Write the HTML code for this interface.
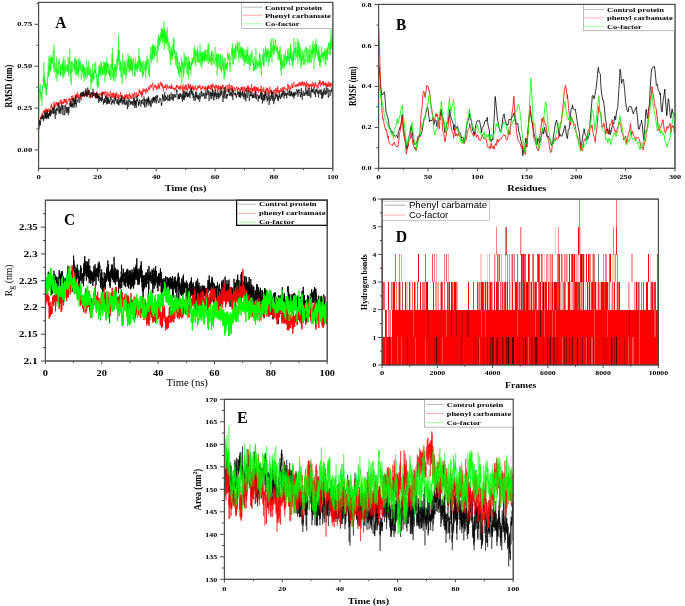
<!DOCTYPE html>
<html><head><meta charset="utf-8"><style>
html,body{margin:0;padding:0;background:#fff;}
svg{display:block;filter:blur(0.3px);}
</style></head><body>
<svg width="685" height="606" viewBox="0 0 685 606">
<rect width="685" height="606" fill="#fff"/>
<clipPath id="cA"><rect x="38.6" y="2.4" width="294.2" height="166.0"/></clipPath>
<path d="M38.6 149.9l.2-41.1.1 2.1.2-7.2.2-2.8.1-2.9.2-3.8.1-5.6.2 4.2.2-1.8.1-2.7.2-4.4.2 10.2.1-2.7.2 8.9.2-8.4.1 5.2.2-2.7.1-2.3.2 7.9.2 1 .1 4.9.2-4.4.2-15.3.1 3.6.2 2.4.2-7.2.1 2 .2 0 .1-10.3.2 4.3.2.3.1-19.1.2 23.2.2-7 .1 6 .2-9.8.2 12.2.1 0 .2 1.5.1-7.8.2 7.1.2-5 .1 1.3.2 10.8.2-1.4.1-8.3.2 2.7.1.2.2 7.2.2-3.2.1-7.7.2 4.8.2-11.8.1 4.5.2 3.4.2-9.7.1-2.9.2 3.4.1-11.6.2 5.1.2 7.7.1-1.3.2-20.1.2 6.3.1 7.1.2 5.2.2-15.9.1 6.2.2 7.1.1-5.5.2 4.6.2-12.7.1 8.2.2-.9.2 5.8.1-16.3.2 5.8.2 3 .1-6.8.2 6.9.1.4.2-4.3.2 3 .1-.6.2-5 .2 3.3.1 3.2.2-6.1.2-4.8.1-2.7.2 12.6.1 4.5.2-2.7.2 7.6.1-27.8.2 15.8.2 1 .1 3.7.2 4.9.2-5.1.1-1.6.2 6.2.1 2.8.2-3.9.2 1.5.1 8.5.2.4.2-10.2.1-11.6.2 15 .2-1.1.1 3.2.2 7.4.1-13.5.2 2.3.2 4.7.1-4.4.2 2.8.2-10.9.1 10.5.2-2.1.2 1.4.1 2.5.2-13.3.1 1.4.2-4.2.2 4 .1-1.5.2 5.9.2.6.1-.5.2 8.8.2-10.8.1 9.3.2-1.8.1 3.9.2-12.1.2 2.6.1-1.7.2 4.4.2-.3.1-1.5.2 6.9.1-5 .2-5.9.2 6.5.1-7.6.2 10.1.2 5.9.1-18.9.2 16.4.2-8 .1-2.7.2-9.2.1 8.2.2 12.3.2-10.9.1 4.8.2 2.5.2.4.1-1.4.2-12.7.2 9.3.1 4.1.2-1.5.1-3.6.2-3.5.2 1.7.1 2.1.2 3.3.2-.3.1-5.3.2 1.1.2 2.3.1-2.8.2-1.5.1 6.6.2-2.2.2 2.3.1-14.2.2 5.5.2 13.1.1-5.3.2-6.5.2 2.4.1 5.1.2-8.2.1-6.4.2 7 .2-5.3.1-9.9.2 20.7.2 12.1.1-12.9.2 4.3.2-.2.1-10.8.2-.2.1 9.9.2 13.3.2-3.9.1-20.6.2 12.1.2-4.4.1 3.5.2-2.6.2-4.3.1-3.4.2 4.9.1.8.2-.1.2-1.8.1-1.5.2 2.4.2 1.6.1-.8.2 3.2.2-4.8.1 4.8.2-12.4.1 11.7.2 1.1.2 2.7.1-1.2.2-14.7.2 10.2.1 7.1.2 1.1.1-14.2.2 1 .2 6.2.1-8.3.2 14.4.2-3 .1-11.7.2 11 .2.4.1-2.4.2 5.3.1-7.1.2 7.2.2-15.2.1 14.1.2 4 .2-4.9.1-5.6.2 4.8.2-14.3.1 12.2.2-8.4.1 4.4.2-2.1.2 5.7.1-1.9.2-6.4.2 3.4.1 6.2.2.1.2-6 .1 14.7.2-4.2.1-2.1.2-2.4.2-.8.1-5.2.2 2.1.2 5.9.1-5.6.2-1.1.2 6.3.1-8.6.2 13.2.1-6.5.2-1.3.2-1 .1-3.7.2 8 .2-5.1.1 14.2.2-14 .2 6.2.1-1.9.2-3.4.1 3.2.2 3.1.2-2.6.1 4.8.2-8.7.2 3.7.1 7.4.2-11 .2-7.5.1-1 .2 4.5.1-.3.2.3.2 13.3.1-10.6.2 4.4.2 4.2.1-8.9.2 8.6.2-2.5.1-.5.2.3.1-12 .2 4.9.2 9.2.1-1.7.2-1.7.2 4.1.1-5.7.2-3.1.2 4.3.1-1.1.2 7.4.1-.5.2-7 .2 20.4.1-9 .2-2.7.2 3.6.1-8.6.2 10.6.1-10.8.2 4.2.2 1.5.1-7.9.2-7.4.2 13.4.1 5.1.2-7.9.2-1.3.1-1.9.2 8.5.1-6.4.2-.3.2-.8.1 7.5.2-1.5.2-8.4.1-.2.2 3.9.2-10.9.1 10.1.2-2.8.1 3.4.2-2.5.2 2 .1-10.4.2 14.3.2-.8.1.6.2-2.1.2-.5.1 11.2.2-10 .1 2.4.2.6.2 4.5.1 6.4.2-7.9.2-1.8.1 7.1.2-8.2.2-7 .1 15.9.2-14.3.1-7.2.2 10.7.2-9.6.1 3.9.2 2.4.2-8.2.1 1.2.2 5.6.2 2.2.1-6.7.2 6.9.1.1.2-12.5.2 15.7.1-3.5.2-2.9.2-7.7.1 1.8.2 5.1.2 2.7.1 2.7.2-6.2.1-2.2.2 7.5.2.2.1-7.8.2 8.1.2-3.9.1-2.3.2-6.3.2 3 .1 6.5.2-9.5.1 7.4.2 4.3.2-10.4.1 18.7.2-20.6.2 9.3.1-3 .2-5.4.1 12.2.2 1 .2-1.3.1-8.1.2 8.6.2-6.2.1 1.7.2-12.8.2 14.9.1.2.2-10.9.1 4.5.2-2.3.2.4.1 5.5.2-6.1.2 9.9.1-2.5.2.2.2-1.6.1 2.5.2-7.7.1 9.3.2 2.4.2-6.7.1 6.1.2.7.2-5.6.1 7.8.2.6.2-10.1.1-4.9.2 5.3.1-1.3.2 11.3.2-12 .1-3.5.2 3.5.2-2.9.1-10.4.2 12 .2-18.8.1 23 .2-11.8.1 19.7.2-5.9.2 5 .1-9.6.2 3 .2 0 .1 10.4.2-10.1.2 4.6.1-2.4.2-4.9.1-2.6.2 6.9.2-9 .1 17.6.2-14.5.2 3 .1-2.7.2.2.2-2.6.1 5.4.2-1.6.1 8.7.2-18.6.2.3.1 1.7.2-.5.2 9.2.1-9.6.2 1.6.2-5.2.1-1.3.2 9.9.1-16.1.2 12.5.2-26.9.1 23.4.2-7.1.2 11 .1-6.4.2-5.4.1 10.5.2 4.6.2 5.9.1-11.2.2 11.1.2-7.9.1 3 .2-4.5.2 15.3.1.3.2-11.7.1-1 .2-.4.2 9.1.1 5.3.2-4.7.2 10.4.1-14.6.2-1.6.2-14.3.1 15.1.2.2.1 3.4.2-6 .2 8.3.1-9.4.2-5.4.2 10.5.1-3.5.2 7.8.2-12.9.1 3 .2 4.7.1 4.4.2 1.8.2-5.4.1-8.4.2 6.5.2 6.7.1 4.2.2-10.2.2 1.4.1-.7.2-.7.1 6.2.2-15.8.2 6.8.1 4.3.2-3.5.2-2.2.1 2.4.2-.4.2-12.9.1 10.7.2-4.7.1 7.8.2-11.4.2 7.6.1 8.8.2-8 .2 6.2.1-2.7.2-9.1.2-2.9.1 14.1.2-11.2.1 11.3.2-3.3.2-7.2.1 2.8.2.4.2 7.3.1-13.5.2 6.9.2 7 .1-10.1.2 10.6.1-12.4.2 6.8.2 9.7.1-11.9.2 5.6.2-4.7.1-.7.2-2.1.2-.8.1-2.6.2 6.3.1-1.7.2 3.4.2 10.9.1-5.2.2-1.7.2-5.7.1 2.8.2 9.1.1-1.6.2-16.4.2 10.6.1-5.4.2 1.4.2 4.2.1 2.5.2-8 .2 6.1.1-.7.2-2 .1-3.1.2-3.2.2 6.5.1 4.6.2-6.8.2 2.1.1 1.5.2-2.7.2-1 .1 2.9.2-12 .1 7.9.2-15.4.2 14.9.1 2.2.2-8.2.2 11.5.1 3.2.2-6.1.2-4.3.1 1.7.2-3.6.1 12.6.2-9.1.2 5.5.1-1.9.2-4 .2-.2.1 3.3.2 8 .2-9.7.1-.2.2 2.1.1-4.4.2 16.3.2-3.3.1-3.6.2-1.5.2-8.7.1 14.6.2-3.4.2 3 .1-5.2.2-2.7.1-3.4.2 4.2.2 2.5.1-.3.2-1.2.2-2.4.1-5.2.2 1.6.2 10.8.1 5 .2-16.2.1 9.2.2-10.8.2-1.5.1 6.8.2-1 .2 3.6.1-7.3.2-6 .2 8 .1 1.4.2-.5.1-4.4.2-1.3.2 9 .1 5.5.2-4.7.2.2.1 6.8.2-15.4.1 7.1.2-1.6.2 11.1.1-7.3.2-1.6.2-1.9.1 0 .2-16.5.2-2.4.1 12.1.2-4.2.1 4.9.2-1.8.2-3.6.1 8.6.2-7.4.2 2.2.1-10.9.2 8 .2-6.2.1-4.5.2 15.4.1-9.9.2 10.4.2-8.3.1-7.2.2 9 .2.6.1-8.6.2 6.4.2-4.3.1-1 .2 11.9.1-10.4.2-2.5.2 9.8.1-3.9.2 0 .2-3.8.1-1.3.2 2.8.2 6.8.1-2.2.2-1.7.1-2.2.2 2.8.2 1.6.1.6.2 3.7.2 4 .1-6.4.2-11.5.2 4.2.1-10.8.2 8.6.1 4.8.2-3.5.2-5.8.1-7.9.2 4.9.2 5.2.1-3.3.2-4.3.2 1.4.1 7.8.2-5.1.1-4.5.2 5.7.2-3.4.1-5.9.2 2.3.2 6.1.1-3.4.2-5.7.2-4 .1 10.2.2-3.3.1 4.4.2-11.1.2 9.3.1-8.5.2 14.8.2-8.6.1-5.7.2 5.2.2 2.3.1 4.3.2-9.4.1 4.4.2 2.3.2-17.8.1 18.9.2 9.7.2-5.7.1-16 .2 10.7.1-9.2.2 14.4.2-12.8.1 10.9.2-4.6.2 5.1.1-1.9.2-3.8.2-5.1.1 8.1.2 2.9.1 1.4.2-10.1.2 11.2.1-2.6.2-15.1.2 12.3.1 2.3.2-4.4.2 10.9.1 1.1.2-5.4.1 1.3.2-2.1.2 2.1.1-4.5.2 10.7.2.2.1.6.2 0 .2-6.9.1 0 .2 12.6.1-5.7.2 12.7.2-15.4.1.2.2 2.4.2.3.1-5.9.2 8.5.2-1.8.1 6.5.2-9.9.1 1 .2.5.2 8 .1-7.9.2 4.9.2-12.5.1 6.1.2 5.2.2-17.7.1 8.8.2 2.3.1 2.5.2-12.2.2 2 .1 13.2.2-3.3.2 2.9.1-3.2.2 8.8.2-2.8.1 1.4.2-1.6.1 8.7.2-1.5.2-11.5.1 9.2.2-6.8.2-2.6.1 6.9.2 2.3.2 6.3.1-11.6.2 3.9.1 9.6.2-12.1.2 7.7.1-3.4.2 1 .2 9.7.1 1.2.2-6.8.1 8.3.2-2 .2-4 .1-1.2.2-6.3.2 6.6.1 5.3.2 4.2.2-11.4.1 2.3.2 3.6.1-.8.2-4.9.2 6.5.1-.3.2-7.1.2.4.1-7.9.2 9.5.2 16.4.1-6.8.2-14.3.1 4.3.2-.3.2 1.5.1-7.6.2 5.9.2 5 .1-.4.2 6.2.2-9.4.1-4.9.2 10.4.1-21.3.2 10.4.2 0 .1 5.8.2-.6.2-9.8.1-2.6.2 12.3.2-3.4.1-4 .2 0 .1-3.7.2 2.6.2-2 .1 6.8.2-.1.2 9.4.1-8.5.2-7.2.2 7.6.1 6.5.2 2.3.1 1.5.2-12.3.2 4.5.1-11.2.2 14.5.2 8.2.1-13.6.2-2.7.2 7.1.1-10 .2 7.4.1-6.3.2 9.4.2-1.8.1-1.7.2 3.7.2-.3.1-4.8.2-.5.2 10.5.1-9.5.2-2.7.1-1.3.2 3.4.2-2.5.1 3.5.2-9.1.2 5.1.1 1.7.2-3.8.2-1.9.1 4.6.2-2.5.1 1.6.2-3.7.2-1.1.1 4.7.2-3.4.2-10.5.1 6.5.2 3.9.1-12.5.2 2.7.2 1.3.1-.2.2 14.4.2-13.7.1 4.4.2 4.2.2 7 .1-9.9.2-6.2.1 1 .2 3.7.2 1.2.1-3.3.2.7.2 8.5.1-8.1.2 8.2.2-14.8.1 6.7.2-3.1.1 9.4.2-6.4.2 6.6.1.8.2-1.1.2 2.7.1-3.5.2-7.3.2 6.9.1 4.2.2-5 .1-4.5.2-8.7.2-.9.1 7.9.2 5.7.2 7.9.1-11.6.2 6.4.2-4.9.1-3.7.2 10.7.1-8.8.2-.1.2 14.6.1-6.7.2 2.3.2-11.9.1 10.6.2-9.8.2-1.5.1.3.2 5.4.1 4.5.2-.8.2-6.9.1 5.6.2-3.2.2-.4.1 6.4.2-9.8.2 8.2.1-10.4.2 10.4.1-10 .2 9.4.2-2.2.1.7.2-8.4.2 5.9.1-1.3.2 3.8.2-3.1.1 6.8.2-7.8.1-1.7.2 0 .2-3.5.1 5.1.2 7.2.2-6.5.1-3.2.2-9 .1 21.4.2-14.4.2-2.6.1-2.4.2.2.2 4.3.1 10.1.2-.9.2 3.4.1-7.4.2 3.3.1 5.5.2-6.7.2 2 .1.4.2 2.3.2-2.2.1 4 .2 2.5.2-13.8.1 8.7.2-9.7.1 9.6.2 4.3.2-2 .1-4.7.2 2.1.2-2.8.1-5 .2 3.4.2-1 .1 5 .2-.8.1 3.8.2-1.8.2 3.9.1-7.3.2.6.2-.6.1-.4.2-2.9.2-7.1.1 8 .2 3.6.1 2.4.2-2.9.2 5 .1 3.9.2-12 .2 4.8.1 3.8.2-10.9.2 9 .1 6.6.2 8 .1-21.2.2 1.4.2 6.7.1 5.2.2-4.7.2-1.9.1-8.2.2 9.2.2-4.3.1-3.7.2 10.1.1 2.8.2-3.1.2-1.9.1-.2.2 5.1.2 2.7.1-13.7.2 4 .2-6.6.1 5.1.2 10 .1-12.6.2 13.6.2 0 .1-2.5.2-.5.2 6 .1-6.7.2-3.5.2-7.5.1 1.1.2 9.6.1-3.4.2 2.9.2 3.9.1-10.1.2 4.4.2 6.5.1-2.9.2 3.8.1 8.6.2-21.4.2 17.1.1 2.7.2-7.1.2 1.2.1 2.2.2-17 .2 11.3.1-4.9.2.9.1 5.2.2-4 .2 2.9.1-2.3.2 1.3.2-4.6.1 5.7.2-1 .2 3.2.1-8.6.2 3.5.1-14 .2 5.7.2-.6.1-3.3.2 6.2.2-3.7.1 2.1.2 1.1.2 1 .1-3.3.2-3.9.1 13.1.2.5.2-5 .1 10.3.2-2.1.2-2.1.1-2 .2-4.2.2-5.1.1.6.2 2.9.1-4.5.2-2.3.2-3.3.1 2.9.2-5.6.2 6.8.1 1.8.2-12.6.2 15.4.1 5 .2-15.5.1 5.6.2-.8.2 8.3.1.5.2 3.1.2-16 .1.1.2 8.2.2-1.8.1-4.6.2.6.1 8.2.2-11.5.2 3.7.1 3.4.2-8.7.2 4.3.1-7.9.2 16.3.2-4.4.1-4.5.2.9.1-1.1.2-.4.2-3.8.1 2.3.2-.8.2 4.3.1-9.3.2 6.6.1-7.6.2 2.3.2-.1.1 5.3.2 3 .2 9.6.1-10.7.2 6.5.2-7.1.1 4.1.2-3.5.1-8.8.2 5.3.2 3.9.1 2.5.2-4.7.2 9.6.1-8.3.2-3.7.2 5.7.1-4.1.2 9.3.1-10.5.2 4.7.2 4.1.1.3.2-8.6.2 6.6.1-4.5.2 10.5.2-9 .1 4.6.2-7.9.1 9.3.2 1.5.2-8.1.1 5.8.2-3.2.2 12.8.1-10.3.2 6.3.2-2.3.1-6.8.2-3.9.1 7.5.2 5.1.2-1.2.1-5.2.2 8.1.2-4.3.1-4.7.2-1 .2 1.2.1 7 .2-12.1.1 7.4.2-6.3.2 13.6.1-9.3.2-1.7.2-6.2.1 1.8.2 12.8.2 2.3.1-5.6.2-2.7.1 4.6.2 4.8.2-6.6.1-1.4.2 5.5.2-7.6.1 15.1.2-11.3.2-1.7.1 6.5.2-.2.1 3.1.2-7.9.2-5 .1 3.3.2.3.2-4.2.1 2 .2 8.2.2-1.7.1-1.9.2-8.7.1 6.6.2 0 .2 1.6.1 4 .2 1.1.2-6 .1 12.8.2-7.4.1 5.8.2 1.6.2-3.6.1 3.9.2-1.8.2-1.8.1 1.5.2-12.5.2 6 .1 5.5.2 1.6.1-7.7.2 6.2.2-9.6.1-10.6.2 9.5.2 12.1.1-2.9.2-4.3.2-2.7.1 4.4.2-1.1.1 1.1.2 2.6.2-3.4.1-1.9.2 8 .2-2.3.1-1.5.2-1.1.2 1.6.1-6 .2 2.4.1-.7.2 4 .2-3.4.1-8.7.2 5.6.2-5.8.1 14.3.2-10.6.2 4.6.1 6.7.2-3 .1-4.6.2 4.5.2-2.1.1.4.2 12.8.2-12.3.1-1.3.2.5.2-2 .1-6.2.2 2.9.1 2.5.2-1.1.2.8.1 4.2.2-10.9.2 12.7.1-17.7.2 7.8.2 6.3.1 3 .2-2.6.1-10.6.2.9.2-.2.1 4.2.2-2.6.2-7.3.1-.7.2 6.9.2-5.3.1 12.1.2-7.3.1-3.9.2 2.2.2 10.8.1-5.4.2-2.1.2-2.5.1 4.6.2-6.7.1 3.5.2 2.8.2-8.2.1 7.9.2-.2.2 10.6.1-15.5.2 2.4.2-.7.1-1.7.2 7.4.1 4.1.2-5.7.2-.2.1-2.5.2 5 .2-8.6.1-8.9.2-.1.2 11.1.1 4.6.2-5.8.1 5.8.2-18.5.2 14.5.1-4.8.2.6.2 13.5.1-13.8.2.7.2-3.4.1 2.4.2 3.2.1.4.2-14.2.2 2.4.1 9.2.2 4.5.2-9.8.1 11.3.2-8.6.2.9.1-1.9.2 5.4.1-6.2.2.6.2.4.1-6.8.2 4.1.2-2.9.1 9.1.2.8.2-3.2.1 1.9.2-.9.1 4.1.2-4.3.2 2.3.1-5 .2 7.2.2-1.1.1-3.9.2.1.2 12.7.1-7.9.2 3.5.1-.2.2-4.5.2 7.7.1 0 .2-4.4.2 2.6.1 2.5.2.1.2-9.7.1 10.7.2-9.5.1-4.9.2 17.2.2-4.6.1 1.8.2 10.3.2-17 .1 11.8.2-9.3.1 19.5.2-11.9.2-3.6.1.1.2 1.9.2-2.6.1 8.6.2-5.5.2 4.1.1 2.2.2-3.8.1-2.3.2 1 .2 1.9.1-5.4.2-6.2.2 12 .1-7.5.2-3.5.2 13.2.1-6.4.2-4.7.1 2.5.2-.2.2-8.7.1 7.6.2-.9.2 7.2.1-1.1.2 0 .2.6.1.2.2-8.5.1 7.8.2-8 .2 1.4.1 4.8.2-7.9.2-4.5.1 9.2.2-.1.2-10.5.1 7.3.2 4.5.1 1.3.2-5.3.2 1.1.1.9.2 1.8.2 5.2.1-11.5.2 4.5.2-9.9.1 6.8.2-2.3.1 5.9.2-15 .2 10.5.1 4.8.2-2.6.2-7.3.1 6.8.2 4.9.2-1.2.1-3.5.2 9.3.1-12.4.2 7.1.2-3.2.1 5 .2 5.6.2-10.4.1 3.5.2-8.9.2 11.3.1-14.4.2-10.5.1 15.7.2.7.2-1 .1-5.8.2 8.6.2-1.2.1 1.8.2 3.3.2-7.1.1-4.8.2 5.7.1-12.1.2 10.8.2-5.5.1 3.5.2 6.1.2-2.8.1 3.7.2-3.2.1-2.5.2-2.7.2 5.5.1-16.2.2 22.3.2 2.8.1-10 .2-4 .2-8.3.1 7.8.2 6.8.1-5.1.2 5.6.2-7.7.1-5.7.2 17.3.2-10.6.1-3 .2 8.1.2 2.7.1-1.3.2.9.1-9.8.2 21.2.2-12.7.1 3.7.2 3.2.2-3.3.1-1.8.2 7.9.2-15.7.1 10.6.2-.7.1-1.1.2-3.1.2-3.5.1 4.9.2 1.7.2 1.6.1-5.9.2 10.2.2-9.4.1-4.7.2.7.1-1.7.2 7.9.2 5.8.1-4.2.2 6.2.2-1.8.1-2.1.2-7.9.2-1.8.1-4.7.2 4.5.1 2 .2-6.1.2 9.2.1 2 .2 3.2.2-1.3.1-9.2.2-3.1.2.9.1 7 .2 8.4.1-.5.2-8.7.2-3.1.1-1.7.2-.6.2 8.9.1-3.2.2 7.3.2-5 .1 3.3.2-6 .1-6.1.2 13.4.2-17.6.1 5.3.2 3.9.2 3.4.1-1.7.2 6.3.1-1.1.2 2.4.2-8.7.1-4.3.2 3.7.2-5.4.1 7.5.2 3.2.2-14.8.1 6.8.2 2.2.1-1.3.2 1.6.2-12.9.1 14.4.2-3.5.2-4.5.1 12.2.2 9.9.2-11.6.1-2.4.2.8.1-6.4.2-5.7.2 9.4.1-1.3.2-6.4.2 12.5.1-9.4.2-9.9.2 12.3.1-7.7.2 5.4.1-4.8.2 9.5.2-7.4.1 4.1.2 4 .2-2.3.1.3.2 2 .2.9.1-6 .2 9.7.1-8.1.2 10.4.2-3.2.1.2.2-12.3.2 15.7.1-10.2.2 14.8.2-7.2.1-3.9.2 5.3.1-5.5.2 6.9.2-4.2.1 7 .2 2.5.2-7.6.1 3 .2-9.1.2-7.1.1 7.4.2 4.6.1 0 .2-5 .2 3.5.1-1.7.2-1.9.2 4 .1-3.1.2-1.7.2 9 .1-9.3.2-.4.1 2.9.2 3.8.2-3.6.1-.9.2-3 .2 5 .1-3.8.2 2 .2-5.9.1 16.9.2-.2.1-11.3.2-3.4.2 13.6.1-6 .2-4.7.2 2.2.1 4 .2-9.7.1 6.7.2-1.9.2-6.6.1 4.2.2-3 .2 11.3.1-13.4.2 3.8.2 3.7.1-2.4.2-9.6.1 1.2.2-1 .2 5.6.1-.6.2-4.5.2 9.3.1.5.2 2.1.2-12.9.1 9.9.2-.6.1 3.5.2-16.3.2 10.7.1-4 .2-16 .2 14.6.1 4.9.2-6.6.2 1 .1 3.9.2-10.7.1 8.3.2-.7.2-.2.1-3.4.2 17.6" fill="none" stroke="#00ff00" stroke-width="0.5" stroke-opacity="1" stroke-linejoin="round" clip-path="url(#cA)"/>
<path d="M38.6 130.2l.2-1.5.2-2.5.2-4.4.2-1.1.3 1.9.2-1.6.2-2 .2-.6.2-1.4.2 2 .2.2.2-1.6.2-2.2.2-.6.3-1 .2-.9.2 1.7.2 3.2.2-3.5.2 1.6.2-2.5.2-1.8.2.6.2-.9.3-1.3.2 2.4.2-2 .2.2.2 1 .2-.2.2-.2.2-1.9.2 2.5.2-1 .3 2 .2-3.4.2-1.2.2 4.8.2-3.6.2 4.3.2-4.4.2.8.2.5.3-.2.2-.1.2 1.8.2-1.7.2-2 .2.3.2 1 .2.6.2 3.4.2-4 .3 1.7.2 2 .2-3.5.2 1.6.2-2.3.2-3.8.2 2.6.2-3.1.2-1.3.2 1.7.3 1.2.2 1.4.2 2 .2-.8.2-1.6.2-.4.2.2.2 1 .2-.3.3-6.3.2 4.8.2-1.7.2-.3.2-.2.2-.7.2 2.2.2.9.2-2.5.2-.5.3-1.3.2 1.7.2.3.2-2.1.2 3.1.2-.9.2.4.2 1.2.2-.1.2-3.9.3 1.9.2 3.3.2-2 .2-1.1.2-1.5.2 2.7.2-2.2.2.1.2-1.2.2-1.8.3.6.2 1.2.2 1.1.2.8.2-4.6.2.3.2 6 .2-3.2.2-.7.3.1.2 1.9.2-1.1.2.4.2-1.8.2.2.2 2.4.2-.1.2-2.2.2-2.5.3 3.3.2-1.7.2-1.6.2 3.4.2-3.1.2.4.2 2.8.2-2 .2-1 .2-.9.3.3.2 1.5.2 4.4.2-2.8.2 1.6.2-2.8.2-.1.2.5.2 0 .3-1 .2-1.2.2-.8.2 1.1.2.5.2-.8.2 2.4.2-2.2.2-.8.2.8.3 1.3.2-.8.2 1.5.2-2.4.2 1.6.2-2.3.2-2.4.2 3.7.2-.4.2-.5.3 1.9.2-3.9.2-1.2.2 3.9.2-1.8.2 4.1.2-.6.2 1.1.2-1.5.2-1.5.3 0 .2-1.3.2-1 .2-2.3.2 1.5.2 1 .2-2.2.2 2.3.2-2.4.3 3.8.2-4.1.2 1.2.2 2.1.2-5.7.2 3.7.2 1.3.2-1.5.2 2.7.2-2.5.3-1.4.2.8.2.8.2 2.1.2.9.2-.3.2-2 .2-2.2.2-.2.2 3.1.3.6.2-.9.2 0 .2-1.6.2 4.2.2.7.2-5 .2.6.2-.7.3 1.1.2-2.6.2.6.2 1.9.2-.3.2-1 .2-.9.2.2.2-.3.2 3 .3-1.2.2-.2.2-3 .2-1.7.2 3.1.2 1.8.2.2.2-2.2.2.1.2-.9.3 1.6.2 1.9.2-1.6.2-1.7.2 1.3.2.6.2-.7.2-4.9.2 1.7.2 2.9.3.5.2-.6.2 4 .2-.5.2-2.7.2.5.2-1.1.2 0 .2 4.1.3-.1.2-2.1.2 0 .2-1 .2-1.6.2 1.1.2.8.2 2.5.2-.6.2-3.8.3-1.2.2.2.2 2.6.2.3.2-2.5.2 3 .2-2.2.2.3.2-.1.2 2.8.3-2.8.2-.5.2 2.6.2-1.4.2-.2.2 0 .2 4 .2-6.8.2 5.3.3.9.2-2.5.2-1.2.2-1.3.2 2.8.2-1.1.2 1.3.2 1.8.2-1.8.2-.8.3-.7.2 2.3.2-1.9.2-.7.2.3.2-1.4.2 1.9.2-.1.2.5.2.2.3-.8.2 2.4.2-4.7.2 3.8.2-1.6.2.1.2-.7.2-1.1.2-1 .2 2.7.3-2.4.2 1.9.2-1.4.2-.9.2.6.2 3.3.2-2 .2-.2.2-1.1.3.9.2-1.9.2 2.4.2.6.2 1.6.2 3 .2-1.8.2.8.2-2.9.2-3.2.3 2.7.2 2.1.2 0 .2-2.9.2-1.3.2.8.2.4.2 2.3.2-.2.2 1.4.3-.6.2-2.4.2 1.1.2 1.5.2-3.2.2-2.2.2 2 .2-.4.2.9.3 3.7.2-.1.2-3.6.2-.2.2.6.2.7.2-1.7.2 4.5.2-1.7.2-2.3.3-.2.2 4.2.2-3.7.2-1.2.2 6 .2-.6.2-.7.2 1.2.2-3.9.2 3.7.3-5.1.2 2.5.2 2.6.2-4.1.2.9.2.8.2-3.7.2 1 .2 2.2.2 2.5.3-.6.2-1.2.2 1.6.2-3.8.2.5.2 4.3.2-1.3.2-.8.2 2.5.3-2.6.2-1.7.2.2.2.8.2.5.2.4.2-4.8.2 2.5.2.2.2 2 .3-1.3.2 2 .2-2.1.2-.4.2 4.2.2 0 .2-1.5.2-1 .2 2.3.2-1.8.3 2 .2-.5.2-.7.2-1.2.2-1.3.2 3.2.2-1.5.2-2.5.2 1.1.3 3.2.2-3 .2 3.1.2-.1.2-2.1.2-3 .2 2.7.2-.7.2-1 .2 3.2.3.7.2-2.7.2-1.4.2 4.6.2-.9.2.5.2-1.2.2-1.7.2-1.2.2 1.1.3-2.7.2 2.4.2 2.7.2-3.2.2 1.6.2-.1.2 2.5.2-1.7.2-.8.2 2 .3-2 .2.1.2-1 .2-2 .2 1 .2-.6.2 4.5.2-4.9.2.8.3 2.2.2.6.2-1.6.2-.8.2-.2.2-2.3.2.2.2 2.6.2 2.1.2.1.3.8.2-2.6.2-3.5.2.5.2 1 .2 1.8.2 2.1.2-1.5.2-.3.2.3.3-2 .2 2.1.2-2.1.2-.3.2 2.8.2-4.6.2-2.3.2 3.5.2-.6.3-2.6.2 3.1.2.5.2-1.3.2-.6.2.2.2 3.3.2-2 .2-.7.2-1.3.3 6.5.2-6 .2 3.9.2-2.7.2 1.7.2-1.9.2-4.1.2 3.5.2-1.9.2 1.4.3-1.2.2.7.2-.2.2.5.2-1.6.2 1.5.2-1.8.2-.4.2 3.8.2 1 .3-2.7.2-2 .2-1.1.2.7.2 3.1.2.5.2-1.2.2-.9.2 1.3.3-.2.2-1.6.2.3.2-3.1.2 1.9.2-.4.2 0 .2-.7.2 2.5.2-2.1.3-3.1.2 1.6.2.7.2 0 .2-1.9.2.5.2 1.1.2.5.2-2.6.2.6.3.3.2-1.2.2-1.1.2-.7.2 6.2.2 1.2.2.5.2-3 .2.9.3-.9.2-.5.2-1.8.2 1.9.2.3.2.1.2-2.9.2 1.7.2.4.2-.8.3 1.2.2-.7.2 3.6.2-2.8.2-1.6.2 1 .2 1.4.2.5.2.4.2-1.9.3-3.8.2 1.7.2 1.9.2 2.3.2-4.4.2 3 .2-1.5.2.4.2-2.3.2-1.6.3-.6.2-.4.2 2.9.2.9.2-1 .2-1.9.2 3.8.2-.8.2-.2.3-2 .2 3 .2 1.4.2-2 .2 3 .2 2.4.2 0 .2-1.5.2-3.1.2 1 .3-1.9.2 2 .2-1.4.2 1.5.2-.4.2-.2.2-2.7.2 1.6.2-1.6.2 4.2.3 1.3.2-1.5.2-.9.2.6.2-1.9.2-1.6.2 2.6.2 0 .2 1 .3.4.2-.5.2-1.7.2.7.2-.1.2-1.4.2 2.2.2-1.2.2 0 .2 2.1.3-.1.2-1.1.2-1.5.2 2.5.2-.6.2-3.5.2-.7.2 4.7.2-2.5.2 1.3.3 1.2.2-.5.2.3.2-.4.2-.5.2 1.6.2.5.2-1.5.2 1.6.2-1.3.3.5.2 2 .2-2.8.2 1 .2-1 .2-.6.2 1.6.2-2.9.2.1.3 1.3.2-2.8.2 1.7.2-1 .2 1.7.2-.3.2-.4.2-.7.2 1.6.2 1.9.3-1.7.2.8.2-2.3.2 1.2.2 1.7.2-2.7.2 1.3.2 0 .2 2.3.2-3.3.3-1.8.2 1.2.2.5.2.7.2-.1.2.5.2 1.2.2-1.6.2 4.1.3-.2.2-6.5.2 2.2.2 5.1.2 2.7.2-3.8.2-2.6.2-2.1.2.6.2 1.7.3 1.1.2-2.8.2-.8.2-1 .2 2.2.2 3.2.2-2.5.2-3.1.2 1.7.2 3.4.3-1.7.2-.2.2 1.7.2 1.9.2-.6.2-3.4.2-1.4.2-2.4.2 2.7.2 1.5.3-3.4.2 4.3.2-2.4.2 2.3.2-1.5.2 1.8.2-1.9.2-.5.2-2.4.3 3.6.2.6.2-.4.2 2.6.2-4.4.2 2.6.2.9.2-3.2.2 2.2.2.2.3-3.6.2 1.6.2-.4.2 4.8.2-3.4.2.2.2 1.5.2-2 .2-.1.2-.6.3 2.3.2-2.9.2-1 .2 3.6.2.3.2-.5.2-.1.2 2.6.2-2.6.3 1.1.2.1.2-2.3.2.8.2-1.3.2-1.4.2 2.6.2-2.3.2 1.7.2.1.3-1.1.2-.3.2 1.4.2-.2.2-2.8.2 1.3.2 2.5.2.4.2.7.2-1.8.3-.3.2 2.3.2-1 .2-.4.2.8.2-2.9.2.2.2 1.6.2.2.2-1.2.3-1.3.2.5.2.1.2 1 .2 1.6.2-1.5.2 1.1.2.4.2-.6.3 2.4.2-4.7.2 1 .2 2.3.2 1.8.2-2.7.2.3.2-1.3.2-.1.2 1.3.3-.9.2 1.2.2-3 .2.9.2 1.7.2-3.7.2 3.3.2-1.7.2 2.7.2-.4.3-.7.2-1.7.2 2.4.2 0 .2.3.2-.1.2.6.2-4.8.2 2.8.3 2.7.2-1.6.2-4.3.2 1.1.2 2.8.2-2.9.2 1.6.2-.9.2-2.4.2 1.6.3 1.8.2.1.2-.6.2.4.2-.7.2 2.6.2-1.6.2-.4.2.9.2-2.8.3 6.4.2-1.3.2 1.2.2-2.2.2-2.3.2-1.7.2 2.7.2.2.2-1 .2-.3.3-.5.2 1.9.2 2.7.2-3.5.2-2.5.2 5.2.2-2.9.2-1.3.2 1.7.3 1.5.2-.1.2-1.2.2 2.3.2-3.7.2 1 .2-1.3.2 1.8.2-.4.2 1.3.3-1 .2 1.7.2-1.7.2-1.7.2.7.2-1.8.2 3.3.2-3.6.2 4.2.2 1.1.3-2.1.2-.2.2.2.2.3.2-.5.2-.3.2.5.2 1.9.2-2.6.3 1.5.2-2 .2-1.4.2 3.3.2.4.2 2.1.2-.1.2 1.1.2-2.2.2-.2.3-3.8.2-1.2.2.1.2 4.8.2-.4.2 2.4.2-2.9.2-.9.2-.2.2-3.8.3 4.6.2.8.2-1.2.2 1.4.2-1.7.2 2.9.2-4.4.2-.9.2 1.7.2-1 .3 1.3.2 3.2.2-1.7.2 3.4.2-6.3.2 5.7.2-1.4.2.8.2.3.3-2 .2 1.2.2-.7.2-2.6.2 1.4.2-.2.2 1.1.2 2.3.2-3 .2.3.3.2.2-.1.2-1 .2-1.5.2.7.2.1.2-.5.2 5.1.2-.9.2-1.8.3-1.5.2 1.6.2-1.2.2-.7.2 1.6.2-1.1.2 4.8.2 1.3.2-2.7.3-1.1.2-1.4.2 1.2.2.4.2.2.2-.7.2-2.9.2 1.4.2-1.5.2 2.8.3-2.2.2 2.2.2 1.8.2-1.5.2-1.9.2-1.4.2 3.7.2 1.2.2-.2.2-2.1.3-2.8.2.1.2 3.7.2 1.5.2-.7.2-3.8.2 2.7.2 1.1.2-1.8.2 1 .3 1.6.2-.6.2 0 .2-3 .2-.6.2-2 .2 1.6.2 0 .2 1.6.3-3.4.2 6.3.2-5.2.2 2.9.2-.2.2.6.2-2.5.2 5.3.2-3 .2-.5.3.7.2-1.2.2-.6.2 3.1.2 1.8.2-.9.2-1.9.2-6.2.2 4.1.2.5.3 2.3.2-3 .2 1.3.2 3.1.2-.2.2-3.6.2 1.7.2-3.7.2.2.3 1.4.2 3.1.2-4.2.2 1.4.2-2.2.2 4.7.2 1.8.2 1.7.2-7.1.2 3 .3.7.2-3.3.2.8.2-1.6.2 3.4.2 0 .2-2.1.2 2.7.2-1.2.2-2.4.3.2.2 5.3.2-.2.2-2.3.2-.2.2.3.2-1.4.2 1.1.2.5.2-1.8.3 1.3.2 1 .2 2.3.2-7.8.2 5.5.2-1.5.2 4.1.2 1.3.2-2.2.3-1.5.2-.2.2-2.5.2 1.5.2 1.6.2-.7.2-2.1.2-1.6.2 2.1.2 3 .3-.5.2 1.6.2-2.2.2-.6.2-.6.2 1.2.2-2 .2 1 .2-.5.2-1.1.3-1.2.2 4 .2-1.4.2-2.4.2 1.6.2 1.4.2 3.6.2-5.9.2.6.3 3.4.2-1.2.2 2.2.2-1.2.2 2.3.2-1.2.2-2.5.2-4.3.2 2.1.2.4.3 3.3.2-1.6.2-.3.2 2.5.2-3.3.2 4.3.2 0 .2-3.2.2 2.3.2.7.3-1.4.2-.5.2 1.2.2.2.2-2.2.2 2.3.2-3.5.2 1.5.2-1.3.2-.2.3 1.6.2 3.5.2.5.2-3.8.2-1.5.2-2.3.2 2.9.2 2 .2-2.7.3 1.1.2-2.3.2-.6.2 2.1.2 2.2.2-6.5.2 1 .2 3.3.2.7.2 2.2.3-1.8.2-1.1.2 2.8.2-2.9.2 2.2.2.4.2-2.3.2.9.2-.9.2-.9.3-1.3.2 2.4.2-.7.2 1.5.2.8.2-3.9.2.6.2-.9.2-1.1.3 3.1.2 3.7.2-3.1.2-.4.2-3 .2 2.3.2-1.2.2-1 .2-.2.2-.7.3 2.1.2.3.2 1 .2.1.2-.5.2-.7.2-.5.2-.1.2 2.3.2-.8.3-.4.2 1.5.2-.9.2-3.2.2-3 .2 1.4.2 3.1.2.8.2-1.3.2-2.9.3 2.9.2.8.2.3.2 3.2.2-6 .2.5.2.6.2 2.3.2-.2.3.1.2-1 .2-1.1.2-2.9.2-.2.2-.5.2 2 .2 2.2.2-1.8.2 2.1.3-3.2.2-2.1.2.4.2-.9.2 0 .2 1.4.2 2.6.2.6.2-.3.2-.9.3 1.2.2-1 .2.4.2-1.6.2-.7.2.2.2 1.6.2-.8.2.1.3 2 .2-2.8.2.5.2 1.1.2-1.4.2-.9.2 1.6.2.8.2-1.5.2-.2.3-2.5.2 3.6.2-1.5.2.4.2-1.2.2 2.2.2-.8.2.4.2-2.8.2 3 .3 1 .2-2 .2.7.2-1.6.2-1.7.2 2.8.2-.5.2-2.6.2 3.6.2.6.3-2.7.2 1.1.2 2.2.2 0 .2-.6.2-3.5.2 2.6.2-1.3.2-.4.3 2.9.2-.9.2.7.2.7.2-2.3.2.9.2 2 .2-5.6.2 1.9.2.7.3.7.2-1.1.2 1 .2 5 .2-5.2.2-.3.2-.3.2 2.2.2-1.3.2.1.3 5 .2-5.3.2 0 .2-.6.2 1.8.2.7.2-.6.2-1.9.2 2.6.3 1.1.2-2.9.2 1 .2 1 .2-1.2.2-2.2.2-.9.2 3.1.2 1.1.2-.4.3-2.6.2 1.6.2 1 .2.7.2-1.9.2 3 .2-.3.2-3.3.2-2.4.2 2.8.3 1.1.2-2 .2 1 .2.5.2.3.2.8.2-.3.2 1.4.2-3 .2 1 .3 1.7.2-.7.2 1.8.2.1.2-1.4.2-4.9.2 2.2.2.6.2-4.5.3 3.1.2.2.2-.4.2-2.7.2 5.9.2-.5.2-1.7.2-1.1.2-.6.2.8.3 1.5.2-1 .2 1.2.2-3.3.2.1.2 1.5.2-2 .2 2.4.2-2.8.2 4.8.3-1.5.2.8.2-.8.2-1.2.2 1.6.2-.7.2 1 .2-.5.2-1.5.3 3.2.2-4 .2 1.8.2 1.2.2 1.2.2-.3.2 0 .2-2.8.2 4 .2-2.8.3 2 .2-2.5.2 1.8.2.8.2-1.8.2-3.3.2 2.3.2 2.8.2-.7.2-1.2.3-2.1.2 2.8.2 1.9.2-3 .2-1.2.2 2 .2-1 .2 1.1.2-1.3.2-.2.3 2.5.2 2.2.2-6.7.2 1.9.2.5" fill="none" stroke="#ff0000" stroke-width="0.6" stroke-opacity="1" stroke-linejoin="round" clip-path="url(#cA)"/>
<path d="M38.6 129.8l.2-1.3.2.4.2-6.1.2-2.7.3.5.2 5.1.2-4.5.2 3.9.2-1.3.2-3.9.2-2.1.2-.5.2 1.9.2-3 .3 2.2.2-.1.2-2.6.2 1.8.2.7.2.9.2-3 .2 0 .2 5.2.2-3.4.3-2.7.2 4.1.2-4.3.2-3.3.2 2.4.2-.7.2 2.6.2 2 .2-5.2.2 5.4.3-5.8.2 6.7.2-3.8.2 2.6.2-4.9.2.7.2-3.3.2 1.7.2 5.8.3-4.8.2 6.1.2-5.5.2 1 .2 3.1.2-3.9.2-.6.2.3.2 2.1.2-3.8.3 3.7.2-4.9.2 5.8.2-1.5.2-4.5.2-1.1.2 4.9.2-3.5.2.9.2.7.3 1 .2-1.7.2-1.1.2-3.6.2 5.1.2.4.2.9.2-5.3.2 5.9.3-2.2.2 1.4.2-1.5.2-6 .2 5.8.2.8.2 6.6.2-7.6.2.3.2-2.3.3 5.8.2-1.8.2-4.3.2-1.3.2.6.2 1.4.2 1.2.2-2.2.2 1.6.2-2.5.3-5.1.2 3 .2 2.9.2.5.2 4.6.2-4.1.2 2.9.2-5 .2-2.1.2 3.1.3-1 .2 3.8.2-3.6.2 6.4.2-2.9.2-2.2.2-3.5.2-.1.2-.9.3 5.3.2-.6.2-3.6.2 8.4.2 1.4.2-5.2.2-.8.2-.5.2.2.2-3.9.3 4.3.2 4.3.2 1.5.2-1.4.2-3.2.2.1.2-6.1.2 1.3.2 2.3.2 1.5.3 3.2.2-5.8.2.8.2-.3.2 4.4.2-5.1.2 3.1.2 2.5.2-.2.3 2.8.2-3.6.2-4.7.2 6 .2-4.8.2-2.7.2-.7.2-2 .2 1.5.2-.8.3 2.7.2-5 .2 2.2.2 4.1.2-6.1.2 1.4.2 4.1.2-1.9.2.1.2 2.4.3-4.2.2 3.1.2-8.2.2 2.6.2.7.2-2.6.2 3.6.2 5.7.2-4.2.2-3.9.3 5.7.2-2.7.2.8.2-6.3.2 6.5.2-5.6.2-2.1.2 6.2.2 5 .3-4 .2.4.2-3 .2-1.6.2 1.8.2-.5.2 1.4.2-1.1.2-.8.2 0 .3-1.6.2-.7.2-.4.2 5.7.2-1 .2 0 .2-.3.2-1.9.2.2.2-3.3.3-3.7.2 2.5.2-3.6.2.3.2 2.9.2 1.1.2-2.1.2 1.3.2-3.5.3 1.7.2 1.5.2-3 .2 4.5.2-2.7.2-1.9.2-.9.2 1.4.2 1.4.2 2.4.3-2 .2.4.2.7.2-3.1.2 1 .2-5 .2.3.2 3.2.2-1.5.2 6.3.3-4.7.2 4.8.2-1.7.2-2.3.2-2.3.2-3 .2 6.2.2 1.2.2-2.3.2-2.2.3 4 .2-1.3.2-.6.2-2.1.2 1.6.2.8.2 2.4.2 2.2.2-3.4.3.1.2-1.7.2.9.2.7.2-1.9.2 3.2.2.3.2 2 .2-.8.2-2.7.3-5.3.2 1.7.2.5.2 5.1.2-1.8.2.3.2-.9.2.5.2.2.2-1.6.3 2 .2 1.8.2-2.9.2 4.2.2-2.2.2 2.8.2-5.3.2 2 .2-2.2.3 1.3.2 3.9.2-4 .2 4.1.2-.4.2-4.1.2 4.1.2-.1.2 1.7.2 3.4.3-6.9.2 5.3.2-5.1.2 1.6.2.7.2-.1.2.3.2-1.3.2 3.2.2 0 .3-3.2.2 2.3.2 1.9.2-2.5.2-1.4.2 2.9.2-8 .2 6.1.2.2.2 1.1.3-.4.2 4.9.2-3.3.2 1.7.2-.5.2-3.7.2-.5.2 4.8.2-3.3.3.4.2 2.2.2-6.4.2 2.5.2-2.8.2.9.2 2.6.2 5.3.2-5.3.2-1.1.3.4.2 5.1.2-6 .2 4.6.2 1.9.2-6.9.2 1.7.2 2.5.2-1.9.2 3.4.3-2.3.2 3.4.2-.9.2-1.4.2.3.2-4.4.2.1.2 2 .2-3 .3 3.1.2 4.6.2-.7.2 1 .2-2.7.2.8.2-.5.2-2.1.2 2.4.2-3.2.3.5.2.2.2 2.6.2.6.2-1.8.2 3.1.2-3.8.2-1.2.2.8.2-1.6.3-2.4.2 4.5.2-1.6.2-.8.2 2.2.2 1.9.2.9.2-1.4.2.1.2-1.6.3-.9.2 4.3.2-2.8.2-2.4.2 6.1.2-3 .2-.6.2 4.3.2-2.7.3-1.6.2-1.3.2 1.4.2 1.5.2-4.1.2 2.5.2 1.3.2-4.7.2-.2.2 2.5.3 1 .2-5.5.2 6 .2 3 .2-3.3.2-.8.2-.8.2 3.5.2.3.2-1.2.3-1.5.2 1 .2-2.9.2 5.6.2-7.2.2 3.6.2-1.5.2 2.7.2-.1.3 3 .2-1.8.2.1.2-1.8.2 2.9.2-1.2.2-.6.2-3.1.2 4.1.2 5.6.3-2.8.2-4 .2-1.1.2 5.6.2-6 .2-.9.2.7.2-2 .2.6.2.5.3 2.3.2-.7.2 3.9.2-2.2.2-1.3.2.8.2 1.2.2-2.9.2 2.1.2.6.3-1.4.2-.5.2 3.4.2-.7.2-3 .2 2.9.2 1.3.2-.6.2.2.3-7.2.2 4.5.2.5.2-5.6.2 8 .2 2.6.2-2.2.2-5.3.2 5.1.2-5 .3 3.6.2-2.3.2 6.3.2-6.2.2-1.8.2 1.3.2-5.7.2 5.6.2-1.4.2-1.2.3 1.9.2.9.2 4.7.2-3.5.2-.7.2 2.7.2-3 .2 1.3.2-3.7.3 2 .2 0 .2 3.3.2-.2.2 1.4.2.8.2-.5.2-6.3.2 3.5.2-1.2.3 1.5.2.1.2-3.1.2-1.3.2 2.6.2.7.2 0 .2.4.2 1.7.2-3.3.3-5 .2 4.3.2-1.7.2 8.3.2-5.2.2-1.6.2-1.3.2 1.7.2-1.1.2.8.3 6.5.2-4.4.2 1.5.2-3.4.2-2.6.2 4.7.2-3.2.2-1.1.2 3.6.3-2.8.2 6.1.2-9.2.2 5.3.2-.7.2-3 .2 5.2.2.3.2-1.4.2-1.3.3 5.1.2.1.2-3.2.2-2.5.2 2.7.2 4.2.2-5.4.2-.1.2-2.8.2-.3.3 1.2.2 2.3.2 1.3.2-5.6.2 2.1.2-2.3.2-.8.2 4.5.2-4 .3 4.7.2.8.2-5.3.2 2.2.2-2.3.2 3.8.2-4.5.2-.5.2 1.8.2.7.3 4.9.2-2.8.2.6.2-5.8.2 2.5.2-3.3.2 4 .2 1.2.2 0 .2.1.3 2.3.2.1.2-1.2.2 1.8.2-2.8.2.2.2-2.1.2.8.2.7.2.3.3-.1.2-1.8.2.7.2 3.3.2 1.8.2 1.8.2-2.7.2 1.4.2-1.5.3-3.3.2-5.1.2 3 .2-3.4.2 4.4.2-.3.2 1.9.2.6.2-4.4.2 4.9.3-3.9.2-3.7.2-1.7.2 3.4.2 1.8.2-1.7.2 5.3.2-.2.2-2.4.2 0 .3 1.2.2-2.7.2 1.9.2 1.2.2-4.1.2-.5.2-.6.2 6.4.2.1.3-.6.2-2.7.2-.7.2-1.4.2.8.2-2.3.2 6.8.2-3.7.2 2.8.2-1.6.3-.5.2.3.2-3.7.2-2.2.2 4.6.2 1.6.2.8.2-2.7.2-.4.2-.3.3-2 .2 5.6.2-2.5.2 3.7.2-3.2.2.4.2-4 .2 3.8.2-2.5.2.1.3-1.5.2.1.2.7.2 2.3.2-1.5.2.3.2 1.6.2-.3.2-4.9.3-2.7.2 2.4.2-1.8.2 4.2.2-.2.2-.2.2 1.7.2 3.7.2-1.5.2.4.3-4.1.2 4.5.2-4.5.2 4.8.2-.8.2-1 .2-1.8.2-2.3.2 3.4.2.6.3-3.4.2.3.2 2.2.2 1.8.2 0 .2.7.2-4 .2-.1.2 7.3.3-7.9.2-1.6.2-1.1.2-.1.2 6.6.2 1.6.2-4.6.2 5.3.2-4.6.2 2.9.3-7.8.2 3.4.2.9.2-2.8.2 5.3.2-.7.2-2.1.2-2.9.2 1.2.2 2.6.3-3.6.2.6.2 4.7.2-2.8.2 2.4.2-3.5.2 3.1.2 0 .2-2.4.2-.7.3 2.3.2.8.2-5.3.2 2.9.2 1.4.2 2.8.2-1.2.2-6.2.2-1.8.3.3.2.7.2 3.6.2-5.5.2 5.7.2-.6.2.6.2 1.4.2-4.1.2-.2.3 6.1.2 1 .2-3.5.2-1.2.2 5.1.2 2.3.2-2.4.2-2.7.2.2.2.6.3 1.8.2 2.5.2-9.1.2 5.3.2.9.2-.3.2-3 .2 2.5.2-5.1.3 4.4.2 2.3.2.2.2-3.4.2.2.2 2 .2-.1.2 2.3.2-4.3.2 2.3.3-3.2.2-1.2.2 2.9.2 5.8.2-2.7.2-2.2.2-.8.2 1.8.2-6.5.2-.3.3.2.2.5.2-1.3.2 5.2.2-3.9.2 4.5.2-.2.2-.5.2.5.2-1.3.3-.6.2-.8.2 2.1.2-2.8.2 3 .2-.1.2.3.2 2.7.2-6.1.3.1.2 0 .2-1.2.2-.4.2 7.4.2-5.7.2 2.2.2.7.2-1.1.2-4 .3-2.1.2-.2.2 4 .2 1.9.2.3.2-4.2.2 4 .2.3.2 2.7.2 3.7.3-4.4.2-1.4.2-4.2.2 2 .2 2.6.2-3.4.2 2.5.2 2.1.2 1.9.3-5.8.2 3.5.2.5.2 1.7.2-7.1.2 4 .2-7.1.2 5.6.2 2 .2-5.8.3 4.7.2 4.5.2-.7.2 1.4.2-4.7.2-2.7.2 4.2.2-3.8.2-3.7.2 1.6.3 4.3.2-3.4.2 4.1.2-.5.2 3.6.2-4.6.2-1.7.2 4.2.2-.1.2-1.6.3-1.3.2-3.6.2 2.6.2 5.8.2-5.4.2 4.1.2-2.7.2-1.9.2 3.2.3 1.4.2-2.6.2-2.8.2-1.2.2 2.1.2 3 .2-.6.2-8.3.2 3.2.2 4.7.3-.9.2-3.9.2.2.2 2.9.2.3.2-.1.2 5.5.2 2.8.2-5.9.2 1.1.3-6.5.2 2.9.2 4.8.2-1.4.2-.2.2-9.2.2 4.8.2 1.7.2-4.2.3 2.9.2.4.2 5.5.2-4.2.2-.1.2 1.1.2 3 .2-4.5.2.5.2 1.7.3-1.2.2-.1.2.2.2-6 .2 2.8.2-1.7.2 1.4.2-2.7.2 2.1.2 4.8.3-2.1.2 1.7.2-.7.2.7.2-3.7.2 2.3.2-.7.2-.3.2-.3.2 3.7.3-6.6.2-1.7.2 5.5.2 2.8.2-1.1.2 4.7.2-9.6.2 1.3.2 1.4.3 1.4.2-.3.2-.5.2.6.2-1.3.2.1.2-.4.2 2.6.2-2.3.2 1.6.3-.9.2 3 .2-1.2.2 2.5.2-3.6.2-.1.2.5.2.1.2-1 .2-2.3.3 2.6.2-2.1.2.4.2-.4.2 2.8.2 2.2.2-4.8.2 4.5.2-4.4.3-.5.2 3.7.2 2.5.2-7.2.2-.2.2 5.9.2-.9.2-2.5.2.5.2.7.3-1 .2 1.4.2-3.5.2 5.1.2-.9.2-3.4.2.5.2 4.5.2-1.5.2.5.3 3.2.2-5.2.2.4.2-2.6.2 4 .2-2.5.2 5.7.2-3.4.2-.8.2 6.5.3-6.5.2-2.1.2-1.5.2-3.3.2 4.7.2 3.1.2.3.2 1.9.2-3.6.3-4 .2-.2.2 1.3.2 1.9.2 2.3.2.3.2 4.9.2-2.8.2.5.2-4.5.3 1.9.2-3.2.2-1.4.2 2.9.2 1.9.2-1.8.2 1.2.2.1.2-3.2.2-.1.3 5.3.2-3 .2 3.4.2.1.2-1.4.2-1.7.2 2.6.2-4.1.2-.1.3 4 .2 0 .2-.3.2-1.9.2-1.9.2-1 .2 5.9.2-3.5.2-3.7.2 1.6.3 4.2.2 2.6.2-4.2.2.3.2-.3.2-.8.2-.5.2.8.2.1.2 6.9.3-2 .2-4.1.2 1.8.2 1.3.2-2 .2 1.6.2-.3.2-3 .2 3.1.2-2.7.3-2 .2 2.4.2-2.2.2-1.4.2.7.2 6.9.2-3.8.2 2.4.2-5.8.3 10.9.2-2.5.2-2.8.2.4.2 1.6.2-1.8.2-3.9.2 3.5.2 3.1.2-6.7.3 4.2.2-4.4.2 5.7.2-4 .2-4.8.2 4.5.2-3 .2-1.1.2 1 .2 1.1.3 4.6.2-2.3.2 2.3.2 3.3.2-3.5.2 2.3.2-1.7.2-4.1.2-.9.3 2.5.2 3.1.2-1.9.2 7.6.2-3.9.2-4.6.2-.4.2-1.2.2 5.5.2.5.3-3.7.2-1 .2.5.2-1.3.2-3.9.2 5.3.2 2 .2-6.9.2 8.7.2.2.3-3.2.2-5.5.2 5.1.2-1.5.2 5.6.2 2.8.2-5.6.2-1.2.2 1.2.2 2.9.3-3.7.2 0 .2-3.1.2 2.2.2 2 .2-1.1.2-4.5.2 3.1.2-.9.3.4.2 1.3.2-3 .2-.4.2.9.2 5.5.2-3.5.2 1.9.2 2.7.2-5.4.3 1.8.2 0 .2-.8.2-3.5.2 3 .2.9.2-2 .2 3.5.2-1.6.2 1.7.3-.3.2-1.2.2-3.5.2 2.8.2-3.4.2 3.5.2-.6.2.2.2-3.5.3 2.3.2-3.6.2-1.1.2 2 .2-1.8.2 4.4.2 3.3.2-1.6.2-2.5.2 1.8.3-4.9.2 3.2.2-.2.2-.3.2 1.7.2-2.5.2 2.4.2-2.1.2 1.5.2 3.6.3-2.4.2-3.1.2 1.5.2-1.9.2-.2.2-1.8.2 1.5.2 1.9.2 1.4.2-.4.3 0 .2-2.8.2-1.8.2 3.3.2 2.6.2-4.9.2 5 .2-2.5.2.4.3 1.5.2-.7.2-4 .2 4.2.2-2.9.2 2.8.2-.1.2.5.2-1.1.2 2.6.3-4.2.2 2.6.2-3 .2 3.5.2 2.8.2-5.1.2 2.6.2-2 .2-1.8.2 2.2.3-2.4.2-.1.2 2.4.2.8.2 0 .2-1.4.2-4.3.2-.6.2 0 .3 1 .2 4.1.2 0 .2-3.6.2 6.3.2-1.1.2-1.5.2-4.8.2 1.7.2.2.3-1.8.2.6.2.3.2 2.8.2-.9.2 2.9.2 2 .2-2.8.2 2.5.2-4.3.3-4.7.2 6.7.2-2.2.2 1.4.2.1.2 5.8.2-5.3.2.6.2-1.3.2-3.2.3 1.1.2 1.7.2 2.4.2-.5.2.8.2-3.4.2 1 .2 1.7.2-2.1.3 1.1.2-6.5.2-1.1.2.9.2 3.3.2 2.9.2.3.2-3.7.2 3 .2 2.5.3-3.8.2 1.6.2-3.9.2 4.4.2 1.7.2.1.2-3.5.2-2.4.2-2.1.2 3.3.3 2.8.2 2.2.2-3.1.2-2.7.2 2.3.2.7.2 4.1.2.3.2-3.8.3-5.2.2-1.3.2 4.6.2-3 .2 2.1.2.7.2.1.2-3.2.2 2 .2 1.8.3-2.9.2-.5.2-2.3.2 1.7.2 4.9.2 1.1.2-3.4.2 1.2.2 0 .2.8.3 3.7.2-7.7.2 3 .2-1 .2-1.1.2 1 .2-2.8.2 1.4.2 2.6.2.9.3-3 .2 3 .2-1.2.2.8.2 4.6.2-4 .2-2.9.2 2.1.2 1 .3-2.6.2-1.8.2-.1.2.8.2 2.1.2-1.2.2 4 .2-.2.2-5.3.2 2.1.3 7.5.2-6.3.2.4.2-.4.2-.3.2 5.9.2-5.2.2 3.2.2-6.2.2 3.6.3.1.2-2.9.2-2.9.2 4.1.2 0 .2 1.3.2 1.3.2-4.2.2 4.2.3.3.2-2.4.2.2.2-6 .2 6.1.2 1.1.2-2.1.2.5.2-.1.2-2.6.3-1.7.2 1.1.2 8.3.2-1.3.2 1.4.2-6.8.2-1.1.2 1.4.2-.7.2 1.3.3 1.3.2 3.1.2-2.2.2-1 .2-.1.2-2.8.2 1.8.2-1.4.2-1.8.2.4.3 3.7.2.7.2-.4.2-3.6.2-2" fill="none" stroke="#000000" stroke-width="0.6" stroke-opacity="1" stroke-linejoin="round" clip-path="url(#cA)"/>
<rect x="38.6" y="2.4" width="294.2" height="166.0" fill="none" stroke="#4a4a4a" stroke-width="1"/>
<line x1="34.6" y1="149.9" x2="38.6" y2="149.9" stroke="#4a4a4a" stroke-width="1"/>
<text x="17.2" y="151.9" font-family='"Liberation Serif", serif' font-size="6.7" font-weight="bold" fill="#000" textLength="15.0" lengthAdjust="spacingAndGlyphs">0.00</text>
<line x1="34.6" y1="108.1" x2="38.6" y2="108.1" stroke="#4a4a4a" stroke-width="1"/>
<text x="17.2" y="110.1" font-family='"Liberation Serif", serif' font-size="6.7" font-weight="bold" fill="#000" textLength="15.0" lengthAdjust="spacingAndGlyphs">0.25</text>
<line x1="34.6" y1="66.2" x2="38.6" y2="66.2" stroke="#4a4a4a" stroke-width="1"/>
<text x="17.2" y="68.2" font-family='"Liberation Serif", serif' font-size="6.7" font-weight="bold" fill="#000" textLength="15.0" lengthAdjust="spacingAndGlyphs">0.50</text>
<line x1="34.6" y1="24.3" x2="38.6" y2="24.3" stroke="#4a4a4a" stroke-width="1"/>
<text x="17.2" y="26.3" font-family='"Liberation Serif", serif' font-size="6.7" font-weight="bold" fill="#000" textLength="15.0" lengthAdjust="spacingAndGlyphs">0.75</text>
<line x1="36.4" y1="129.0" x2="38.6" y2="129.0" stroke="#4a4a4a" stroke-width="1"/>
<line x1="36.4" y1="87.1" x2="38.6" y2="87.1" stroke="#4a4a4a" stroke-width="1"/>
<line x1="36.4" y1="45.3" x2="38.6" y2="45.3" stroke="#4a4a4a" stroke-width="1"/>
<line x1="36.4" y1="3.4" x2="38.6" y2="3.4" stroke="#4a4a4a" stroke-width="1"/>
<line x1="38.6" y1="168.4" x2="38.6" y2="171.4" stroke="#4a4a4a" stroke-width="1"/>
<text x="36.4" y="178.8" font-family='"Liberation Serif", serif' font-size="6.7" font-weight="bold" fill="#000" textLength="4.4" lengthAdjust="spacingAndGlyphs">0</text>
<line x1="97.4" y1="168.4" x2="97.4" y2="171.4" stroke="#4a4a4a" stroke-width="1"/>
<text x="93.0" y="178.8" font-family='"Liberation Serif", serif' font-size="6.7" font-weight="bold" fill="#000" textLength="8.8" lengthAdjust="spacingAndGlyphs">20</text>
<line x1="156.3" y1="168.4" x2="156.3" y2="171.4" stroke="#4a4a4a" stroke-width="1"/>
<text x="151.9" y="178.8" font-family='"Liberation Serif", serif' font-size="6.7" font-weight="bold" fill="#000" textLength="8.8" lengthAdjust="spacingAndGlyphs">40</text>
<line x1="215.1" y1="168.4" x2="215.1" y2="171.4" stroke="#4a4a4a" stroke-width="1"/>
<text x="210.7" y="178.8" font-family='"Liberation Serif", serif' font-size="6.7" font-weight="bold" fill="#000" textLength="8.8" lengthAdjust="spacingAndGlyphs">60</text>
<line x1="274.0" y1="168.4" x2="274.0" y2="171.4" stroke="#4a4a4a" stroke-width="1"/>
<text x="269.6" y="178.8" font-family='"Liberation Serif", serif' font-size="6.7" font-weight="bold" fill="#000" textLength="8.8" lengthAdjust="spacingAndGlyphs">80</text>
<line x1="332.8" y1="168.4" x2="332.8" y2="171.4" stroke="#4a4a4a" stroke-width="1"/>
<text x="327.3" y="178.8" font-family='"Liberation Serif", serif' font-size="6.7" font-weight="bold" fill="#000" textLength="11.0" lengthAdjust="spacingAndGlyphs">100</text>
<line x1="68.0" y1="168.4" x2="68.0" y2="170.2" stroke="#4a4a4a" stroke-width="1"/>
<line x1="126.9" y1="168.4" x2="126.9" y2="170.2" stroke="#4a4a4a" stroke-width="1"/>
<line x1="185.7" y1="168.4" x2="185.7" y2="170.2" stroke="#4a4a4a" stroke-width="1"/>
<line x1="244.5" y1="168.4" x2="244.5" y2="170.2" stroke="#4a4a4a" stroke-width="1"/>
<line x1="303.4" y1="168.4" x2="303.4" y2="170.2" stroke="#4a4a4a" stroke-width="1"/>
<text x="164.8" y="190.9" font-family='"Liberation Serif", serif' font-size="8" font-weight="bold" fill="#000" textLength="41.6" lengthAdjust="spacingAndGlyphs">Time (ns)</text>
<text transform="translate(12.1,107.5) rotate(-90)" x="0" y="0" font-family='"Liberation Serif", serif' font-size="9.5" font-weight="bold" textLength="42.8" lengthAdjust="spacingAndGlyphs">RMSD (nm)</text>
<text x="55.2" y="27.8" font-family='"Liberation Serif", serif' font-size="16.4" font-weight="bold" fill="#000" textLength="11.1" lengthAdjust="spacingAndGlyphs">A</text>
<rect x="241.7" y="2.4" width="91.10000000000002" height="26.0" fill="#fff" stroke="#aaa" stroke-width="0.8"/>
<line x1="242.7" y1="7.2" x2="262.6" y2="7.2" stroke="#aaa" stroke-width="0.8"/>
<line x1="242.7" y1="15.3" x2="262.6" y2="15.3" stroke="#ff9999" stroke-width="0.8"/>
<line x1="242.7" y1="23.8" x2="262.6" y2="23.8" stroke="#88ff88" stroke-width="0.8"/>
<text x="264.9" y="9.5" font-family='"Liberation Serif", serif' font-size="6.6" font-weight="bold" fill="#000" textLength="57.1" lengthAdjust="spacingAndGlyphs">Control protein</text>
<text x="264.9" y="17.6" font-family='"Liberation Serif", serif' font-size="6.6" font-weight="bold" fill="#000" textLength="66.0" lengthAdjust="spacingAndGlyphs">Phenyl carbamate</text>
<text x="264.9" y="26.1" font-family='"Liberation Serif", serif' font-size="6.6" font-weight="bold" fill="#000" textLength="34.5" lengthAdjust="spacingAndGlyphs">Co-factor</text>
<rect x="38.6" y="2.4" width="294.2" height="166.0" fill="none" stroke="#4a4a4a" stroke-width="1"/>
<clipPath id="cB"><rect x="378.6" y="4.4" width="296.4" height="163.9"/></clipPath>
<path d="M378.6 64.4l1 6.1 1 15.3.5 4.7.5 4.8.7-.7.3.4.9-2.8.5-.5.5.3 1 12.6.4 6.4.6 2.2 1 3.6 1 3.9 1 8.1 1-.2.9 3.8 1-.9.7 3 .3 1.8 1-1 1 1.2 1-1.3 1 1.6.3 1.4.7-7 .9-1.2.5-2.6.5 1.3 1-6.5.9-7.7.1 1.7 1 10.3 1 7.3 1 4.8 1 4.9.5 5.6.5-.4.9-7.7 1-4.8 1-3.4 1-7.1.1 1.7.9 4.4 1 7.8 1 4.9 1-.3.6-.5.3.1 1-2.8 1-5 1-.1 1-1.2.3 1.7.7-2.3 1-2.7 1-6.6.9-5.9 1-1 1-5.6 1-4.6.7-.4.3 1.8 1 8.1.5 4.6.5-1.6 1 .4 1-.1.9-2.8 1 6.9 1-4.5 1 0 1 6.6 1-5.9 1-.5 1-3.6.9-4.7.5-2.9.5 5.3 1 3.5 1 4.5 1 9.9.2.4.8-3 1-6.5 1-.5.9-4.6.8-7.1.2-1.6 1 7.1 1 3 1 2.8.5 1.4.5 6.6 1-5.6 1 4.8 1-2.6.9-.8 1 6.5 1-.4 1 1.3 1 4.9 1-1.5 1 1.3.6 3.7.4-2 .9-2.9 1-10 1-5.4 1-1.2 1-7.2.1 1.3.9 5.4 1 .2 1 10.1.9 1.1.3 3.2.7.1 1-7.5 1-4 1-2.8 1 .8 1-.6 1 4.3.7 4.2.3 3.8.9-5.5 1-.7 1-2.9.4-1.9.6-1.4 1 .8 1-3.9.1 2.7.9 6.7 1 3.1.8 10.3.1-.8 1 2.3 1-2.9.7 1.4.3-4.7 1-17.4 1-21.5 1 8.9 1 10.7.3 3.9.6 1.3 1 6.7 1 3.3 1-1.5 1-5.5 1-8.4.7-1.4.3-.6 1 6.4 1 3 .4 2.2.5-1 1 .7 1-5.6.2.4.8-.9 1 1 1-3.1.9-.7.1-.2 1-3.3.9 7.9.7-.7.3 3.9 1 .2 1-.7.4 5.6.6 2.8 1 3.6 1 5.2 1 2.6.9 12.4 1-6.8 1-.7 1-10.1.7 3.9.3 5.2 1-12.2 1-16 1-6.2.4-1.7.6 2.3.9 7.1 1 4 1 6.6.1 1.7.9 3.8 1 3 1 5.3.8-1.1.2-5.6 1 2.4.9 2.2 1-3.2.5-3.1.5-.2 1-7.6 1 5.4 1-6.7.1 1.7.9 1.9 1 4.8.9 1.8.8-1.1.2 1.1 1 1.2 1 3.4 1 3.5.5-1.9.5.3 1-8.1 1-6.2 1-6.8.9-1.7.1-1.2.9 4.8 1 4.4.9 7.2.1-3.7 1 3.1 1 .1.6.5.4-2.5 1-1.8.9-4.1.4-2.5.6.3 1 8.3 1 4.5.2-.4.8-9 1-.3.9-8.9.1-5.2 1-6.2.9 0 .2-3.8.8 4.1 1 .7 1-.6 1 5.3 1 7 .9 5.9.1.2 1 4.1 1 10.2.7 2.4.2 4.2 1-7.2 1-7.7.6-.5.4-4.2 1 6 1 .8.5 5 .5-3.7 1 1.8.9-3.1.4-.8.6-11.1 1-12.2 1-11.2.2-4.4.8-.3 1 3.3.1-.1.9-4.1 1-5.8.9-7.6 1-10.8.5-3 .5 4.6 1 1.5.4.4.6 12.5.8 8.4.2.1 1 5.7.7.1.3 3.2 1 8.6.5 7.1.4.5 1 8.8.5 2.1.5-2.2 1 5.5 1-4.5.4 4.9.6-1.3 1-5.5 1-2.8.2-1.8.7.7 1-8.1 1 3.8.1-2 .9-6.6 1-3.3.4-5.4.6-10.6 1-15.3.3-7.3.7 2.9.8 11.2.1.1 1-3.9 1 .1.1 1.9.9 7.9 1 12.5 1 6.6 1 3.1.5.4.5-4.4 1-1.4.9.8.3-.7.7 1 1 4.1 1 2.5.2-1.9.8-1.1 1-2 1-2.2.1 3.3.9 7.5.9 11.6 1-.1 1-5 .8-.7.2-3.2 1 5.4 1 11.4.7 3.6.3-5.8 1-17.6.6-7.1.3-.7 1 9.2.5-.8.5-6.4 1-6.4.4-6.2.6-12.3 1-14.3.3-2.1.7-2.1 1-1.1 1 .9.1-1.3.8 5.6 1 11 .1 2.4.9-1.1 1 5.8 1 1.6.9 3.1.1-1.7 1 14.9.8 4 .2-1.6.9-10.1 1-5.5.7-5.7.3 6 1 12.6.6 8 .4-2.7 1-13.5.5-.8.5 5 1 10.8.4 3.2.5.4 1-9.3.3 1.2.7 3.8 1 .7.2-.7.8 2.3" fill="none" stroke="#000000" stroke-width="0.8" stroke-opacity="1" stroke-linejoin="round" clip-path="url(#cB)"/>
<path d="M378.6 27.4l1 24.3 1 33.6 1 16.6.7 12.6.3 4.6.9-.3.5 4.9.5 2 1 4.2 1-.5 1 6.9.2 1.3.8-1.8.1 4.3.9 3.3 1 .8.9.5 1 1.1.7-2.1.3.6 1-2.3 1 3.6 1 1 1-.1.3.7.7-3.2.9-8.5 1-5.7 1-6.6.9-3.2.1-1.9 1 13.7 1 6.8 1 4.2 1 11.1.5-2.2.5-4.3.9-.4 1-7.1 1-.8 1-6.5.1 1.9.9 4.7 1 5.3 1 2.8.8 1.8.2-1.9.9 3.7 1-4.6 1-6.9 1-1.9.4-1.1.6-6.8 1-15.5 1-6.5 1-15.2.1-.7.8-.2 1 6 1-6.3.8-5.8.2.7 1-.1 1 5.3.5-.4.5 5 1 8.6.5 2.4.5 3.9.9 4.8.2 4.4.8 1.1 1-2.1 1-5.6.9 2.9.1-2.4 1 3.4 1 9.9.6 1.8.4-8.3.9-2.6.5-9 .5 4.2 1 18 1 1.4 1 8.7.2.5.8-4.6 1-6.2 1-1.9.9-9.2.8-5.5.2 2.6 1 6.9.5 3.4.5 3.1 1 2.2.5 1.8.5 3.3 1-9 1 7.1 1-2.3.9 2.6 1-2.7 1 3 1 .5 1 3.6 1-.9 1 3.5.6.5.4-1.9.9-.9 1-1.8 1-7.6 1-2.2 1-2.5.1-3.1.9 4.1 1 4.6 1 .8.9 3.1.3.1.7-1.5 1-3.4 1 5.9 1-2.6 1 2.1.8 3.2.2-.8 1 1.3 1-2.7.9-3.7.5 2.2.5.7 1 2 1-1.1 1 1.2 1 6.9 1 1.5 1-1.2.8 2.7.1-.7 1-5.2 1 5.1 1-2.4 1 3.5 1-5.5.4-.2.6 1.9 1-6.2.9 3 1-2.8.1.5.9-1.3 1 .4 1-2.3 1-1.5.7-.9.3 1.1 1-.6 1 4.4.4.7.5.1 1-3.6 1-6.7 1 5 .1-4.1.9-9.3 1-8.1 1-6.9.8-10.3.2 1.6.9 15.3 1 10.6.6 9 .4 1.2 1 5.6 1 2.3 1 .8 1 3.7.2-.7.8 3 .9-2.5 1 5.2 1 2.2.8 1.1.2-6.2 1-7.8 1-9.1 1-9.5 1-13 .4-3.5.6 9.2.9 6.5 1 4.3 1 12.6.1.1.9 2.4 1 2.3 1 4.7 1 2.3.7 1 .3-1.7.9-12.5 1-5.1 1-9.2.4-4.3.6 3.7 1-4.8 1 5 1 2.6.1-.9.9 5.5.9 6.8 1 4.6 1 6.5.7 3.8.3 1.6 1-.9 1-7.3 1-.3.3-3.9.7-1.6 1 2.6.9-3.4 1 1.5 1-.6 1-5.3 1-10.5.7.9.3-2.7 1-9.1 1-10.3.9-10.5.4-2 .6-3.8 1 3.4 1 10.1.2-4.2.8 10.2 1 9.5.9 5.7.1 5.2 1-4.8.9-2.1.2 1.3.8 1.8 1 3.3 1-.4 1 8.2 1 3.3 1 2.7 1 5.5 1 0 .7 5.9.2-1.7 1 2.4 1-3.2 1-7.5 1-1.3.5 1.9.5-.8 1-.2 1-9.7.9 0 1-1.4 1-1.1.3-.1.7-2.3 1 7.8 1 3.5 1 3.7.1 2.4.9-8.1.9-5.3 1-13 .9-9.6.1 1.4 1 4.8 1-.1 1 12.9.7 1.9.3.1 1-4.2.6 4.1.4.9.9 6 1-5.3 1 4.8.4-.7.6.5 1-8.8 1 .1 1-3.4.3-1.7.7 6.1.9 1.3 1 4 1-.3.1 2.2.9-1.6 1-4.2 1-3.2.9-2.5.1 2.8 1-.1.9 8.1 1 1.1.7 3.3.3 3.2 1-1.8 1-2.1 1 7.5.5-5 .5-.6 1-4.5 1-2.4.9-7.2.3 3.5.7 7.9 1-3.9 1 4 1 1 .2.4.8 4 1-3.2 1 .7.9-.6 1 2 1 4.5 1 3.6 1-.7.7 3 .3-1.5 1-4.4 1-3.2.6-2.4.3-7.6 1-2.2 1-10.2 1-12.2.4.1.6-8 1-3.2.7-8.7.3 4 1 4.3 1 6.8.1.9.8 4.1 1 2.3 1 9.5.1-.6.9 11.5 1 2 1-3 1-1.9 1-4.3.7-2.4.2.4 1 8.9.7 2.1.3 1.9 1-1.5 1-5 1 2.1.5-1.3.5-1.8 1-2.1.9 9.3 1-7.3.3 1.9.7-1.6 1 3.4.2 3.9.8-.6" fill="none" stroke="#ff0000" stroke-width="0.8" stroke-opacity="1" stroke-linejoin="round" clip-path="url(#cB)"/>
<path d="M378.6 81.2l1 4.9 1 11.5.8 2.3.2-2.5 1 7.7.9 3.3.5 4.4.5 3.9 1 3.4 1 1.4 1 2.7.2 1.3.8 2.7 1-1.1 1 3.7.9 4.1 1-1.6.7 1.2.3 4.1 1-9 1-1.7 1-4 1-5.4.3 5.2.7-.8.9-4.7 1-3.7 1-7.5.9-1.5.1-.6 1 10.9 1 7.4 1 11.3 1 8.1.5 3 .5-.9.9-3.8 1-4.6 1-7.7 1-1.1 1-5.3 1 11 1 6.8 1 4.5.9-2.3.6 6.9.4-3.2 1-4 1-4.1 1-2.5 1-4.6 1-7.8.2.8.8 2.7.9-7.9 1-1.4 1-7.5 1-2.1 1-3.7 1-8.6.5-.6.5 1.8 1 12.8 1 4.1.9 5 1 12.5 1 4.1 1-4.5 1-.6 1-9.5 1-2.2 1-7.1.9-1.5.5-7.7.5 4.2 1 12.8 1 1.6 1 6.6 1 6.1.1-4.1.9-5.9 1-6.8.9-11.2.8-7 .2 4 1 7 .5 1.9.5-3.2 1-4.2.9-3.7.1 1.2 1 11.9 1 16.4 1-1.5.9 2.1 1 2.6 1 1.4 1 6.8 1 1.2.7 1.7.3-3.5 1 .3 1 .7.9-10.5 1-3.8 1-8.4 1-1.5 1-8.1.1 2.1.9 3.6 1 7.8 1 1.9.9 3.3.3 3.2.7-1 1-1.5 1 .3 1-3.8 1 5.5 1 2.5 1-.9.7 2.6.3.6.9 1.1 1-2.2 1-2.1.4 4.5.6 3.5 1-5.4 1 2.8 1-3.2 1 6.8.8-.8.1.2 1-6 1 2.4 1 1.8.6-5.8.4 1.1 1-2.8 1-7.4 1 3 .3-2.9.6-.3 1 3.4 1 5.5.9-1.5.1 2.6 1-6.4 1-2.9.7-2.3.3 1.6 1-.1 1 2.2.9 4 1 4.9.3-3.6.7-2.6 1-1.3 1-2.3 1 .3 1-3.5.8-1.4.2.6.9-4.5 1-6.1 1 .7 1-6.1 1 .8 1 5.3 1 9.8 1 11.1.1 1.1.8 6.4 1 6.3.9 7.3.1-1.9 1-6.7 1-2.5 1-7.3.6-1.6.4-12.5 1-20.4 1-21.9.9 14.4 1 21.5.2 4.3.8 7.3 1-2 1 9.7.9 8.8.1 4 1-1.9 1 1.5.5 3.6.4-3.2 1-1.1 1-7.9 1-8.4.3.5.7-7.4 1-12.6 1-6.1.1-1.1.9 5.5.9 12.9.8 8.8.2 1.5 1 4.1 1 7.6 1-.9.5 4.3.5-.3 1-3.4 1-.3 1-4.8.1-2.3.8-1.2 1-7 1-3 1 7 1-3.5.7-5 .3-1.7 1-5.1 1-6.3.9-1.7.4-6 .6 2.1 1 9.2 1 4.3 1 2.6.1.8.9-4.2 1 6.1 1-5.5.9 3.5.2 1.5.8 2.1 1 4.2 1 2.5 1 1.9 1 6.7 1 .8 1 7.6.8.8.2 2.5.9.8 1-6.8 1 3.6 1-1.5.6-.6.4-1.8 1-.2 1-8.2 1 .7.9-4.5.4-1 .6-5.2 1-5 1-10.2.2-.6.8 2.3 1 8.4 1 9.5.1-3 .9-4.4.9-8.5 1-11.4.9-6.2.1-1.1 1 14.5 1 6.9.8 10.2.2 2.1 1 .9 1 .7.6.1.4 2.2.9 6.9 1-1.5 1 4.6.4-.9.6-4 1 .6 1 5.7 1-4.2.3-2 .7-1.2.9-3.7 1 1.2 1-2.3.1 4.2.9-2.4 1-3.4 1-7.2 1-5.7.3-2.2.7 5.6.9 3.8 1 4.9.7 6.6.3.9 1 .8 1 4.7 1 2.1.5-1 .5-5.3 1 3.4 1-1.6.9-9.9.3 4 .7 1.7 1 3 1-1 1 .9.2 1.2.8-1.5 1 2.3 1 2 .9-1.1 1 7.2 1-.1 1-7.2 1 1.3.7 2.6.3-2.1 1-6.3 1-6.6.6 1.9.3-2.7 1 1 1-8 1-9.5.4.1.6-8.7 1-6.1.7-6 .3 5.2 1 6.6 1 7.4.1-.2.8 3.3 1 7.8 1 6.4.1 1.5.9-3.1 1-3.7 1 9.4 1-3.4 1 3.4.7 1.1.2-1.3 1 1.7 1 6.7 1 1.6.6 2.6.4 1.4 1-4.7 1-1.9 1-3.5.4-.7.5-7.4 1-5 1-6.8.3-5.4.7 6.2 1 15.4" fill="none" stroke="#00ff00" stroke-width="0.8" stroke-opacity="1" stroke-linejoin="round" clip-path="url(#cB)"/>
<rect x="378.6" y="4.4" width="296.4" height="163.9" fill="none" stroke="#4a4a4a" stroke-width="1"/>
<line x1="374.6" y1="168.3" x2="378.6" y2="168.3" stroke="#4a4a4a" stroke-width="1"/>
<text x="361.4" y="170.3" font-family='"Liberation Serif", serif' font-size="6.7" font-weight="bold" fill="#000" textLength="10.2" lengthAdjust="spacingAndGlyphs">0.0</text>
<line x1="376.4" y1="147.8" x2="378.6" y2="147.8" stroke="#4a4a4a" stroke-width="1"/>
<line x1="374.6" y1="127.4" x2="378.6" y2="127.4" stroke="#4a4a4a" stroke-width="1"/>
<text x="361.4" y="129.4" font-family='"Liberation Serif", serif' font-size="6.7" font-weight="bold" fill="#000" textLength="10.2" lengthAdjust="spacingAndGlyphs">0.2</text>
<line x1="376.4" y1="106.9" x2="378.6" y2="106.9" stroke="#4a4a4a" stroke-width="1"/>
<line x1="374.6" y1="86.4" x2="378.6" y2="86.4" stroke="#4a4a4a" stroke-width="1"/>
<text x="361.4" y="88.4" font-family='"Liberation Serif", serif' font-size="6.7" font-weight="bold" fill="#000" textLength="10.2" lengthAdjust="spacingAndGlyphs">0.4</text>
<line x1="376.4" y1="66.0" x2="378.6" y2="66.0" stroke="#4a4a4a" stroke-width="1"/>
<line x1="374.6" y1="45.5" x2="378.6" y2="45.5" stroke="#4a4a4a" stroke-width="1"/>
<text x="361.4" y="47.5" font-family='"Liberation Serif", serif' font-size="6.7" font-weight="bold" fill="#000" textLength="10.2" lengthAdjust="spacingAndGlyphs">0.6</text>
<line x1="376.4" y1="25.0" x2="378.6" y2="25.0" stroke="#4a4a4a" stroke-width="1"/>
<line x1="374.6" y1="4.5" x2="378.6" y2="4.5" stroke="#4a4a4a" stroke-width="1"/>
<text x="361.4" y="6.5" font-family='"Liberation Serif", serif' font-size="6.7" font-weight="bold" fill="#000" textLength="10.2" lengthAdjust="spacingAndGlyphs">0.8</text>
<line x1="378.6" y1="168.3" x2="378.6" y2="171.3" stroke="#4a4a4a" stroke-width="1"/>
<text x="376.3" y="179.3" font-family='"Liberation Serif", serif' font-size="6.7" font-weight="bold" fill="#000" textLength="4.6" lengthAdjust="spacingAndGlyphs">0</text>
<line x1="403.3" y1="168.3" x2="403.3" y2="170.1" stroke="#4a4a4a" stroke-width="1"/>
<line x1="428.0" y1="168.3" x2="428.0" y2="171.3" stroke="#4a4a4a" stroke-width="1"/>
<text x="423.8" y="179.3" font-family='"Liberation Serif", serif' font-size="6.7" font-weight="bold" fill="#000" textLength="8.4" lengthAdjust="spacingAndGlyphs">50</text>
<line x1="452.7" y1="168.3" x2="452.7" y2="170.1" stroke="#4a4a4a" stroke-width="1"/>
<line x1="477.4" y1="168.3" x2="477.4" y2="171.3" stroke="#4a4a4a" stroke-width="1"/>
<text x="471.2" y="179.3" font-family='"Liberation Serif", serif' font-size="6.7" font-weight="bold" fill="#000" textLength="12.3" lengthAdjust="spacingAndGlyphs">100</text>
<line x1="502.1" y1="168.3" x2="502.1" y2="170.1" stroke="#4a4a4a" stroke-width="1"/>
<line x1="526.8" y1="168.3" x2="526.8" y2="171.3" stroke="#4a4a4a" stroke-width="1"/>
<text x="520.6" y="179.3" font-family='"Liberation Serif", serif' font-size="6.7" font-weight="bold" fill="#000" textLength="12.3" lengthAdjust="spacingAndGlyphs">150</text>
<line x1="551.5" y1="168.3" x2="551.5" y2="170.1" stroke="#4a4a4a" stroke-width="1"/>
<line x1="576.2" y1="168.3" x2="576.2" y2="171.3" stroke="#4a4a4a" stroke-width="1"/>
<text x="570.1" y="179.3" font-family='"Liberation Serif", serif' font-size="6.7" font-weight="bold" fill="#000" textLength="12.3" lengthAdjust="spacingAndGlyphs">200</text>
<line x1="600.9" y1="168.3" x2="600.9" y2="170.1" stroke="#4a4a4a" stroke-width="1"/>
<line x1="625.6" y1="168.3" x2="625.6" y2="171.3" stroke="#4a4a4a" stroke-width="1"/>
<text x="619.5" y="179.3" font-family='"Liberation Serif", serif' font-size="6.7" font-weight="bold" fill="#000" textLength="12.3" lengthAdjust="spacingAndGlyphs">250</text>
<line x1="650.3" y1="168.3" x2="650.3" y2="170.1" stroke="#4a4a4a" stroke-width="1"/>
<line x1="675.0" y1="168.3" x2="675.0" y2="171.3" stroke="#4a4a4a" stroke-width="1"/>
<text x="668.9" y="179.3" font-family='"Liberation Serif", serif' font-size="6.7" font-weight="bold" fill="#000" textLength="12.3" lengthAdjust="spacingAndGlyphs">300</text>
<text x="507.2" y="191.0" font-family='"Liberation Serif", serif' font-size="7.8" font-weight="bold" fill="#000" textLength="39.2" lengthAdjust="spacingAndGlyphs">Residues</text>
<text transform="translate(356.2,106.0) rotate(-90)" x="0" y="0" font-family='"Liberation Serif", serif' font-size="9.8" font-weight="bold" textLength="39.6" lengthAdjust="spacingAndGlyphs">RMSF (nm)</text>
<text x="396.1" y="29.9" font-family='"Liberation Serif", serif' font-size="17.5" font-weight="bold" fill="#000" textLength="10.2" lengthAdjust="spacingAndGlyphs">B</text>
<rect x="583.4" y="4.4" width="91.60000000000002" height="26.299999999999997" fill="#fff" stroke="#aaa" stroke-width="0.8"/>
<line x1="584.6" y1="9.6" x2="603.9" y2="9.6" stroke="#aaa" stroke-width="0.8"/>
<line x1="584.6" y1="17.9" x2="603.9" y2="17.9" stroke="#ff9999" stroke-width="0.8"/>
<line x1="584.6" y1="26.3" x2="603.9" y2="26.3" stroke="#88ff88" stroke-width="0.8"/>
<text x="607.0" y="11.9" font-family='"Liberation Serif", serif' font-size="6.6" font-weight="bold" fill="#000" textLength="57.0" lengthAdjust="spacingAndGlyphs">Control protein</text>
<text x="607.0" y="20.2" font-family='"Liberation Serif", serif' font-size="6.6" font-weight="bold" fill="#000" textLength="65.7" lengthAdjust="spacingAndGlyphs">phenyl carbamate</text>
<text x="607.0" y="28.6" font-family='"Liberation Serif", serif' font-size="6.6" font-weight="bold" fill="#000" textLength="34.7" lengthAdjust="spacingAndGlyphs">Co-factor</text>
<rect x="378.6" y="4.4" width="296.4" height="163.9" fill="none" stroke="#4a4a4a" stroke-width="1"/>
<clipPath id="cC"><rect x="45.4" y="200.2" width="281.8" height="160.8"/></clipPath>
<path d="M45.4 283.1l.1-.9.1-4.3.1 5.7.1 1.1.1 4.9.1 4.2.1-2.8.1 7.8.1-9.3.1 5.2.1 2.3.1-7 .1-8.8.1 10.3.1-3.2.1-5.8.1 2.6.1 4.6.1-8.3.1 5.4.1.7.1-4.5.1.9.1 2.4.1-10.6.1 7.3.1-3.3.1-1.2.1-6.8.1 10.1.1-1.9.1-2.1.1 4.7.1-1.9.1.4.1-.9.1-1.6.1 4.2.1.7.1 4 .1.1.1.6.1-8.5.1 2.4.1 5.4.1-5.5.1-6.4.1 10.7.1-3.5.1 3.9.1-7.3.1.1.1 2.6.1 3.1.1-3.3.1 9.8.1-7 .1 10.2.1-12 .1 5.2.1-4.9.1-2.3.1-2.3.1 14 .1-2.5.1-2.4.1 6.3.1-13.1.1 1.7.1-2.4.1 10.4.1-4.7.1 1.1.2-2.5.1-7.7.1 5.6.1 7.3.1-1.9.1-.6.1 2.9.1.3.1-7.7.1-4.2.1.8.1-8.5.1 14.9.1-9.3.1 4.1.1-.6.1-2.7.1 1.9.1 1.7.1-4.8.1-1.7.1 6.9.1-4 .1 8.8.1-10.1.1 7.2.1-1.4.1 2 .1-5.5.1 6.2.1.2.1-6.9.1 5.8.1-5.5.1 9.8.1-11.1.1 6.2.1.2.1-5 .1 5.8.1 2.8.1-3.1.1-2.6.1.4.1 7.2.1-6.7.1.2.1 7.5.1-6.1.1 4.6.1-8.2.1-2.5.1 2.5.1 6.4.1-2.8.1-1.9.1-.6.1 4.5.1-3.3.1-3.1.1-2 .1 3.5.1-8 .1-2.3.1 5.9.1 1.4.1-.4.1-1.4.1 3.8.1 2.2.1-8.7.1 3.2.1 4.5.1-1.6.1-4.6.1 7.6.1 2.1.1.9.1-7.5.1 5.3.1 3.6.1-7.9.1.5.1-1.7.1-5.8.1.4.1-.2.1 9.5.1 1.9.1-10.8.1-.5.1 3.9.1-3.7.1 4 .1-4.8.1 5.5.1 3.2.1 2 .1 3.2.1 3.8.1-13 .1 2.8.1 5.7.1 6.4.1-4.7.1-7.5.1-1.5.1 2.7.1-2.5.1 4.4.1 1.7.1-.1.1 3.2.1 12.1.1-15.6.1-3.2.1 2.7.1-.8.1-1.8.1 5.6.1-5.8.1 6.2.1 3.4.1-4.8.1-6.7.1 8.2.1 8.2.1-8.5.1 4.5.1-2.1.1 5.3.1-9.4.1 3.7.1 7.3.1-7.7.1-2.9.1 3.1.1 3.1.1-1.3.1-4.6.1 2.8.1 9.5.1-7.8.1 6 .1-9.4.1 7.5.1-4.1.2-4 .1-1.9.1-2.9.1-14.8.1 13.7.1-4 .1 4.5.1 1 .1 6 .1-3.6.1 4.6.1-8.8.1 3.4.1.1.1-.1.1 3.1.1 7.1.1-5.2.1-.5.1-1.6.1-1.6.1-.3.1-8 .1 4.6.1 3.7.1 2.4.1 3 .1-4.4.1 4.9.1-5.4.1-2.5.1 1.6.1-7.1.1 4.7.1 7.6.1-6.5.1 2.4.1-7 .1 6.4.1-12.6.1 11.8.1-10.3.1 7.2.1-1.2.1 13.1.1-11 .1.9.1-14.3.1 2.3.1 2.9.1-2.9.1 7.3.1-5.2.1 3.3.1-6.9.1-.5.1-.5.1 6.1.1-6.7.1-11.1.1 19 .1-7.3.1-6.9.1 6.2.1-2.1.1 8.2.1.1.1 4.2.1 8.4.1-2.6.1.1.1-1.6.1-2 .1-8 .1 5.4.1-10.2.1 3.8.1 6.9.1 2.4.1-5.1.1-1 .1 4 .1 3.5.1 2.2.1-8.8.1-3.5.1 14.3.1-7.9.1-7.2.1-.5.1 10.6.1-12.3.1 6 .1-1.8.1 1.5.1 2.3.1-11.3.1 6.1.1 7.2.1-2.3.1-7.2.1 7.8.1.5.1-2.2.1-.6.1-3.6.1 10.4.1 6.1.1-1.8.1 2.5.1-4.5.1-1.7.1 6.1.1-5.3.1 9.4.1-15.6.1 7.8.1-3.7.1 1.2.1.5.1-4.5.1 4.7.1-5.7.1-6.1.1.1.1-.1.1 8.7.1 1.5.1-3.3.1-11.7.1 10.2.1-7.8.1-1.1.1 5.6.1-1.2.1-2.8.1 3.9.1.1.1 1.4.1.2.1 6.8.1-5.8.1 1.4.1 2.4.1 5 .1-5.4.1.2.1-5.3.2 5.2.1-4.7.1 2.7.1-.1.1 2.8.1-2.2.1-3.4.1 5.1.1-1.6.1 9.3.1-18.9.1.6.1 13.1.1-17.8.1 10.8.1 1.9.1-5.2.1 5.5.1-2 .1-2.6.1-1.9.1-11.1.1-2.5.1 20 .1-7.7.1 5.5.1-6.7.1 6.1.1-12.3.1 3.5.1 1.6.1 5.9.1-4.2.1.2.1-6 .1-.4.1 2.6.1 4.7.1 11.6.1-8.5.1-5.4.1 3.6.1-3.4.1 2.9.1 6.8.1-6 .1-3.1.1 0 .1-5.9.1 7.7.1 7.4.1-12.2.1 9.8.1.6.1-1.3.1-.6.1-5.8.1 6 .1-7.4.1 12.5.1-11.2.1 2.5.1-10.6.1 13.2.1 6.7.1-1.1.1 5.5.1-.5.1-6.9.1 1.3.1-2.1.1-3.8.1-5.5.1 3.3.1 6.1.1-2.5.1.9.1-3.1.1.6.1 6.4.1 6.1.1-2.3.1 1 .1 1.2.1-8.1.1 4.5.1-8.9.1 5.8.1 0 .1 3.3.1.3.1-4.2.1-4.7.1 8.6.1-2.7.1 3 .1-1.1.1-1.5.1 1.7.1-.6.1-4.4.1-1.9.1 13.5.1-2.7.1-4 .1-.8.1-4.1.1 3.3.1 4.1.1-11 .1 10.6.1-6.4.1 6.1.1-11.5.1-3.6.1 7.3.1 3.4.1-1.7.1-6.1.1 9.3.1-9.8.1-.3.1 13 .1-1.8.1-4.8.1-10.2.1 5.6.1 6.6.1-3.9.1-1.4.1.3.1-.7.1 1.3.1 6.3.1 6.8.1-5.2.1-5.1.1-4.3.1 5.3.1-7.5.1 7.6.1-1.6.1-3.1.1.2.1 3.7.1-1 .1 3 .2-2 .1.6.1-7.3.1.7.1-1.8.1 2.4.1 4.6.1 2.7.1-13.6.1 4.3.1 13 .1-11.4.1 0 .1-2.7.1-1.2.1 3.9.1-.7.1-7.1.1 7.8.1 2.2.1 1 .1-9.3.1 8.6.1-1.6.1-3.2.1-1.5.1 10.4.1-.7.1 5.4.1 2.4.1-4.1.1 8.5.1-11.2.1 1 .1 4.3.1-7.6.1-1 .1 1.8.1 5.3.1-8.4.1 1.6.1 3.9.1-7.8.1 10.6.1-7.9.1 17.3.1-10.5.1 5.6.1-7.2.1 3.2.1 7.3.1 4.6.1-4.8.1-2 .1 14 .1-14.7.1 12.1.1-3.8.1.2.1-4.4.1-5.7.1-.7.1-.7.1 3.4.1 3.3.1-10.2.1 4.9.1 2.4.1-13.5.1 8 .1 2.3.1 4.5.1-3.7.1-1.2.1 3 .1 1 .1-10 .1 8.3.1-3 .1 8.1.1-10.5.1 2.4.1-.6.1 1.2.1-1.1.1-7.7.1 3.2.1 1 .1-.2.1 4.7.1-5.9.1 4.8.1-2.9.1-8.9.1 4.8.1 2.9.1-1.1.1-8.7.1 5.3.1 1.5.1 4.9.1-6.7.1 0 .1 3 .1-14.4.1 5.2.1 12.7.1 2.2.1-13.3.1 11.1.1-10.7.1 2.5.1-5.9.1 14.9.1 2.3.1-6.2.1-1.5.1 3 .1 2.6.1 1.9.1-5.5.1-4 .1.1.1-.2.1 14.3.1-6.2.1-1.8.1-3.6.1 13.4.1-12.6.1.2.1 9.1.1-5 .1 2.3.1-12.4.1 6.8.1 2.3.1-5.3.1 1.2.1-3.2.1-1.6.1 7.7.1-3.4.1 1.7.1-11 .1 2.8.1 1.8.2-4.5.1 10.2.1-1.6.1-5.5.1 6.7.1 5.4.1-3.8.1 2.3.1-8.8.1 3.6.1 4 .1 4.4.1.6.1 0 .1-1.6.1-5.6.1-1.1.1 4.2.1-5.7.1-15.5.1 20 .1 5.1.1-6.4.1-5.7.1 1.1.1 6.2.1 3.6.1-3.7.1.3.1 6 .1-15.7.1 3.1.1 4.3.1 9.5.1-2.7.1-9.6.1 5.9.1-4.4.1 2.2.1 2 .1-3.4.1 4.7.1-8.9.1 6.5.1.3.1-.9.1-1.3.1 2.2.1-2.1.1 6.7.1-12.6.1 3.8.1 5.6.1-4.9.1-4 .1.9.1 5.2.1-.2.1 1.9.1-7.1.1 10.3.1-3.1.1 5.4.1 10.2.1-5 .1-10 .1 3.1.1-.6.1 2.9.1.9.1.3.1-2.1.1 4 .1 0 .1-7 .1 4.1.1.7.1 3.2.1-6.7.1 7.9.1.1.1-12 .1 3.1.1-1 .1 2.6.1-.7.1.5.1-2.5.1-.7.1-3.4.1-2.9.1 1 .1.6.1-8.8.1 9.9.1 13.3.1-4.2.1-5 .1-2.1.1 2.5.1-3.5.1-1.6.1 8.1.1-3.7.1-3.1.1 1.3.1-2.6.1 6.4.1.5.1-2 .1-10.4.1 7 .1-1.8.1 5.7.1-7.3.1 5 .1 4.9.1-2 .1 3.2.1 2.1.1-4.7.1-2.2.1 3.5.1 3.6.1-6.3.1-2.1.1-4.5.1.7.1 2.6.1-2 .1-1.1.1 10 .1 4.3.1-11.6.1 1.6.1 6.2.1.1.1-1.1.1-1.1.1-9.2.1 10.5.1-10.8.1 5.1.1-2.2.1 2.2.1-7.3.1 6.9.1 2.7.2-7.6.1 5 .1 9.9.1-14.2.1 3.6.1 4.9.1-12 .1 4.1.1 4.5.1.4.1 2.9.1-.3.1 2.7.1-1.7.1-1.5.1-4.4.1 12.8.1-11 .1-6.5.1 9 .1 1.4.1-2.6.1.4.1 5.3.1-6 .1-7.8.1-.1.1 3.5.1 2.8.1.4.1 7.7.1 0 .1-3.1.1 7.7.1-3 .1-5.1.1-10.8.1 8.6.1-4.7.1 3.6.1 10.5.1-11.1.1-1.7.1 12.1.1-8.6.1 6.2.1-.7.1-5.3.1-6.1.1 2.1.1-5.9.1 8.7.1-1.3.1 9.5.1-2.1.1-7.4.1-.8.1 3.2.1-7 .1 3.4.1 3.2.1 5.8.1-1.3.1-3 .1-1.8.1 9.9.1-14.7.1-1.6.1 4.3.1-9 .1 13.8.1-5.7.1 8.2.1-11.7.1-2.5.1 7.2.1 7.9.1-10.8.1 2.6.1 3.1.1-1.3.1.6.1-.2.1-10 .1-1.6.1 3.4.1 5.7.1-2 .1-1.6.1-2.4.1-5.6.1 15.3.1-10.3.1 6.7.1-11.1.1 2.6.1-1.1.1-8.4.1 4.7.1 9.8.1 1.3.1 1.5.1 3.9.1 1.2.1-11.1.1 2.5.1 8.5.1-1.4.1 5.8.1-9.5.1-6.9.1 5.1.1 4.3.1 1.3.1-3.7.1 1.3.1 4.8.1-4.6.1 7.7.1-12.4.1-.6.1 11.6.1-10.3.1-2.4.1 11.5.1-3.4.1-6.6.1-1.4.1-2 .1 6 .1 1.5.1 1.5.1-11.1.1 8.2.1-2.6.1 2.6.1-9.8.1 4.1.1-.6.1 4.3.1-.4.1-11.2.1 12.6.1 6.6.1 1 .1-13.1.1 13.4.2.6.1-11.8.1 12.4.1 4.2.1-6.6.1 10 .1-15.4.1 16.1.1-4.6.1 5.2.1-2.9.1.5.1 10.1.1-16 .1-3.9.1 7.8.1 2.5.1-5.1.1-9.6.1 8.1.1 5.4.1-12.2.1 5.4.1 1.5.1 4.9.1-13.4.1 11 .1-9.4.1 9.6.1-1.8.1-.8.1-2.2.1 3.4.1-4.7.1-1.6.1 1.4.1-4.9.1 8.4.1-.8.1-9.7.1 9 .1 5.4.1-9 .1-5.9.1 3.4.1-2.3.1 13.6.1-6.8.1-.5.1-2.6.1-2.2.1 1.5.1-1.1.1.8.1-1.7.1.7.1 4.8.1-10.6.1 3.9.1 10.6.1-3.1.1-.1.1-6 .1.8.1 1.9.1 4.4.1 1.7.1 14.2.1-21.3.1 13.2.1-11.7.1-12 .1 8.5.1-.8.1 4.3.1-3.9.1 5.4.1-6.1.1 1.3.1.7.1-2.1.1 5.4.1-6.4.1 9.1.1-2.3.1-6.4.1 1.7.1 4.2.1-6.9.1 6.6.1-2.4.1 2.1.1-.5.1 5.9.1-7.7.1 3.6.1 1.1.1-4.6.1.7.1-.2.1 1.9.1-8.6.1 7.1.1 1.8.1 5.4.1-9.2.1-2.6.1-1.6.1 12 .1 10.8.1-6.3.1-5.3.1-3.8.1.4.1 1 .1 5 .1-4.4.1-.2.1-11 .1-.6.1 8.9.1 0 .1 11.9.1-5.4.1 1.8.1-1.4.1-9.4.1-4 .1 15 .1-3.3.1 4.1.1-5.1.1 1.9.1-11.8.1 13 .1-9.6.1 7.3.1-15.9.1 1.6.1 11 .1-6.3.1 1.1.1 4.9.1-6 .1-1.2.1 6.1.1-1.7.2 2.6.1 2.5.1-3.3.1 5.7.1-7.1.1 6.9.1 5.2.1-6.9.1-3.1.1 5.2.1-4.9.1 1.1.1 4.2.1 7.7.1-8.4.1-.1.1-1.6.1-1.4.1 2.6.1-.4.1-2.1.1-6.6.1 11.7.1-.7.1-11.4.1 5.6.1 1.7.1-2.3.1 5.8.1-7.8.1 5.8.1 4.5.1-7.6.1-2.1.1 3.6.1-2.8.1 3.9.1-12.8.1 12.7.1-5.7.1-3.8.1 2.7.1 8.8.1-10.9.1.9.1 19.1.1-13.7.1-3.8.1 10.1.1 10.6.1-9.9.1 6.5.1-4.9.1-1.3.1 7.1.1-6.2.1 5.3.1-7 .1-1.3.1-4.4.1 1.5.1 4 .1.4.1-4.4.1 6.2.1 2.1.1-6.6.1 5.3.1 2.6.1-2.9.1-3.5.1-6 .1 4.7.1 1.1.1 6.9.1-.7.1-2 .1-.7.1-7.5.1 8.8.1-7.2.1 8.1.1 2.9.1-2.8.1-4.4.1 1.8.1-8.5.1 7.5.1.6.1 4.4.1-2.3.1-12.5.1 10.2.1 5.1.1-1.3.1-1.6.1-5.1.1 8.9.1-8.3.1 1.4.1-.6.1 6.1.1-1 .1-7 .1-5.3.1 1 .1-1.4.1 7.7.1-5.1.1 2.5.1 4.4.1-2.4.1-6.5.1 3 .1 3.2.1-5.6.1 4.5.1-1.2.1-1.9.1 5.6.1-5.2.1 5.7.1.9.1-6.8.1.6.1-2.4.1 7.6.1 4.1.1-10.1.1 11.5.1-6.9.1.3.1 3.4.1-8.8.1 1.5.1-4 .1 3.9.1 3 .1-5.2.1-.8.1 7.9.1-3.6.1 6.4.1-10 .1 10.2.1-6.1.1-4.2.1 3.8.2-3.8.1 7 .1-.8.1 4.7.1-7.9.1 1.7.1 3.5.1 1.6.1-12.1.1 2 .1 8.7.1 5.2.1 3.4.1-8.1.1-4.5.1 15.1.1-9.6.1-4.4.1.4.1-1.8.1 4.4.1-5.2.1.7.1-.4.1 3.8.1-7.6.1 9.2.1 1.7.1-9.5.1-2.2.1 2.7.1 6.6.1-6.6.1 7.7.1-3.6.1 1.4.1-9 .1 7.3.1 7.1.1-8.9.1 9.7.1 1.1.1-9.1.1 1.7.1-1.1.1 6.9.1-4.6.1 3 .1-8.3.1.4.1 3.6.1 4 .1-4.3.1 15.7.1-19.5.1 2.2.1-1.2.1-2.6.1 6.1.1-3.1.1 0 .1-4.6.1 5.1.1-1.9.1 4.9.1-5.3.1-7.4.1 7.8.1-8.5.1 11.5.1-8 .1 4.1.1 20.7.1-16.9.1 5.1.1-12.4.1 11.1.1-1.5.1 0 .1 2.3.1-3.2.1-3.6.1 1.1.1 8.4.1-5.2.1-1.6.1-.4.1 8.6.1.2.1.7.1-8.6.1 3.1.1 2.8.1 1 .1 2.5.1-8.2.1 9 .1-11.9.1 6.7.1-3.2.1-8.4.1 11.7.1 5.4.1-12.4.1 4.5.1 5.6.1-9.2.1 2.9.1 3.6.1 3.3.1 5.9.1-16.1.1 1.3.1.8.1-9.6.1 18.6.1.4.1-15.4.1 5.3.1-10.5.1 13.2.1.1.1-.8.1-5 .1 5.9.1-.7.1.6.1 4.8.1-10.3.1 4.8.1.6.1-.9.1 4.3.1-.4.1-6.4.1.9.1 5.3.1 1.9.1-2.7.1-2 .1 2.6.1-6.8.1 8.9.1-9.1.1 8.8.1-10.4.1-.8.2-.4.1 15.4.1-9.6.1 9 .1.7.1-9.1.1 1.9.1-3 .1 15.4.1-8.8.1-9.9.1 3.3.1 5.7.1-3.9.1-3.6.1 3.9.1 5.2.1 7.1.1-10.3.1 1.3.1 2.1.1-4 .1 2.7.1-1.9.1-2.2.1 6.1.1 4.7.1-5.2.1-.8.1 3.5.1-8.9.1-1.2.1 5.4.1-3.7.1-4.8.1 4.7.1-.7.1-4.8.1 0 .1 13.3.1 2.3.1-9.4.1-2.5.1 7.7.1-7.8.1 1.4.1-6.4.1 8 .1-8.5.1 4.6.1-7.7.1 9.8.1 3.9.1 4.4.1-.7.1-.1.1-6.9.1 4.9.1-.4.1-3.4.1 6 .1 2.8.1-13.9.1 3.7.1 6.8.1 1 .1 1.3.1-11.8.1 1 .1-3.6.1 12 .1-4.4.1-3.7.1 8.2.1 2.6.1-3 .1-7.8.1 7 .1-2 .1 2.2.1 2.2.1-6.4.1 6.6.1-2.9.1-.4.1 2.5.1 14.8.1-12.5.1 1.5.1 2.5.1-13.6.1 4.5.1 12.3.1-2.7.1-10.6.1-8.4.1 7.8.1 9.9.1-8.9.1-10.8.1 16.7.1-10.5.1 3.4.1 9.2.1-10.2.1 2.9.1-5.5.1 1.7.1-5.7.1 2.2.1 9 .1-2.5.1-12.9.1 4.4.1 14.1.1-9.6.1 10.1.1-3.8.1 4.7.1-6.6.1-6.7.1 9.2.1 5.9.1-4.4.1 3.7.1-4.9.1-12 .1 16.8.1-3.7.1-4 .1 12.9.1-9.7.1 1.6.1 7.7.1-7.3.1-10.1.1 13.8.1-4 .1 5.7.1-10.6.1.7.1 1.2.1-3.3.1.8.1 10.7.1-8.4.1-7.6.2 6.1.1 2.9.1-1.7.1 9.2.1 1.2.1-9.5.1 2.8.1.8.1-1.4.1-5.6.1-2.7.1 3.2.1 2.7.1 3.3.1 1.1.1-13 .1 4 .1-2.4.1 4.2.1-.1.1-4.5.1 7.8.1-4.3.1-1 .1 3.2.1-1.5.1 3 .1-2.2.1-2.7.1 5.8.1-4.7.1.9.1 4.5.1-.1.1-4.2.1-5.1.1 4.3.1 5.5.1.7.1-4.6.1 4.3.1-7.3.1 8.3.1-6.5.1 6.5.1 2.1.1-7.2.1-3.7.1 8 .1.8.1-2.1.1-1.3.1-3.2.1-2.3.1 6.6.1-6.8.1 5.2.1-1.9.1 7.5.1-2 .1-5.9.1 6.5.1 1.6.1-5.2.1-4.1.1-.3.1-2.3.1-1.7.1-5.4.1 12.8.1-3.4.1-3.3.1-2.3.1 2.5.1 2.2.1-3.3.1-4.8.1 7.1.1-3.4.1-1.8.1-6.7.1 9.6.1.4.1 4.1.1-8.7.1 3.4.1 6.5.1.1.1-4 .1-.9.1 4.7.1-5.8.1 4.5.1 1.4.1 16.9.1-22.7.1 2.8.1-4.5.1-.5.1 2.9.1 8 .1 1.4.1-12.1.1-2.6.1 9.6.1-4.9.1 3.9.1.5.1-12.6.1 10.8.1-9.2.1 13.8.1-9.8.1-4.1.1 10.1.1-6.8.1-.1.1 4.9.1-3.8.1 2.5.1 16.6.1-9.9.1-2.4.1 1.8.1-1.1.1.9.1 1.1.1 11.4.1-7.2.1-9.5.1.3.1 4.3.1-8 .1 12.9.1-1.8.1-2.2.1 3.9.1 2.4.1-8 .1 4.2.1-.3.1 2.2.1-10.5.1 2.6.1 6.8.1-2 .1-.6.1-2.3.2-3 .1-2.3.1 15 .1-13.2.1 2.3.1 3 .1-6.1.1 8.6.1-4.2.1-2.5.1 3.2.1.5.1 5.4.1-1.4.1-14.1.1 5.2.1.8.1 11.4.1-9.7.1 1.7.1 2.6.1-1.6.1 1.8.1-4.9.1-1.2.1 4.5.1-5.3.1-1.6.1.2.1 2.4.1 10.5.1-3.3.1 4.4.1-7.2.1-8.9.1 9.7.1-4.7.1 12.2.1-9.9.1 2.2.1 5.4.1-1.6.1 8.9.1-16.6.1 5.4.1-.2.1-1.5.1-3.6.1 11.8.1-2.1.1-.9.1-6.4.1 2 .1-4.5.1 6.2.1-12.8.1 3.2.1-4.1.1 10.1.1-11.6.1 1.2.1 15.8.1-13.2.1 11.6.1-12.5.1 8.9.1 4.2.1-5.9.1 10.6.1-7.3.1 3.2.1-9.4.1 4.9.1-1.7.1-11.1.1 8.7.1 5.5.1-1.1.1 2 .1-2 .1 4.3.1-3.5.1 2.4.1-9.4.1 4 .1-.6.1.7.1.1.1-1.4.1-3.4.1-9.3.1 10.5.1-.1.1 3.8.1.2.1 2.5.1.9.1 6 .1-2.6.1-3.7.1-4.1.1-2.3.1 5.3.1-.4.1 8.4.1-14.2.1 1.6.1-4.5.1 9.8.1-13.6.1 9.5.1 4 .1.2.1-2.4.1-1.2.1 11 .1-.7.1-7 .1-.1.1-4.3.1.7.1 5.4.1-11.5.1 8.6.1-2.4.1 7.2.1 2.4.1-4.2.1-15.2.1-.6.1 12.9.1.1.1-5.2.1 5.1.1 11.6.1-15.1.1 1.2.1 4 .1-3.8.1 1.7.1 14.7.1-16.6.1 1.2.1-1.1.1-3.3.1 7.4.1-.7.2-4.6.1 5.2.1-4.5.1-1.6.1 3.2.1-4 .1 10.4.1-8 .1 7.9.1-9.2.1 3 .1.6.1 1.9.1 1.6.1 2.9.1-6.6.1 3.8.1-5.1.1 7.7.1-7.5.1-3.2.1 7.8.1-5.9.1 4.3.1.6.1.9.1-.1.1-6.6.1 4.5.1 3.3.1-7.7.1-9.9.1 4.1.1 0 .1.9.1 5.6.1-3.8.1 3.5.1 7 .1-9.9.1 1.8.1 1.6.1-1.9.1-1 .1-4.3.1 11.2.1-2.8.1 1.1.1 0 .1 6.4.1-6.4.1-5.2.1 2.5.1-2.8.1.9.1-1.1.1 5.2.1-6.9.1 5.9.1-10.8.1 14.9.1-3.3.1 1.2.1-.1.1-4.4.1 12.7.1-5.7.1-.6.1-19.6.1 10.7.1 5.1.1-6.4.1 7.7.1-2.9.1 4.2.1-2.8.1-1.2.1-7.3.1 21.4.1-8.2.1-15 .1 11.9.1.8.1 6.7.1-.2.1 4.7.1-8.9.1-1.2.1 1.7.1 1.1.1-5.9.1 13.3.1-11.6.1-5.7.1-4.6.1 7.9.1 8 .1-10.6.1 3 .1-.2.1-2.2.1 9.5.1-23.2.1 7.2.1-2.8.1-3.3.1-3.4.1 1.5.1 3.9.1 6.3.1 0 .1 3 .1-5.8.1 2 .1 4.6.1-8 .1 2.4.1 9.8.1-2.2.1-1.2.1 5.7.1-3.6.1 7.1.1-1.4.1-7.8.1 2.4.1.6.1-9.7.1 9.8.1 3.3.1-3.6.1-5 .1-1.9.1-2.9.1 1.2.1 7.3.1-13.8.1 12.6.1-2.8.1 2.6.1-12.5.1 11.3.1 2.1.1 1.1.1-7 .1 8.9.1-6.5.2 12.9.1-6.9.1-3 .1-3.1.1 7.3.1-3.7.1-12.4.1 13.3.1-4.4.1-.9.1 6.1.1.5.1-.2.1-1.7.1-6.1.1 12.1.1-6.2.1-6.4.1 6.2.1 5.2.1.6.1-.5.1-1.5.1 0 .1-11.4.1 11.9.1 2.3.1-9.2.1-.1.1-1.1.1 2.1.1.9.1 16.3.1-3.3.1-12.5.1-11.8.1 17.6.1-6.8.1 14.1.1-17.3.1 10.5.1 5.1.1.9.1-9.6.1-2.9.1 4.8.1-2.8.1 6.5.1-3.3.1 0 .1 2.3.1-17.1.1 10.9.1 11.5.1-8.8.1 5 .1-4.4.1 4.6.1-4 .1-4.8.1-4.6.1 3.4.1 9.3.1 7 .1-11.7.1 8.3.1-10.6.1 8.7.1-2.7.1-4.5.1-2.2.1 5 .1-8.8.1 6.3.1 3.6.1-5.1.1 6.7.1-5.4.1 3.8.1-3.8.1 2 .1 5.7.1-12.4.1 6.6.1 8.8.1-6 .1 8.2.1-6.6.1 1.4.1-1.4.1-2.2.1 6.7.1-3.5.1-.5.1-1.3.1 2 .1-8.7.1 14.1.1-6 .1 2.4.1.1.1-2.5.1-3.3.1-5.2.1 6.7.1-5.3.1 2.3.1 8.6.1-4.7.1-5.1.1-5.7.1-2.9.1 8.8.1-6.2.1-2 .1 7.6.1-.3.1 1.8.1.8.1-6.5.1-1.2.1 11.3.1-2.1.1 5.7.1-.9.1-7.6.1-6.1.1 12.4.1-5.8.1.1.1 7 .1-2.7.1-7.6.1-.7.1 3.2.1 3.5.1 1.7.1-1.8.1-4 .1 8.2.1-.9.1 3.6.1-.5.1-.5.1 4.7.1-10.7.1-7.2.1-1.4.2 10.4.1 3.3.1-11.4.1 6.4.1 16.9.1-10.3.1-3.7.1 1.5.1-1.1.1.8.1 7.4.1-4.4.1-4.4.1-2.4.1 8.1.1-14.5.1 7.4.1 6.8.1-14.2.1 8.1.1 2.6.1-6.6.1 3.6.1 2.5.1.5.1 2.6.1 2.5.1-2.2.1-6.8.1.9.1 3.5.1 2.5.1-5.1.1 1.5.1-1.8.1 5.2.1-12.2.1 5.7.1-3.2.1-1.7.1-4.4.1 7.4.1 5.8.1 1.6.1-6 .1-8.1.1 13.2.1-12 .1 13.2.1-5.3.1 4.7.1-2.9.1.5.1-1.7.1-.2.1 3.4.1-8.9.1 8.4.1-7.7.1 1.1.1 4.4.1-8.7.1 4.9.1.8.1 10.6.1-6.7.1.9.1 5.2.1-9 .1 7.3.1 2.1.1-10.3.1 2.3.1 8.8.1-13 .1 4.7.1 6.2.1.3.1 1.8.1-4.5.1-1 .1 5.1.1-1.9.1 4.2.1-3.6.1-1.9.1-.4.1-4.9.1 1.1.1 2.9.1-4.8.1 1.4.1 2.2.1-4.4.1 5.6.1-4.6.1 7.4.1-5.1.1-3.1.1-2.1.1 5.6.1-7.1.1 1.1.1 2.2.1 1.7.1 6.5.1 10.2.1-10.9.1-.7.1 3.3.1-.5.1 1.2.1-4.7.1-.2.1-6.6.1 6.7.1 1.4.1-.5.1 1.3.1 4.3.1-9.9.1 6 .1 1.4.1 12.8.1-11.7.1-9.9.1 9.2.1 3.5.1-6 .1-3 .1 5.9.1-2.9.1-11.5.1 2.7.1 9.6.1-6 .1 2.3.1 3.8.1-2.1.1 1.5.1-4.1.1-.4.1-8.1.1 14 .1-6.8.1-1.7.1 5.2.2-4 .1-6.2.1 13.4.1-6.5.1.3.1 3.6.1 1.4.1-5.9.1 10.8.1-6 .1-3.4.1 2.6.1-6 .1 3.2.1 7.7.1-5.8.1-.5.1 4.2.1-1.3.1-5.3.1 6 .1-2.9.1 4.7.1.1.1-4.5.1-3.3.1 8 .1 7.3.1 9.6.1-13.3.1-15.5.1 12.8.1-8.3.1.2.1 14 .1-1.4.1-12.7.1 13.6.1-13 .1 3.1.1-.9.1 4.1.1-2.6.1-6.9.1 7.9.1-9.8.1 5.1.1 6.1.1-2.8.1-.2.1 1.4.1-7.4.1-.9.1-1.8.1 8.5.1-5.1.1 4.9.1-.1.1 2.4.1-2.7.1-4.1.1 6 .1-5.3.1 2.5.1-4.9.1 9.4.1-4.6.1-1.4.1 2.9.1-16.1.1 9 .1-2.5.1 3.1.1 7.8.1-1.1.1.8.1-3.9.1 3.1.1-4.7.1 1.8.1 6.6.1-2.5.1-5.8.1 8.6.1-4.2.1 1.5.1-5.4.1-3.2.1-2.8.1 4 .1 3.8.1-7.8.1 7 .1 2.9.1.3.1 16.1.1-18.5.1 4.6.1-2.4.1 16.9.1-4.1.1-9.6.1-3.3.1 17.9.1-13.3.1-5.4.1 1.7.1-4.8.1 5.8.1 2.2.1-.8.1-2.2.1-2.6.1 12.1.1 3.2.1-2.7.1-6.4.1-1.6.1 3.5.1-11.8.1 1.5.1 4.5.1-11.6.1-5.8.1 8.2.1 6.8.1.2.1-15.8.1 8.6.1 2.7.1-5.8.1 6.8.1 8.4.1-10.6.1-3.9.1 1.6.1 6.2.1 3.8.1-3.1.1-.3.1 1.8.1-4.1.1 6.3.1-2.8.1-7.3.1 8.2.1-2.9.2 7.1.1-2.5.1 6.8.1-3.4.1.2.1 1 .1-8.3.1 7.1.1 4.2.1-14.5.1 5.4.1.5.1.9.1-6.1.1 3.9.1-.1.1 1.3.1-7.6.1 3.1.1-4.7.1 19.5.1-6.6.1-4 .1 6.3.1-6 .1-1 .1-.5.1-4.3.1 6.4.1-8.8.1 2.7.1-3.5.1 5.5.1 5.1.1-11 .1 11.5.1-1.6.1 6.4.1-7 .1-10.1.1 6.7.1 5.7.1 3.6.1-1.4.1-3.5.1-10.9.1 13.3.1 2.1.1-10.2.1 8.4.1-10.7.1 4.6.1-.4.1-2.8.1 6.2.1-8.6.1 12.2.1-7.4.1 9.1.1-2.1.1-2.7.1 7.2.1-12.1.1 5.2.1 4.2.1 1.2.1 5 .1-16.7.1 8.6.1-1.9.1-2.2.1 3.2.1-3.2.1 7.5.1-3.2.1-11.4.1 6.2.1-2.5.1 7.2.1-8.1.1 6 .1 4.4.1.3.1-6.8.1 5.1.1-1.8.1 8.3.1 6.1.1-8.8.1-1.1.1 1.5.1 1.1.1-5.8.1-7.8.1 5.6.1 9.2.1-8.6.1-2.3.1-5.5.1 6.3.1.9.1-2.7.1 8.6.1-13.9.1 4.5.1 5.6.1-.1.1-9.9.1 17 .1-6.2.1 1.1.1 2.2.1-.4.1-3.3.1 6.4.1-13.4.1 7.3.1-8.8.1 4.5.1-12.6.1 11.8.1 3.1.1-13.4.1.8.1 10 .1-3.3.1.1.1.7.1 2.8.1-7.1.1 3.4.1-12.8.1 14.7.1-1.1.1 3.7.1-6.3.1 11.5.1-4 .1.1.1 5.4.1-9.8.1 2.8.1-8.6.1 10 .1 1.8.1-3.4.1-2.7.1 5.5.2-1.4.1-4.7.1 13.2.1-.4.1-11.5.1.9.1 8 .1 4.3.1-12.9.1 5.7.1-.9.1 1.3.1-7.1.1 12.4.1-7.9.1-2.8.1 7 .1 13 .1-21.5.1 13 .1-4.4.1 1.7.1 3.4.1-6.5.1 1.5.1-14.8.1 8.9.1-.7.1-6.7.1 7.4.1.3.1-3.6.1-4.1.1 6.4.1 1.8.1-5.5.1 6.2.1-6.6.1 8.8.1-6.2.1 4.6.1-2.8.1 1.7.1 7.8.1-2 .1-1.2.1-4 .1-3.5.1-2.4.1-1.5.1 7.5.1-6.6.1-1.5.1 6.6.1.9.1-5.2.1 4.2.1 5.4.1-10.7.1-4.9.1 2 .1-.9.1-2.3.1 1.8.1 1.9.1-6.7.1-.3.1 13.6.1-1.4.1 1 .1-.5.1-1.9.1-8 .1 5.7.1 2.5.1.1.1.5.1-4.3.1-.1.1-.6.1 3.9.1 3.1.1-4.5.1-4.6.1 1.4.1 2.7.1.1.1-7.4.1 3 .1 7.9.1-3.8.1-5.5.1-.9.1-3.4.1 5.8.1-6.5.1 2 .1.1.1 4.4.1-4.9.1 19.1.1-6.2.1-12.6.1.4.1 7.4.1-5.3.1 1.6.1 5.9.1-10.3.1 9.7.1-1.2.1-.7.1 2.1.1.6.1-4.8.1 10.9.1-4.3.1 7.9.1-9.4.1 7.7.1 3.4.1-2.2.1 6 .1-4.2.1 1.9.1-.1.1 2.1.1-12.3.1-2.3.1 4.9.1 7.8.1-9.3.1-.1.1-7.3.1 4 .1 1.9.1 2.3.1 7.8.1-11.8.1 4.2.1-6.7.1 16.6.1-8 .1-6.5.1 7.2.1 1.1.1-10.4.2 7.4.1 4.3.1-7.3.1 6.4.1-5.3.1-2.4.1 4.5.1 5.2.1-8.6.1 5 .1-3.4.1-6.6.1 3.2.1 4.1.1-8 .1 7.2.1-1.7.1 2 .1-.5.1 1.8.1-2.1.1 4.3.1-1.9.1-7.1.1 16.8.1-9.8.1-5.9.1 7.7.1.4.1-3.1.1-1.4.1-5.5.1 2.2.1 7.6.1-5.9.1 4.6.1.5.1-8.9.1-2.6.1 19.1.1-12.9.1 6.5.1-2.8.1.9.1 1.2.1-2.6.1 6.3.1-.5.1-7 .1-1.7.1-4.6.1 12 .1.7.1-1 .1 2.7.1 1.6.1-.4.1-3.1.1 2.3.1-2 .1-7.3.1 6.5.1-6.1.1 10.1.1-2.7.1-3 .1-1.3.1 7.6.1-5.9.1 8.8.1-4.1.1-2.4.1-7.7.1 3.3" fill="none" stroke="#000000" stroke-width="0.9" stroke-opacity="1" stroke-linejoin="round" clip-path="url(#cC)"/>
<path d="M45.4 304.8l.1 3 .1-6.3.1 3.3.1-9.4.1-3.4.1.4.1 4.2.1.6.1.3.1-1 .1-11 .1 4.4.1 8.6.1-6.4.1 10.3.1-.4.1-4.5.1-2.7.1 4 .1 1.3.1.1.1.1.1.1.1-1.8.1-5.7.1 5 .1 2.8.1-4.3.1 9 .1-2.2.1.8.1-.6.1 1 .1 1.8.1-10 .1 2.8.1-.8.1 20.6.1-15.9.1 4.7.1-.7.1 2.6.1-.2.1 5 .1-4.8.1 1.3.1.5.1-2.5.1 7.7.1-2.6.1 1.6.1-.3.1-8.2.1 4.3.1-9.6.1 11.1.1-5.3.1-1.2.1 5.9.1-2.1.1.1.1 4 .1-7.1.1.8.1-.3.1 6.4.1-5.6.1.8.1-4.4.1-1.1.1-1.4.1-5.1.1 6 .2-5.3.1 4.9.1-5.9.1-1.6.1 2.9.1 7.7.1-5.3.1 0 .1 5 .1-.6.1-5.1.1 1.5.1-1.2.1-3.5.1 3 .1 1.9.1-1.4.1-5.9.1-2.6.1 3.9.1-1.1.1 2.4.1-5.1.1 8.8.1-4.7.1 1.9.1 13.5.1-9.2.1 4.5.1-3.9.1-2.7.1-2.2.1 1.6.1-10.8.1 3.8.1 3 .1 5.7.1-4.1.1-5.2.1 9.5.1-3.4.1 2.1.1-2.8.1-.4.1 2.4.1-5 .1 5.5.1-6.8.1 10.4.1-1.5.1-1.4.1-5.1.1 2.5.1 1.9.1-2 .1-6.8.1 9.4.1-.1.1 1.3.1-6.8.1 8.1.1-9.3.1 11.5.1 3.9.1-6.1.1-2.2.1-6 .1.9.1 2.7.1-8 .1 11.8.1-10.1.1-1.2.1 5.3.1 5.7.1 1.4.1-10.7.1 7.8.1 3.9.1-15.1.1 7.4.1-2 .1 17.7.1-6.9.1 1.2.1-13.5.1 8.3.1.8.1-2.6.1 7 .1 3.4.1-9.6.1 1.7.1-1.2.1 1.5.1-6 .1 3.5.1.1.1 2.2.1-1.4.1-4.2.1 4.8.1-3.8.1-1 .1-2.5.1 9.4.1-4.3.1 6.4.1-8.8.1 0 .1-1.4.1 4.5.1-15.4.1 4.7.1 9.8.1-5.7.1-5 .1-2.7.1 1.6.1 4.3.1 5.9.1-5.5.1-5.3.1 1 .1-5.5.1 5 .1 3.5.1 4.2.1-3.7.1-1.5.1.7.1-1.7.1 4.7.1.6.1 4.5.1-4.1.1-7.7.1 14.6.1-13 .1-1.3.1-4.1.1 10.3.1.1.1 3.8.1-9.6.1-1.1.1-1.9.2 0 .1 4.4.1-6.6.1.5.1 8 .1 7.3.1-12.2.1 11.2.1-5.6.1-1.4.1-.8.1-3.9.1 4.4.1-.3.1.1.1.4.1-5.5.1-4.4.1 3.9.1 6.3.1-11.3.1 8.8.1.7.1-.1.1 6.4.1-10.8.1-2 .1 8.5.1-2.8.1-3.6.1-2.5.1-3.8.1 4.3.1 1.3.1-8.9.1 3.2.1-1.7.1 8.3.1-3.6.1-4 .1-2.6.1 4 .1 1.3.1-3.9.1-9.9.1 5.3.1 3.9.1 2.7.1 5.4.1-4.3.1-1.7.1 1.2.1-8.7.1 10 .1.7.1-1.3.1-2.7.1 1.7.1.9.1-2.2.1 1.9.1 7.4.1.9.1-7.7.1 6.8.1 1 .1-1.2.1-1.3.1 3.9.1-5.3.1-10.1.1 9.4.1-2.6.1-3.6.1 3.2.1 1.7.1 3.5.1 2.9.1-6.9.1 3.4.1 4.7.1-8.8.1 2.6.1 4.6.1-.7.1 6.7.1-5.9.1-7.2.1 4.4.1-1.3.1 1.7.1-2.3.1 13.5.1.3.1-12.4.1 8.8.1-2.6.1-3.4.1-1.9.1 3.4.1 12.6.1-7.9.1-3.2.1.5.1-4.9.1 3 .1-3.7.1 3.9.1 2.3.1-1 .1-5.1.1 7.8.1-3.3.1-5.8.1 4.1.1-2.3.1 11.3.1 1.9.1-11.9.1 2.1.1-1.1.1 5.3.1 2.3.1-6.5.1 6 .1 3.5.1-.6.1-3.6.1-5 .1 9.3.1 8.1.1-6.6.1-3.2.1 4.2.1 1.8.1-7.6.1 6.4.1 2.9.1-2.2.1-2 .1.5.1 1.9.1-2.7.1-4 .1 2.1.1 4.5.1-5.2.1 5.4.2 6.1.1-6.1.1-.1.1-.2.1 1.4.1-.3.1-6.3.1 9.9.1 4.1.1-5 .1-5.1.1-1.3.1 2.8.1 10.6.1-10.6.1.4.1-6 .1 5.6.1-2.8.1-3.3.1.1.1 8.8.1-4.5.1 3.2.1 3.8.1-1.3.1-6.8.1 4.2.1 1.8.1-14.7.1 1.5.1-3.2.1 19.5.1 5.2.1-9.2.1 5.7.1-6.4.1 4 .1-5 .1.8.1 5.7.1 1.8.1-12.3.1 5.5.1 2.4.1 1.5.1-.8.1-7 .1-2.1.1 2.8.1 5.3.1 1.1.1-12.5.1 9.4.1 1.9.1-9.6.1 8.2.1-1.3.1-12.5.1 8.7.1 7.2.1-11.1.1 1.1.1 1.8.1-.5.1-6.8.1 8.7.1 6.3.1-.3.1-7.6.1 7.2.1 4.1.1-.4.1-1.8.1-.1.1 3.9.1-1.2.1 3.8.1-3.7.1 7.4.1.3.1-10.6.1-5.4.1-1.6.1 4.9.1-2.2.1 8.9.1-.9.1.8.1-2.6.1-2.6.1 2.5.1-10.7.1 12.6.1-5.4.1 4.7.1-5.5.1 6.9.1-12.3.1 12.9.1-7.4.1 5.1.1-12 .1 10.7.1-2.9.1-.1.1-2.7.1 4.2.1 1.3.1-8 .1 2.5.1 2 .1-12.4.1 9.1.1-3.8.1 1.9.1-1.6.1-1.5.1 6.4.1-.6.1 2.9.1-10 .1 8.2.1-2.4.1-4.4.1 5 .1-6.9.1.4.1-10.8.1 17.5.1.7.1-7.8.1 6.6.1-.8.1 3.7.1.2.1-1.7.1-3.2.1.7.1 5.8.1 6.4.1-16.6.1 3.1.1 4.2.1 4.4.1-3.8.1-4.5.2.7.1-.8.1-5 .1-2.4.1 8.6.1 3.4.1-4.8.1 4 .1-.8.1 4 .1-1.9.1-6.3.1 3.3.1 2.6.1 4.4.1-10.6.1 6.5.1 3.4.1-6 .1 6.2.1-1 .1 6.2.1-3.1.1-.3.1 1.7.1-10.2.1 13.7.1-.3.1-4 .1-6.3.1 3 .1-2.5.1 1.3.1.9.1-.4.1.4.1-8.8.1.2.1 5.7.1-5.4.1-4 .1 8.4.1 4.8.1 0 .1 1 .1-.7.1-4.8.1-1.7.1 6.6.1-6.1.1 9.5.1-.2.1-1.6.1-7.2.1 7.1.1-2.7.1-6.7.1 1.6.1-6.6.1 12.1.1-5.4.1.3.1 4.5.1-6.9.1-.1.1 2.5.1-14.6.1 6.5.1 6 .1 3.9.1-8.9.1 2.7.1.5.1 2.9.1-5.1.1 4.1.1-.4.1-4 .1 9.4.1-13.1.1 10 .1-4.2.1 8.9.1-4.4.1-3.9.1 13.7.1-9 .1-6.5.1 9.9.1-2.9.1-2.6.1-.6.1-3.5.1 2.5.1 2.4.1 7.1.1.2.1-7 .1 5 .1 1.6.1-4.2.1-9.2.1 13.3.1 1.9.1-15.8.1-3.5.1 16.4.1-4.3.1-5.9.1 8.8.1 1.7.1-8.2.1 11.1.1-.9.1-7.3.1 8.4.1 3.7.1-.5.1 3.7.1-6.7.1.2.1 11.5.1-14.3.1 2.2.1.2.1-.4.1-6.9.1 5.9.1 6.2.1-12.2.1-3.6.1 4.3.1-.9.1 4.1.1-6.5.1-6.7.1 7 .1 1.8.1-4.9.1-5.5.1 2.8.1 4.1.1 2 .1-3.8.1 7.2.1-6.9.1-1.4.2-9.1.1 11.5.1-1.9.1 11.3.1-3.6.1-6.7.1-2.5.1 4.9.1-1.4.1.4.1 1.6.1-1.8.1-3.4.1-4.6.1 15.3.1-8.5.1-.7.1 5.7.1-6.3.1 8.7.1-12.3.1-1.9.1 1.3.1 3.1.1-2.6.1.4.1-.2.1-3.3.1 3.3.1 2.3.1 8.6.1-6.9.1-4.4.1 3.9.1-6.4.1 2 .1 1.2.1-6.6.1 8 .1-8.4.1 12.8.1.7.1-2.9.1-4.9.1 9.1.1-3.6.1 6.1.1 0 .1-8.2.1 3.7.1-2.3.1 6.3.1.1.1-3.1.1 1.7.1-3.3.1 10.8.1-2.3.1-1.8.1.7.1 4.1.1-1.7.1-5.4.1.9.1-7.6.1 2.1.1 5.5.1 6.9.1-.7.1-1.1.1 2.3.1 4.3.1-14.4.1.7.1-7.2.1 1 .1 2.7.1 8.7.1-5.4.1 2.9.1-10.9.1 5.8.1 1.2.1-8 .1 7.3.1 4.3.1-1.4.1-1.3.1-2.7.1-4.3.1 4.3.1-.7.1.3.1-9.7.1 8.3.1 3.2.1.6.1-2.3.1-1.9.1 5.3.1-10.2.1 9.9.1-4.6.1 6.5.1-.9.1-2.1.1 1 .1-4.4.1 9.7.1-1.8.1-2.3.1 2.6.1-3.7.1.9.1-4.8.1 5 .1-.8.1.5.1-.7.1 5.4.1-3.1.1 4.1.1-12.2.1 8 .1 1.7.1 1.2.1-6.7.1 1.3.1 7.3.1-15.4.1 11.9.1 5.4.1-12 .1 5.5.1 1.1.1 2 .1-.1.1-6.4.1 4.1.1-1 .1 1.4.1-5.2.1-6.6.1 4.1.1 1.1.1 7.8.1-6.5.1 1.1.2 15.3.1-15.4.1 3.9.1-9.9.1 7 .1 6.4.1-8 .1-1.5.1-3.5.1 3.9.1-4.2.1 10.1.1.4.1-2 .1-6.5.1 2.4.1 4.7.1 5.7.1 2.4.1-4 .1-.2.1-4.4.1-2.4.1 4.4.1 1.1.1-2.2.1-.3.1 1.3.1-4.9.1 1.2.1-2.4.1-2.3.1 7.5.1-1 .1 9.5.1-12.3.1 9.1.1-9.4.1-2.3.1-5.5.1 15.3.1-4.3.1 4.2.1-8.3.1 12.5.1.6.1-2.9.1-.4.1-1.4.1-1.7.1-2.8.1-2.3.1-2.3.1 6.2.1.6.1-4 .1 2.3.1 2.6.1 6.3.1-9.6.1.3.1-4.6.1.6.1 1 .1 3 .1-2.6.1 9.3.1-3.2.1-1.6.1.6.1-.7.1-9.4.1 12 .1-5.3.1.5.1 8.9.1.9.1-1.3.1-10.9.1 17.7.1-5.4.1-8.9.1 4.8.1-.3.1 3.6.1 3.4.1-1 .1-5 .1 5 .1-4.3.1 2 .1-2.3.1-6 .1 4.8.1-7.1.1-1.6.1 11.6.1-8.3.1 1.9.1-4.5.1 5.8.1-1.6.1 5.1.1-4.4.1 8.4.1 1.3.1.6.1-4.7.1-3.3.1 6.1.1-7.4.1-1.6.1 9.2.1-11.7.1 1.4.1-3.6.1 10.8.1 1.3.1-4.3.1-2.5.1 3.7.1 2.6.1-7 .1 9.9.1-11.2.1 1.1.1 5 .1-5.4.1 5.4.1-4.2.1 3.2.1-2.2.1 4.8.1-4.9.1.1.1-.4.1 4.3.1 6.7.1-8.7.1 0 .1-3.4.1 3.1.1-7.4.1 1.6.1 2.4.1-2.9.1 6.6.2-7.6.1 12.1.1-2.7.1-12.9.1 14.9.1-4.6.1 3.1.1-4.2.1-1.5.1 1.6.1-.1.1 5.8.1-3 .1-6.3.1.2.1 3.5.1 6.9.1-3.3.1-1.3.1-5.4.1 5.8.1 9.9.1-15 .1 10.5.1-.1.1-13.5.1 10 .1 4 .1-5 .1 2.9.1 1.2.1-4.8.1 3.6.1-6.2.1-8.4.1 10.9.1 2 .1-2.7.1 3.6.1-2.3.1 6.5.1-9.4.1 8.7.1-7.5.1 2.7.1 5.2.1-2.3.1 1.7.1-.4.1 9.3.1-8.3.1 3.6.1 2.8.1-8.1.1-.9.1-.5.1 7 .1.1.1-3.4.1-6.4.1-5.1.1 8.1.1-1.7.1 7.2.1-6.8.1 11 .1-.5.1-8.7.1 6.2.1-3.9.1 3.8.1 4 .1 1.2.1-11.1.1-7.5.1 7.8.1-3.1.1 2.4.1-4.7.1 10.6.1-5.8.1-4.2.1 1.9.1-.3.1-4.1.1 2.3.1 2.3.1-8.7.1 7.2.1 3.3.1-6.1.1 3.8.1.1.1-3.8.1 1.7.1-1.7.1 7.9.1-6 .1 7.4.1-8.4.1 7.3.1-6.6.1 4.1.1-7.3.1-4.9.1 6.1.1 2.8.1 6.7.1-.4.1 4.5.1-7 .1 3.2.1-3.9.1 9.1.1-13.9.1 8.9.1-13.2.1 6.1.1 8.2.1 1.9.1.3.1.2.1-16.7.1 6.9.1 2.2.1 6.8.1-6.2.1.1.1.1.1 6.5.1-11.1.1-.4.1 7.8.1-9.4.1.7.1-.1.1 4.5.1-4.1.1 14.1.1-10 .1-2.2.1 3.1.1-3 .1.8.1-7.4.1 7.2.1 2.6.2-8.1.1 1.5.1 11.1.1-2.7.1-.4.1-.3.1 3.4.1-7.6.1-.2.1-9.8.1 18.5.1-7.4.1-7.8.1 3.1.1 7.9.1-6.7.1 10.2.1-5.8.1-7.5.1 7.3.1 3.8.1-2.6.1-2.5.1-1.3.1 1.8.1-.5.1-4.1.1 4.3.1 4.2.1.8.1-3.4.1-9.1.1 11.7.1-.8.1.5.1 6.5.1 3.3.1-8.2.1.7.1-.2.1-3.8.1 6.4.1-8.3.1 7.8.1 3.3.1 2 .1-.5.1-8 .1 8.4.1 2.8.1-6.8.1 2.7.1-2.7.1-1.1.1-1.5.1-7.5.1 3.5.1 2.4.1.3.1 9.6.1-22.3.1 9.5.1 6.7.1-4.7.1-5.5.1 4.6.1 2.6.1-9.3.1-1 .1.4.1 5.7.1-3.5.1-4.8.1 6.6.1-6.1.1 10.7.1 1.2.1-.5.1-5.9.1-.4.1-2.3.1 4.2.1 1.9.1 6.3.1-1.2.1 2.4.1.2.1-5.1.1 6.8.1-4 .1 1.8.1-1.7.1 10.4.1-13.8.1 6.8.1 4.2.1-6.9.1 4.4.1-3.2.1.8.1-4.5.1 4.7.1.8.1 3.2.1 1.5.1-1.1.1-10.7.1 4.6.1-1.8.1 3.9.1 5.5.1-9.2.1-.1.1-1.2.1 3.5.1 1 .1 5 .1-9.4.1 5.3.1-1 .1-7.2.1 1.2.1-1.3.1 2.3.1-7 .1-1 .1-1.7.1-1.3.1 3.2.1-.5.1 5.1.1.4.1 8 .1 0 .1-2.9.1.3.1-6.9.1 2.6.1-11.9.1 13.6.1.9.1-3.5.1.4.1 5.3.1 1.7.1-5.7.1-6.6.1 4.8.2-3.3.1 7.5.1-.2.1-3.1.1 5.6.1-10.3.1 9.8.1-9.5.1 4.9.1-5.5.1-9.2.1 6 .1-1.6.1 6 .1-6 .1 1 .1 2.5.1 9.1.1-5.1.1-7.5.1 5.1.1-2.9.1 14.1.1-10.2.1 3.8.1-4.5.1.2.1 2.5.1-6 .1 3.4.1-1 .1-2.6.1 10.7.1-6.4.1-2.6.1-8.8.1 3.2.1 7.5.1-.6.1 1.5.1 1.5.1-6.9.1 2.1.1-1.5.1 5.5.1-3.5.1 2.7.1-7.1.1-1.7.1 1.1.1 4.4.1-6.4.1 6.3.1 3.2.1-2.1.1-6.9.1 13.3.1-8.1.1 9.3.1-1.6.1.4.1-2.7.1-4.2.1 3 .1-1.9.1.4.1 6.1.1-1.5.1-.9.1-3.9.1-.3.1-4.6.1 3.9.1 1.2.1 5.5.1 2.6.1-9.2.1-5.1.1 9.7.1 2.1.1-12.6.1 8.9.1-.8.1 3.6.1-10.3.1 6.6.1 4.8.1-3.1.1-1.1.1 2.1.1-7.1.1 5.8.1-4.3.1-9.5.1.1.1 7 .1-3.2.1 5.3.1 5.7.1-10.8.1 6.9.1 4 .1 3.5.1-5.9.1-4.9.1-.7.1 3.2.1-3.1.1 9.6.1-3.7.1-1.6.1-4.6.1 10.5.1-7.2.1 2.2.1.4.1 2.3.1-4.1.1-1 .1.3.1 2.7.1-1.9.1-6.5.1 3.3.1 2.4.1-3.9.1-1.4.1-4.8.1 4.7.1.6.1-2.5.1.6.1 9.9.1-9.3.1-1.1.1 3.6.1 5 .1-2.4.1 5.4.1-4.5.1-3.8.1-1.9.1-1.1.1 3.2.1-.9.1-3.4.1 10.3.2-5.1.1-2.1.1 3.6.1-5.3.1-4.2.1 7.3.1 3.9.1-9.7.1 4.5.1-1.5.1 7.4.1 1.3.1-2.6.1-1 .1 2.4.1 3.8.1-7.9.1-3.4.1 7.4.1-1.1.1 1.7.1-1 .1.4.1-.2.1-6 .1 2.5.1 10.1.1-6.7.1-6.1.1 1.1.1-6.4.1 6.3.1-.7.1 1.7.1-4.8.1 2.1.1 3.1.1-2.8.1 2.6.1-4.3.1 5.4.1-3.2.1-4.7.1 5.6.1 3.3.1-7.6.1-3.1.1 8.9.1-5.6.1-2.9.1 9.4.1-1.4.1-2.8.1 2 .1-5.3.1 4.4.1-4.6.1-2.4.1 6.1.1 1 .1-2.9.1-7.2.1 1 .1.7.1-.8.1 7.3.1-1.3.1-6.3.1 6.1.1 5.1.1-12 .1.8.1 10.2.1-7.8.1-2.5.1-.6.1 5.2.1-3.1.1.4.1 4.1.1-10.6.1 6.8.1-3.3.1-4.8.1 6.6.1-1 .1-2.2.1 3.5.1 7.9.1-3.8.1 1.8.1-.5.1.5.1 4.8.1-3.7.1.2.1-1.4.1-.5.1 7.5.1-.8.1-7.6.1 7.9.1-2 .1-6.6.1-.7.1 8.5.1 2.3.1-3.8.1.5.1 4.6.1-12.8.1-2.1.1-2.6.1 2.9.1 6.9.1-11 .1 4.5.1-.4.1 1.7.1 7.2.1-6.5.1-3.9.1 5.5.1-5 .1 5.4.1 4.4.1.6.1-5.1.1.3.1 1.6.1 5.9.1-2.3.1-7.2.1 5.7.1-5.8.1 4.3.1-4 .1-.7.1 7.8.1-.3.1-4 .1-2.6.1 2.4.1-4.3.1 2 .1-8.2.1 7.1.2-.5.1-2.1.1 6 .1 7.2.1-2.7.1-8.6.1-.8.1-.3.1-2.9.1 8.1.1-4.5.1-5.8.1-1 .1 10.3.1-4.8.1 5.3.1-6.5.1 2.6.1-1.2.1 1.4.1-2.4.1 4.2.1-8.7.1 6.4.1 4 .1-2.4.1-1.1.1 1.9.1-.1.1-1.7.1 4.7.1-4.9.1 12.6.1-6.7.1 1.9.1.2.1-3.4.1 4.4.1-2.9.1-6.3.1.8.1-5.4.1 2.6.1.6.1-.5.1 3.3.1 6.5.1-5.8.1-2.8.1-1.7.1 9.2.1-.2.1-8 .1-.6.1 3 .1 2.2.1-11.5.1.7.1 12 .1-3.3.1-10.5.1 19.1.1.2.1-7.4.1-.9.1 11.1.1-5.9.1-1.2.1 3.6.1-6.2.1 1 .1 13.9.1-6.9.1-9.5.1 4.9.1 1.3.1-8.4.1 9.3.1-5.4.1-6.7.1-.9.1 6.1.1 3.6.1-3.6.1 6 .1-.9.1.9.1 1.1.1-1.1.1-2.5.1-5.3.1-2.6.1-5.6.1.9.1 6.4.1 2 .1-3.7.1 1 .1-1.2.1-2.8.1 7.2.1 3.3.1-9.9.1-5.6.1 9.3.1 5.1.1-.7.1-5.9.1-2.5.1 7.6.1-8 .1-3.2.1 3.9.1-2 .1 2.5.1-4.1.1.6.1 8.1.1-1.5.1 2.2.1-8.9.1 8.9.1 1.1.1-4.2.1 2.6.1 1.1.1-11.3.1 6.5.1 4.3.1-4.9.1 0 .1-3.9.1 2.1.1 7.6.1-6.7.1.5.1 3.9.1-5.1.1 9.2.1-5.7.1 1.6.1-1.7.1 2.2.1 7.6.1-1.8.1-5.6.1 4.8.1-.4.2-3 .1 2 .1 5.6.1-4.3.1-.2.1 2 .1-3.4.1-1.4.1 5.2.1-5.7.1 6 .1 1.6.1-7.8.1-2.6.1-8.1.1 13.5.1 1.4.1-7.4.1 6 .1 5.7.1 2.3.1-4.4.1 6.8.1-16.1.1.1.1 8.5.1-3.7.1 2.5.1-1.7.1-2.8.1 4.3.1-1.5.1 5.6.1-6 .1 5.4.1-3.6.1-10.3.1-1.4.1 4.3.1 4.9.1.3.1-.3.1-6.9.1 5.5.1 4 .1-1 .1 1.1.1-3.5.1-2.3.1 4.7.1 1.4.1-6.6.1-1.9.1-6.5.1 7.5.1.7.1 12.5.1-11 .1-.2.1 8.7.1.6.1-9.9.1.8.1-2.2.1-2.1.1 5.5.1-.1.1 4.7.1-9.9.1-7 .1 6.7.1-3.1.1 3 .1 5.3.1.4.1-.1.1-1.5.1 2.4.1-3.9.1-.9.1-12.5.1 8.1.1-3.5.1 4.5.1 1.2.1 2.8.1.5.1 4.7.1-5.9.1-1.9.1-1.3.1 4.8.1.8.1 1.5.1 4.4.1 3.7.1-5.4.1-9.2.1 6.2.1 2.3.1-10.6.1 11.7.1-6.8.1-.2.1-1.2.1 10 .1-5 .1-3.4.1 4.9.1-.5.1-.5.1-2.7.1.3.1-4.8.1 2.2.1-2.1.1-2.6.1 5.7.1-.2.1-3.7.1-1.6.1 10.9.1-.5.1-6.4.1 4 .1-2.6.1 6.1.1-8.6.1.5.1-2.1.1 8.7.1-10.7.1 13.9.1-8.8.1-2.5.1 2.9.1 1.3.1-4.7.1 8.5.1-13 .1 11.3.1-1.7.1-3.2.1-4.3.1-2.5.1 4.2.1 3.9.2-2.1.1 3.8.1-7.2.1 5.2.1-1.5.1.1.1 6.5.1-5.3.1 12.3.1-5.5.1-6.5.1.8.1.6.1 13.4.1-5.5.1-3.9.1 6.8.1-10.8.1 1.7.1 4.5.1-6.8.1-1 .1 4.2.1-2.4.1-2.1.1 6 .1-13.2.1 14.1.1-4.4.1-1.1.1-1.2.1-1.2.1 8.4.1-6.3.1-3.4.1 7 .1-3.9.1 4.3.1-5.4.1-2.6.1 13.7.1 2.3.1-1.8.1-1 .1-8.1.1 3.1.1-11.7.1 5.8.1 13.4.1-10.5.1-7.8.1 11.3.1.8.1-4.2.1 1.7.1-1.6.1-3.1.1 4.3.1-1.1.1 4.7.1-3.9.1-4 .1 2.9.1 2.7.1-13.8.1 7.2.1 7.2.1-4.1.1-7 .1 4.1.1 5.1.1 4.9.1-1.2.1-.5.1 2.4.1-4.4.1 1.1.1-6.7.1 10.8.1-7.1.1-1.4.1 2.4.1 2.7.1-6.5.1-4.5.1-8.4.1 11.4.1 2 .1 2.3.1-.4.1-5.5.1-5.8.1 6.3.1 1 .1-1.9.1.5.1-.1.1-4.3.1 3.3.1 6.2.1-6.3.1 11.3.1-11.2.1 5.8.1-4.8.1 18.3.1-20.7.1.4.1 2.4.1-2.3.1 3.4.1-.5.1 1.6.1 3.8.1-9.4.1 1 .1 1.9.1-2.8.1-2.1.1 3.1.1-20.5.1 27.7.1-3.5.1-.5.1-3 .1-4.6.1 3.5.1 7.1.1 1.7.1-9.9.1 6 .1 2.8.1-4.7.1-1.2.1 5.8.1 5.8.1-15.3.1 7.1.1-1.9.1 2.5.1 3.3.1-8 .1 15.4.1-12.1.1-1.1.1.3.1-1.7.2 7.5.1-2.4.1 1.5.1-3.8.1 2.5.1-1.3.1-4 .1 9 .1-4.2.1-.7.1 11.3.1 3.2.1-16.4.1 12 .1 3.6.1-5.9.1-2.6.1 9.8.1-1.4.1-13.7.1 1 .1 5.4.1-6.2.1 7.8.1 2.6.1 2 .1.6.1-12.2.1 9.5.1-5.3.1 9 .1 1 .1-2.1.1-10.6.1-1.9.1 7.8.1-1.6.1 7.9.1 5.4.1-10.3.1 14.1.1-8.2.1.6.1 3.3.1-4.3.1-1 .1 2.1.1 2.9.1 2 .1-5.6.1-5.3.1-3.5.1 11 .1-7.5.1 3.2.1 6.7.1-6.2.1 1.4.1-5.6.1-3.2.1 3.3.1-2.2.1 7.3.1-7.6.1 3.5.1-.4.1 7.3.1-5.7.1-2.8.1 4.6.1.1.1 8.5.1-7.9.1 3.9.1-2.3.1 0 .1-.7.1-1.4.1 3.2.1-2.2.1 1.5.1-8.7.1 2 .1 7.2.1 3.9.1-.9.1 6 .1-10.6.1 5.3.1-12.8.1 9.8.1-10.6.1 11.8.1-11.3.1.4.1 2.1.1-3.6.1 13.2.1-9.8.1-1 .1-2.8.1 6.7.1 5.5.1-4.9.1-8 .1 15.7.1-3 .1 3.6.1-6.2.1.1.1-2.5.1 1.9.1.5.1.1.1 5.3.1 2.2.1-3.5.1-5.8.1 4.5.1 1 .1.1.1-2.6.1-1.1.1 4 .1-7.5.1 1.2.1 4 .1-1.8.1-4.4.1 5.8.1 2.5.1-15.7.1 7.7.1 9.1.1-5.6.1 1.5.1-.7.1.2.1.1.1-4.2.1 6.7.1 4.2.1-9.3.1 12.3.1-9.1.1.8.1-2.4.1-5.2.2 1.9.1 4.5.1 5.8.1-7.3.1 6.1.1-4.3.1 1.2.1-1.5.1.3.1-2.4.1-2.5.1 4.1.1 1 .1 2.8.1 2.3.1-7 .1-2.2.1-5 .1 1.9.1 1.1.1 1.2.1 3.8.1-5.3.1 8.9.1-4.3.1 1.9.1.7.1-5 .1-4 .1 5.2.1-2.2.1 10.5.1-7.1.1 8.7.1-10.5.1.1.1 8.3.1-10.8.1 1.4.1 11.2.1-4 .1-2.9.1-6 .1.4.1-6 .1 10.8.1 1.8.1-10.8.1.8.1 5.6.1-9.2.1 7.2.1 4.8.1-9.7.1 1.3.1 1.4.1-3 .1-3.1.1 5.6.1-6.9.1 11.9.1-7.3.1 9.3.1-1.6.1 8 .1-11.9.1 6.5.1-16.4.1 1.2.1 5.1.1 8.6.1-7.4.1 1.4.1 4.5.1-9.3.1 13.1.1-7.9.1 10.7.1-3.1.1-.7.1 3.8.1-7.3.1 3.6.1 5.9.1-4.8.1-1.9.1-3.9.1 10.1.1-7.9.1-2.6.1 4.8.1-9.7.1 11.4.1-13.4.1 12.6.1-6.4.1 1 .1 6.2.1-6.5.1-2.5.1 1 .1 2.3.1 8.1.1-11 .1 4.7.1 2.6.1-6.2.1-1.7.1-7.8.1 5.1.1 3 .1-4.7.1 4.9.1 3 .1-2.6.1-3.5.1 10.3.1-3.3.1-4.3.1 1.1.1 3.5.1-2.3.1 6.1.1 5.4.1-10.8.1 3.9.1 1.4.1 4.1.1-7.3.1.9.1 3 .1-1.7.1-4 .1 1.8.1.6.1-2.5.1-1.5.1 6.1.1 6.9.1-6.6.1.7.1-5.4.1 11.5.1-12.4.1-2 .1 5.5.1 3 .2-1.9.1-1.7.1 1 .1-4.3.1-3 .1-5.3.1 13 .1-2.9.1 1.1.1 11.2.1-8.8.1-1.1.1-2.2.1 0 .1 10.2.1-7.1.1 13.8.1-14 .1-3.4.1 6.8.1 2.5.1 1.2.1-8.9.1 13.2.1-12 .1.5.1 10.5.1-3.5.1 2.7.1-2.6.1-3.5.1 2 .1.3.1-3.9.1-1.4.1-6.2.1 2.9.1-.9.1 5.8.1-3.7.1 4.5.1 4.3.1-11.2.1 6.1.1-1.2.1-3.6.1-3.3.1-2.8.1 12.4.1-7.4.1 5.2.1-1.3.1-4.3.1-1.2.1 4.8.1.2.1-6.9.1 7.2.1-2.1.1 5.2.1 5.1.1-2.9.1-1.7.1 8.5.1 1 .1-3.2.1-2.4.1-4.6.1 7.2.1-7.7.1 2.8.1-3.1.1 7.1.1-2.5.1 0 .1-.2.1.6.1 6.3.1-17.9.1 5.2.1-3.9.1 1.9.1 3.4.1 2.8.1 2.5.1 4.3.1-6.1.1.5.1 5.2.1-2 .1-4.5.1 5.2.1 2.5.1-1.3.1 2.5.1-2.1.1-4.2.1 1.5.1-6.8.1-3.4.1 5.2.1-6.4.1 4.1.1 5.2.1 5.7.1-6.2.1-2.9.1-10.9.1 15.9.1 5.9.1-13.4.1-.5.1 4.5.1 6.6.1-6.9.1 1.1.1-4.6.1 8.6.1-5.3.1 15.7.1-7.5.1-4.6.1-3 .1-1.5.1 5.4.1-2.7.1 5.8.1-8.6.1 6.5.1 3.6.1 3.2.1-1 .1-7.7.1 12.3.1-1.6.1-5.1.1-8 .1 5.4.1-4 .1 4.2.1 5.4.1 1.6.1-1.3.1-5.7.1.6.1-2.8.1-4.5.2 1.7.1 1 .1 2.7.1-2.6.1 10.8.1-12.8.1 6 .1.1.1-.1.1 1.4.1-3.3.1.8.1 2.8.1-6.7.1-6.1.1 8.2.1-2.2.1 4.8.1-3.8.1 8.1.1-5.5.1 3.2.1 5.3.1-11 .1 10.9.1-4.8.1 10.1.1-6.7.1-.6.1 2.3.1-5.1.1-1.2.1-9.9.1-2.7.1 7.8.1 2.2.1 5.7.1-2.4.1.4.1-5.9.1 2.7.1-4.4.1 7.7.1-1.6.1-2 .1 7.2.1-7.7.1-.3.1-2.9.1.2.1 3.2.1-.1.1-2.2.1 4.8.1.1.1-2.2.1-.1.1-5 .1.6.1-2 .1 3.2.1 2.4.1-3.6.1-3.9.1 8.1.1-2.4.1-3.5.1-1.2.1 3.2.1 9.4.1-2.8.1-5.1.1 6.7.1-2.5.1-6.6.1 3.3.1-2.6.1-.4.1-4.4.1 8.3.1-.6.1-4.4.1-6.8.1 4.3.1.2.1-1.6.1-.8.1-.4.1 3 .1-.9.1.5.1 5 .1 3.8.1-4.1.1 5.9.1-12.3.1 2.8.1 2.5.1-1.7.1-.1.1 4.9.1-9.5.1 9.4.1-3.4.1 3.4.1 1.9.1-1.6.1-1.3.1 6.4.1-10 .1 6.8.1-1.8.1-2.7.1 5.7.1 4.5.1-11.4.1 7.8.1 6.9.1-8.4.1-8.3.1 1.3.1-8.3.1 5.9.1-5.5.1 8.3.1.9.1-5.1.1 4.7.1 3.8.1-1 .1-1.5.1 6.9.1-2.1.1-9.8.1-.1.1 9.9.1-4.8.1-4.1.1 1.6.1-1.8.1-1.9.1 4.2.1 2.5.1-2.9.1-7.1.1-1.9.1 5.3.1 2.4.2-.4.1-2.4.1-.6.1-1.1.1-.3.1-2.1.1 19.2.1-15.1.1-6.9.1 6 .1-3.7.1 7.3.1-3.7.1 3.5.1 3.9.1-13.7.1 14.1.1-9.6.1 1.8.1 4.4.1-8.4.1 10.7.1-11.6.1-.3.1-1.4.1 7.9.1 5 .1 3.2.1-6.3.1-5.9.1-3.3.1 8.8.1.8.1-1.3.1-2 .1-2.6.1.8.1 2 .1-7.8.1 7.6.1 5.8.1 2.1.1-9.3.1-2.5.1 2.4.1 0 .1-1.7.1 4.2.1.3.1 1.5.1 3.3.1-5 .1-.6.1.6.1 7 .1.7.1-1.7.1-5 .1 10.3.1-3.4.1-2.6.1-7.8.1-6.5.1 12.6.1-2.3.1 5.7.1-10.2.1-4.1.1 6.4.1 4.8.1.8.1.5.1 1.7.1-1.1.1 5.4.1-5.3.1.5.1-8.7.1 1.5.1 7.9.1-1.1.1-7.4.1 6.3.1 5.6.1-7.4.1 1.9.1-8.9.1 8.1.1-2.1.1-7.8.1-.2.1 16.3.1-10.3.1 2.5.1-.5.1-10 .1 13.9.1-.6.1-4.1.1 4.2.1-2.9.1.2.1 2.7.1 3.1.1 4.2.1-2.7.1 7 .1-8.4.1.8.1 10.1.1-11 .1 3.8.1 3 .1-10.7.1 1 .1-2 .1 2.2.1 5.3.1-3 .1-3.6.1 2.7.1 3.5.1-8.6.1.7.1 7.4.1-11 .1 6.4.1.8.1-1.5.1.3.1 5.5.1-.8.1.4.1-3.5.1 7.1.1-7.1.1-.3.1 1.7.1 9.4.1-14.8.1 2.9.1 5 .1-5.1.1-2.3.1 3.9.1.3.1 3.7.2-12.8.1 5 .1-1.3.1 7.1.1-4.1.1 6.4.1-.6.1-7.1.1-4.4.1 4.7.1 6.1.1-11.4.1 8.1.1-1.9.1 6.1.1-.2.1-9.9.1 4.4.1.4.1 7.6.1-7.2.1-3 .1-2.4.1 14.8.1.1.1-6.1.1 7 .1-12.2.1 9.4.1-9.5.1 8.3.1-9.5.1 1.5.1 13.2.1-6.4.1 4.8.1-1.3.1-11.3.1-7.9.1 6.5.1 12.9.1-3.4.1-11 .1 1.7.1 11 .1-4.4.1-7.9.1-2.6.1 3 .1 8 .1-7.1.1 2.4.1-4.1.1 1.1.1-1.7.1-2.2.1-3.6.1 7.3.1-.1.1-1.6.1-1.1.1-6.5.1 13.3.1 2.4.1-8.2.1 2.3.1 11.8.1-7.3.1-4.2.1 6.9.1-10.6.1.9.1 4.7.1-3.1" fill="none" stroke="#ff0000" stroke-width="0.9" stroke-opacity="1" stroke-linejoin="round" clip-path="url(#cC)"/>
<path d="M45.4 292.0l.1-12.4.1 4.3.1.5.1 3.6.1.6.1-.6.1-1.2.1-5.5.1 6.9.1-10.8.1 1.5.1 5.7.1 1.5.1 6.4.1 1.3.1-5 .1 1.4.1 4.2.1-10.2.1 6 .1-.3.1-5.2.1-1.6.1 3.6.1-7.6.1-4.7.1 17.1.1-17.4.1 7 .1 6 .1-5.4.1 9.1.1-11.5.1-3.4.1 6.6.1-.2.1 4 .1-5.3.1 3.6.1-12.1.1 6.6.1 5.9.1-2 .1 4.8.1-9.2.1-.3.1-3.8.1 5 .1-8.2.1 14.7.1 9.7.1-10.7.1-16.3.1 9 .1-5.7.1-4.2.1 3.6.1 3.8.1 10.4.1-2.6.1-5.9.1 2.7.1 5.3.1-5 .1 5.8.1-10.3.1-1 .1 2.8.1 11 .1-9 .1 11.2.1-7.2.1 2.2.2 2.9.1-1.5.1 3.5.1-4 .1-2.8.1.6.1-5.4.1 8.1.1-2.8.1.9.1 8.2.1-18.3.1 4.6.1 8.6.1-.3.1-1.3.1 7.9.1-5.1.1 1.6.1-.3.1-5 .1-.7.1 9.4.1.8.1-10.9.1 1.4.1-5.3.1 6.6.1 3.3.1-5.4.1 1 .1 4.8.1 3.7.1-8 .1 1.5.1 6.3.1-4.9.1.5.1-6.4.1 5.8.1 4.1.1-2.6.1 2 .1-2.1.1.1.1.4.1-2.1.1 4.1.1-3.5.1 3.9.1 2.8.1-9.6.1 7.9.1 11.8.1-18.3.1 7.2.1-7.6.1 9.7.1-7.8.1-1.2.1-1.8.1 1.3.1-2.3.1.9.1-7.5.1 3.4.1 7.2.1-2.6.1 1.9.1-2.3.1 10.3.1-4.8.1 4.5.1-5.7.1-.2.1 3 .1-4.5.1 6.2.1-7.5.1 2.9.1-4.6.1 2 .1-.1.1 2.7.1 5 .1 1.2.1-.8.1-5.6.1-4.7.1-7.5.1 2.3.1 5.4.1-3.6.1-1.1.1 5.1.1-10.1.1 10.2.1 8.9.1 3.4.1-6.9.1 1.9.1 6.2.1-6.7.1 2.6.1-8.9.1 3.9.1-3.6.1 1.5.1-5.7.1 2.2.1 5.5.1 3.8.1-5.7.1 1.9.1 5 .1 5.9.1-11.6.1-9.5.1 6 .1 6 .1-3.8.1 2.2.1-4 .1.3.1 6.7.1 2.6.1-12.7.1-.1.1-2 .1 3.8.1 3.4.1.6.1-4.3.1-5.5.1 5.7.1-8 .1 3.4.1-1.2.1 7.4.1 1.4.1-4.4.1-10.4.1 16.3.1-1.7.1-7.9.1-4.5.1 7.5.2 3.4.1 3.3.1-6.1.1 1.3.1-1.6.1-1.7.1-1.7.1 6.9.1-18.4.1 7.1.1-7.4.1 4.8.1 8.2.1-1.3.1.5.1-1.8.1 9.1.1-5.9.1 11.9.1-11.3.1.5.1-1.3.1-16 .1 7.8.1 2.9.1 8 .1-10.5.1-1.4.1.1.1 6.7.1-2.8.1-.1.1 5.8.1 2.2.1-10 .1 5.4.1 2.7.1.9.1 4.7.1 2.3.1-8.2.1 5.3.1 0 .1-6.6.1 1.3.1-.1.1 5.1.1-8.7.1 6.4.1 1.1.1-7.2.1 7 .1-4.4.1 6.6.1.3.1.8.1-11.9.1 2.9.1-9.2.1 13.7.1 1.3.1-9.2.1 2.2.1 15.1.1-17.5.1 8 .1-7.9.1 7.6.1-2.1.1 7.1.1-1.1.1-9.4.1 15.1.1-1.9.1-3.5.1-4.2.1.7.1-1.5.1-.6.1 9.5.1.6.1-4.2.1 1.4.1-8.3.1 5.4.1 2.5.1-.5.1-5 .1 5.6.1-5.1.1 1.3.1 4.7.1-9.2.1 17 .1-1.6.1.6.1-13.1.1 13.2.1-3.5.1 1.3.1-6.6.1 10.5.1-8.9.1-5.7.1 8.2.1-1.9.1-3.7.1-.3.1 4.7.1 7.3.1-11.4.1 8 .1 1.4.1-1.8.1-2.1.1 13.1.1-13.6.1-2.9.1 2.7.1-2.2.1 7.5.1 3 .1-7.2.1-4.3.1 1.5.1-2.2.1 6.6.1-7.4.1 7.2.1-1.1.1-11.1.1 9.9.1.4.1 1.7.1-2.1.1-1.3.1 4.3.1 4.6.1-14.1.1 4.4.1 8.8.1-4.6.1 1.8.1.1.1-.6.1-.5.1 7.6.1-2.3.2-5.6.1 6 .1-5.8.1 2.4.1 7.5.1-4.9.1 0 .1-4.6.1.4.1-1.4.1-.3.1 6.4.1-.2.1.5.1 6.1.1-11 .1 9 .1-9.6.1 5.1.1-2.6.1 2.1.1-.3.1-.8.1-1.5.1-5.8.1 1.2.1 13.4.1-11.3.1 6.7.1-4.5.1-1.1.1 9.4.1 3.3.1-7.3.1-2.8.1 4.1.1-4.5.1 1 .1-4.3.1-2.9.1 2.6.1 9.9.1-13.5.1 7.4.1-11.7.1 4.4.1 4.7.1-5.4.1 15.1.1-12.9.1 5.3.1-12.8.1 9.4.1 2.8.1-5.1.1 8.9.1-7 .1 4.4.1 1.6.1-1.3.1-.5.1 2.2.1 4 .1-6.7.1 3.3.1-11.2.1 1.7.1 7.8.1-.6.1-.9.1-4.3.1 7.6.1.5.1-2.5.1-5.4.1 10.2.1-4.1.1-2.1.1 6.6.1-2.5.1 11 .1-6.9.1 4.6.1-8.2.1 13.8.1-13.6.1 2.1.1 12.4.1-10.8.1 5 .1.6.1-1.8.1-8.1.1 8.7.1.4.1 1.7.1 4 .1-1.6.1-7.4.1-1.8.1-2.5.1 4.2.1-10 .1 4.1.1 3 .1-2.9.1-3.6.1 2.7.1-1.8.1 8.9.1-.1.1-6.6.1-4.5.1 4.6.1-10.6.1 8.4.1-3 .1.1.1-4.5.1 9.6.1-9.1.1-5.6.1.8.1 4.4.1 4.8.1 7.8.1.7.1-2.2.1-8.2.1 11.6.1-9.9.1 9.1.1-5.1.1 3.4.1 2.1.1 5.1.1-11.4.1 7.4.1-1.7.1 5.7.1-6.4.1-4.8.1 5.5.1-.5.1 2.7.1-8.3.1 4.1.2.8.1.1.1 2 .1-1.7.1-2.6.1 7.9.1-.8.1-5 .1-3.1.1 9.1.1 8.3.1-6 .1-4.2.1-5.4.1 3.8.1-3.7.1-1.6.1-1.3.1 5.2.1 2.6.1-3.9.1 3 .1-.8.1 3.5.1 5.6.1-2 .1.5.1-6.2.1 6.3.1-5.2.1-.4.1 11.6.1-13.5.1-2.2.1 4.4.1 4 .1-6.9.1 4.5.1-17.6.1 8.8.1 5.9.1-6.4.1-8.7.1 6.4.1-4.3.1 3.8.1-4.9.1 1.6.1-3.2.1 8.2.1.9.1 2.5.1.3.1 6.6.1 5 .1-6.5.1-10.4.1 6.4.1 1.7.1.2.1-5.3.1-10.1.1 2.5.1 6.7.1 2.6.1 0 .1-4.7.1 9.4.1 3.5.1-11.5.1 5 .1-.7.1 2.9.1 3.2.1 1.1.1-6.5.1 2.3.1-3.2.1 2.8.1 5 .1-5.1.1 8.8.1-10.6.1 7.1.1 2.1.1 4 .1-6.3.1 8.2.1-11.4.1-.8.1-.5.1.3.1 3.1.1-13.6.1 2.2.1-8.3.1 1.9.1 5.5.1 7.8.1 5 .1-.2.1-3.4.1 1.1.1-5.9.1-4 .1 7.8.1 6.6.1-6.8.1-2.6.1 13.8.1-11 .1 1.7.1-2.6.1 8.7.1-5 .1-7.9.1 12.2.1-10.6.1 2.4.1-1.6.1-7.6.1 7.6.1-1.3.1-2.9.1-7.9.1 5.7.1 7.3.1-1.6.1-8 .1 7.1.1-1.1.1 2.3.1-5.5.1 4.7.1-.2.1 1.7.1-6.1.1 1 .1 8.2.1-6.3.1-5.6.1.7.1 8.7.1-6.1.1 10.7.1-7 .1 7.5.2-4 .1 5.8.1-13.3.1-2.2.1 3.5.1-2.9.1 1.4.1 2.6.1 3.9.1.5.1-2.8.1-4.5.1-1.9.1 12.8.1-3.1.1-3.4.1 8.3.1-1.1.1-19.1.1 4.6.1 13.4.1-6.8.1-13 .1 6.3.1-.4.1 5.8.1-11.6.1 6.4.1 9.8.1.5.1-7.3.1-.7.1-.6.1 4.7.1 2.9.1-3.5.1 2.8.1-1.3.1-7.3.1 6 .1-6.6.1 8.5.1-11.3.1 6.2.1-2.1.1 9.2.1-1.8.1 3.5.1 1.7.1 1 .1-4.4.1 3.6.1.5.1-.9.1 12.3.1-10.5.1-5.9.1-4.4.1 1.4.1 5.9.1 6.3.1-.5.1-4.8.1-4.5.1.6.1 2 .1 3.9.1-.4.1-1.6.1-4.7.1 8.9.1-2 .1 4.9.1-2.9.1-3.9.1 0 .1-3.3.1-.3.1.6.1-5.7.1 9.9.1 3.4.1-11.5.1-11 .1 7 .1 1.7.1 7.3.1-8.8.1 10.8.1-7 .1 2.4.1.3.1 6 .1-10.8.1 20.3.1-3.5.1 4.8.1-11.1.1-2.5.1 18.8.1-7.5.1-2.3.1 8.9.1-9.4.1-1.3.1 5.3.1 5.6.1-13.1.1 2 .1 2.7.1-6.2.1 13.1.1-13.9.1 3.5.1-3.3.1-11.2.1 5.8.1-.8.1 4.9.1-5 .1.4.1-1.2.1-.5.1 1.2.1 5.1.1-5.9.1-3.8.1 10.5.1-4 .1 2.6.1-.2.1 2 .1-1.6.1 0 .1-6.3.1 7.8.1-16.6.1 4.6.1 5.3.1-1.2.1 5 .1-1.7.1-4.2.1 8.5.1 5.1.1-3.5.1 3.5.1 2.4.2-6.4.1 4.7.1-6.7.1 10.4.1 6.9.1-7.7.1-5.3.1 8.1.1-2.3.1.9.1-5.3.1-5 .1-6.2.1 11.1.1 1.8.1-3.8.1 11.9.1-.9.1-9.2.1 2.6.1.6.1 2.8.1-4.1.1 4.1.1 5.1.1-7.2.1 1.9.1-7.4.1-1.9.1 1.9.1-7.1.1-8.4.1 6.5.1 1.4.1-2.5.1 14 .1-.7.1 8 .1-13.7.1 2.2.1.7.1-.3.1 1.5.1-8 .1 3.8.1 1 .1-7.3.1-1.4.1 5.4.1 1 .1 1.4.1-1.6.1-1.5.1-3.9.1 12.8.1-7.6.1-1.6.1 2.9.1 3.5.1 7 .1-14.7.1-5.9.1 17.1.1-5.7.1 2.4.1-6 .1 12.6.1-7.6.1-10.4.1 8.7.1-1.6.1 0 .1-10.7.1.3.1 3.3.1 20.7.1-16.2.1 1.5.1-3.9.1 1.9.1-1.4.1-4.5.1 1.9.1 10.3.1-15.3.1-.3.1 13.1.1-10.1.1 6.9.1-.7.1-3.6.1-2.4.1-2.4.1 4.9.1-2.6.1 3.7.1-9.5.1 9.6.1-.2.1-5.5.1 6.6.1.7.1-1.9.1 14.8.1-11.8.1-7.4.1 6.7.1-7.5.1 9.6.1-5.9.1 2.1.1 2.1.1.6.1 3.1.1 1 .1-5.9.1.8.1-4.5.1 4.4.1 4.7.1-9.4.1 5.5.1 3 .1 1.2.1-2.4.1 8.5.1-10.3.1-2.5.1 1 .1-1.1.1 1.5.1-9.3.1 7 .1-4.6.1 6.9.1-3.5.1 3.6.1 1.6.1-6.8.1-4.4.1 12.1.1-2 .1 1.6.1 1.8.1-13 .1 8.3.1-7.5.2 1.5.1 5.1.1 3.4.1-1.5.1-.4.1-1.2.1 8.9.1-2.8.1-2.2.1 4.1.1 4.5.1-12.3.1 13.1.1-20.5.1 13.9.1 1.2.1-1.6.1.2.1 2.9.1 1.6.1 2.5.1-5 .1 5 .1-9.2.1 3.7.1-3.3.1 5.5.1-6.4.1-9.4.1 17.2.1-1.2.1 1.7.1-5.7.1 6.3.1 2.8.1-1 .1-10.4.1.4.1 3.7.1-3.4.1-3 .1 11.5.1-5.3.1-5.9.1-.1.1-1.3.1 2.5.1 7.4.1-4.2.1-8.4.1 4.2.1-1.6.1-1.5.1 6.3.1-1.7.1-5.2.1-.8.1-1.1.1 10 .1-1.2.1-6.3.1-9.7.1 7.4.1-5.4.1-.3.1 11.7.1 1.2.1-5.5.1-4.2.1 9.6.1 4 .1-4.8.1-2.8.1 3.6.1-.7.1-9.6.1 4.3.1-5.8.1 7.9.1.4.1-5.4.1 1.3.1 3.2.1-2.4.1.4.1-.4.1-3.8.1-5.6.1 11.2.1-2.2.1 4.8.1-7.9.1-2.9.1-5 .1 20 .1-6.2.1-4.6.1.2.1 2.3.1 1.8.1-5.1.1 14.2.1-11.1.1.7.1 1.2.1-9.5.1 1.6.1 14.1.1-3.6.1 1.5.1 8 .1-13.2.1 3.8.1 4.4.1 2.3.1-5.5.1 8.8.1-12 .1 7.8.1 5.2.1-3.6.1-5.7.1 6.4.1-3.7.1.2.1-3.4.1-5.2.1-4.7.1 9 .1 5.1.1.8.1-3.1.1 2.6.1-16.5.1 13 .1-3 .1 3.1.1-7.7.1 7.2.1 6.1.1-9.3.1 6.4.1 5.8.1-.8.1-10.4.1-4.9.1 11.7.2-2.1.1 6.6.1-8.2.1 15.2.1-15.7.1 9.9.1-11.5.1 5.1.1 1.2.1-4.5.1-8.1.1.8.1 4.1.1-10.6.1 7.2.1-5.3.1-2.3.1 7.4.1 6.2.1-5.9.1 1.5.1-1.9.1 3.6.1-.1.1-5.7.1 5.5.1 2.4.1-6.3.1 1.2.1 4.7.1-10.8.1 9.2.1-10.8.1 10.6.1 4.5.1-1.3.1 3.3.1-3.1.1-1.9.1-2.8.1 1.7.1-.1.1-9.4.1 2.5.1-5 .1.9.1 8.5.1-7.5.1 4.3.1-4.7.1 12 .1-5 .1-5.1.1 4.4.1-3.9.1 1.5.1 7 .1-.9.1-12.3.1 10.2.1-4.8.1-3.4.1 11.7.1-4 .1-8.5.1 2.9.1 6.2.1-2.6.1 7.6.1-6.2.1-4.5.1.9.1-5.2.1 0 .1-4.6.1 1.4.1 5.8.1-13.8.1-.1.1 3.1.1.7.1-2.7.1 6.4.1 7.3.1-11.7.1 4.8.1 2.8.1-1.8.1-1.7.1 7 .1 3 .1-5.4.1 8.9.1-7.2.1-.3.1-.9.1-3.6.1 3.3.1-2.4.1 10 .1-1.9.1 2.8.1.6.1-1.1.1-4.3.1-9.5.1 4.7.1 10.8.1-.6.1-8.9.1.5.1-2.8.1-4 .1 2 .1 8.2.1-.1.1-8 .1 12.7.1 2.5.1-.5.1-7.4.1-2.2.1 4.6.1 2.6.1 4.1.1-14.3.1-1.7.1 1 .1 5.6.1-4.5.1 4.2.1 6.4.1.3.1-1.7.1-4.8.1 3.7.1 1.1.1 1.7.1-6.6.1-1.4.1 4.9.1 16.2.1-15.2.1-1.6.1 2.4.1-5 .1 1.9.1 2.7.2 7 .1-7.8.1-1.1.1-4.4.1 7.8.1-5.2.1 3 .1-.5.1-1.2.1 5.2.1-2 .1 11.4.1-11.7.1 11.6.1 1.3.1-14.6.1 4.8.1 3.4.1 6.3.1-3.8.1.2.1-8.3.1.3.1 5.5.1-1.8.1-7.5.1 1.5.1 10.7.1-8.1.1-4.7.1 2.8.1-.6.1-3.5.1 7.3.1-4.8.1-4.7.1 8.3.1 8.9.1-10.6.1 6.9.1 4.4.1 2.2.1-9.7.1-8.4.1 9.9.1-1.5.1-4.2.1-3.7.1 3.8.1 2.9.1-4.3.1-1.9.1 11.2.1-1.8.1 2.1.1-4.6.1 4.2.1-10.4.1 7.3.1 2.6.1-.6.1 3.4.1.8.1.6.1-5.2.1-.3.1-.4.1.8.1.9.1-1.1.1-1.1.1 0 .1-1.7.1-3.9.1 5.9.1-8.1.1 5.8.1-.9.1-1.8.1-1.5.1 4.8.1-1.1.1 3.2.1-3.4.1-3.7.1.7.1-2.3.1 0 .1.9.1 8.4.1-8.1.1 8.3.1-.3.1-9.4.1 7.6.1-6.2.1 10 .1-.4.1-4.5.1 7.5.1-6.6.1 1.8.1-3.6.1 2.1.1 8.5.1-1.9.1-2.7.1-3.7.1 0 .1-10.8.1 11 .1-5.1.1-.5.1-1.7.1 0 .1-4.8.1 2.2.1 1.7.1-.9.1 9.1.1-6.4.1-.9.1-.9.1 2.7.1-.7.1 4.6.1-.6.1 3.9.1-6.1.1 4.1.1 3.5.1 3.8.1-.4.1-9.2.1 5.4.1-3.6.1.7.1-.4.1 4.2.1-10.6.1 1.9.1-13 .1 8.9.1.2.1 7.2.1 3.8.1-4.9.2 3.8.1 3.5.1 1.9.1 3 .1-11.1.1 2.2.1-8 .1 6 .1 3.7.1 4.7.1 2.2.1-7 .1 9.8.1-12.3.1 1.6.1 3.4.1-2.5.1-2.2.1-1.3.1-12.1.1 11.5.1.7.1-4.1.1 1.9.1-10.2.1 7.1.1-6.1.1-2.6.1 4.7.1 1.8.1-.2.1-4.7.1-.1.1 9.8.1-5.1.1 3.3.1 1.2.1 6 .1-3.3.1-1 .1-.7.1-1 .1-2.3.1 13.8.1-9.1.1 1.5.1-3.3.1 8.6.1 11.2.1-8.9.1-.9.1 3 .1 1.3.1-3.1.1 4.2.1 5 .1-1.3.1.6.1-4.4.1 12.8.1-13.8.1-6.5.1 1.1.1 5.3.1-6.5.1 10.6.1 1.2.1-13.7.1 5.1.1-2.8.1 4.6.1-4.5.1 9.1.1 3.4.1-4.4.1-.6.1-4.2.1-6.2.1-3.4.1 8.3.1 2.3.1-.9.1-.6.1-.7.1-2.6.1-.8.1 7.8.1-4 .1-3.5.1 11.5.1-3.1.1 4.7.1-3.8.1-9.7.1 1.9.1-1 .1 3.7.1-2.3.1-4.3.1-5.9.1 2.5.1 1.7.1 4.1.1 4 .1 2.6.1.5.1-12 .1 12.5.1-5.1.1 5.7.1 8.4.1-3 .1-4 .1-.9.1 6.8.1-6.3.1-.4.1 4.5.1-11.4.1-1.2.1 2.7.1-1.8.1-2.4.1.2.1 1 .1-4.1.1.5.1 1.8.1.4.1 6.7.1-10.6.1 3.8.1 5.8.1-2.5.1 8.4.1-5.1.1 2.4.1-10.6.1 4.9.1 2.3.1-2.4.1 6.8.1-6.7.1-3.8.1-2.6.1 12.8.1-11.3.2 1.6.1-1.2.1-.6.1 1.5.1 6.8.1-4.6.1-1.4.1 12.1.1-9.1.1 4.4.1-3.9.1-.7.1-.6.1.2.1-5.3.1-2.3.1 12.3.1-15.6.1 7.8.1 4.2.1 1.6.1-3.5.1-4.4.1 10.1.1 1.8.1-4.1.1-2.7.1 1 .1 12.4.1-9.7.1 8.4.1-2 .1 1.5.1-8.5.1-9.5.1 8.9.1-1.1.1-1.9.1.8.1-1.4.1-4 .1 4.6.1-.5.1 3.1.1-1.8.1.6.1-.7.1.9.1 5.3.1-6.9.1 1.9.1-6.2.1-8.7.1 5.3.1 7.4.1.6.1 3.8.1-1.1.1-1.7.1 4.7.1-4.1.1 1.9.1.4.1 7.7.1-7.9.1 5 .1.7.1 8.2.1-9.6.1-.5.1.2.1 5.5.1 5.7.1-21.8.1 12.9.1.1.1-.2.1-1.7.1-8.8.1 8.4.1-4.5.1 5.9.1-4.3.1 4.2.1-.5.1-1.6.1 4.4.1-9.6.1 3 .1-9.3.1-2 .1 6.1.1 3.2.1-6.9.1 8.5.1-2.6.1-2 .1-2.4.1 3.6.1 8.8.1-2.5.1 3.8.1.4.1 7.7.1-7.3.1-5.7.1 5.7.1-5.2.1 1.8.1 3.6.1-9.1.1 9.9.1-3.5.1-15.6.1 14.7.1-5.2.1 1.7.1 9.4.1-7.4.1-6.9.1-.9.1 6.1.1 11.1.1-23.1.1 6.9.1-4.3.1 13.5.1-8.6.1-1.7.1-.1.1-7 .1-1.3.1 10.8.1-6.8.1 5.9.1-.3.1-1.6.1 4.2.1 3.9.1-11.7.1 9.2.1-3.1.1-1.7.1-12.2.1 11.6.1 6.4.1-.6.1-3.4.2 1.1.1-9.1.1-3.4.1 9.8.1 5.5.1-1.4.1-5.5.1-.7.1 8.4.1-15.2.1 17 .1-4.2.1.4.1.7.1-2.8.1-.7.1.8.1 2 .1-3.2.1-1.6.1 7.7.1-7.1.1 7.9.1-7.2.1 3.6.1 3 .1 1.8.1-3.5.1-.4.1 3.2.1.1.1-3.8.1-3.2.1 6.4.1-7.4.1-3.4.1-1 .1.7.1 4.9.1 1.5.1-4.5.1 3.1.1 6.5.1-1 .1 2.6.1-3.3.1-8.2.1 2.7.1 7.5.1-6.1.1-.3.1-6.7.1 4.5.1-6.9.1 5.5.1 2.5.1-2.9.1 5.9.1 4.6.1-6.6.1 6 .1-5.4.1 7.5.1-3.7.1 4.1.1-11.1.1 10.9.1-2.3.1-4.1.1 10.3.1-6.7.1 7.3.1-3 .1 3.4.1-4 .1-1.7.1-11.4.1 6.6.1-3.3.1 1.4.1 4.1.1 1.1.1-6 .1 7.2.1.6.1-6.8.1 20.2.1-16.7.1 9.7.1 8.6.1-10.1.1-4.4.1 3.3.1-10.7.1-.9.1 1.5.1 1.4.1 12.4.1 3.3.1-12.9.1 6.6.1-7.8.1 9.7.1-5.4.1 3.6.1-12.9.1 1.9.1 7.3.1-5.7.1-4.4.1 8.9.1-6.8.1 1.8.1 7.2.1-.9.1 2.5.1-3.7.1-8.6.1 12.1.1-3.8.1-6.1.1 4.8.1-3 .1 3.1.1 17.2.1-12.2.1 10.6.1 1.1.1-9.5.1 1.9.1-.1.1 7.9.1-2.6.1-7.6.1-.9.1-9.7.1 8 .1-.1.1-1.7.1 12 .1.6.1-11 .1-10.6.1 5.3.1-.8.1 11.6.1-5 .2-4.2.1-5.9.1 12.4.1-2.6.1 10.7.1-1.4.1-3.4.1-5.1.1-.2.1 1.1.1-.2.1-9.7.1 7.1.1-4.1.1 5.6.1-2.1.1-.5.1-3.9.1 4.5.1-12.4.1 2.8.1 5.4.1-2.8.1 3.6.1 2.4.1 2.2.1-7.7.1-2 .1-11.3.1 18.6.1-11.9.1-2.4.1 6.7.1-3.3.1 9.6.1-14 .1-1.8.1 5.1.1 7.2.1-1.2.1-3.7.1.2.1-1.6.1 1.5.1 4.6.1-7.8.1 7.4.1 6.9.1-11 .1 2.6.1.9.1 2.9.1 4.8.1-10.1.1 5.9.1-.9.1.9.1.5.1-3.8.1-6.8.1-2.5.1 7.4.1-3.2.1 9.3.1-6.7.1 3.8.1-4.3.1 6.5.1-10.3.1 5.9.1 1.4.1 6.8.1-14.9.1 1.2.1-8 .1 14.2.1-1.2.1-11.6.1-1.2.1 6 .1-8.2.1 5 .1 11.4.1-16.1.1 10.2.1-.6.1-.3.1-6.2.1 1.1.1 6.4.1-.9.1-4.8.1 0 .1 5.9.1.8.1-12.7.1 4.6.1 3.6.1.1.1-3.4.1-1.2.1 14.5.1-14.2.1 2.9.1-.8.1 1.6.1-1.3.1 5.3.1-2.2.1 0 .1 5 .1-4.3.1 1.1.1.3.1.4.1-6.9.1 2.6.1-3.1.1 3 .1 4.8.1-.2.1 2.3.1-1.4.1-4.2.1-2.8.1 3.6.1-3 .1 5 .1 1.4.1-7.7.1-6.5.1 9.1.1 2.1.1 5 .1-17.1.1 14.3.1-7.5.1-3.9.1-2.1.1 14 .1-8.4.1-.3.1-.3.1 13.2.1-6.9.1-.6.1 1.6.2-2 .1 10 .1 5.7.1-20.6.1 10 .1-2.5.1-2.1.1-7.3.1-6.4.1 3.4.1 10.5.1-7.4.1.8.1-3.7.1 11.9.1 2.5.1-9.5.1.1.1 4.2.1 1.8.1 4.1.1-4 .1-.1.1-6.5.1 3.3.1-3.4.1 7.8.1-2 .1 2.3.1 10.2.1-13 .1.4.1 12.7.1-5.7.1-9.9.1 4.3.1-7.4.1 10 .1-10.5.1 8.5.1 8.1.1-7.9.1-.3.1-.5.1-4.9.1 4.9.1-5.2.1 8.6.1.9.1-7 .1 9.5.1-7.8.1-9.5.1 10.7.1 7.5.1-3.1.1 1.6.1-2.2.1 2.6.1 2.5.1-5.3.1-1.9.1-12.9.1 8.8.1-.7.1.9.1 2.2.1-.1.1 4.3.1-.3.1-10 .1 6.2.1.1.1-.4.1-3.9.1 2.4.1.1.1-2 .1 5.1.1-4.6.1 6.3.1-5.6.1 11.6.1-5.9.1 1.1.1 7.8.1-13.4.1 8.4.1-5 .1-5.6.1 4.4.1-2.4.1 3.1.1 3.6.1-2.8.1 2.3.1 1.3.1 4.1.1-7.3.1 13.1.1-19.5.1 9 .1-13.5.1 11.7.1 7.6.1-8.8.1-3.1.1.1.1.8.1-1.9.1 6.9.1-.3.1-3 .1-3.3.1-.9.1-.7.1-2.7.1.5.1-1.2.1 9 .1 1.6.1 2.2.1 5.6.1-5.5.1-12.8.1 5.7.1-.4.1.4.1.3.1-3.6.1 8.1.1-2.2.1-4.6.1 1.7.1-.1.1-6.3.1.4.1 10.4.1 9.4.1-7.8.1-12.7.1 8.6.1-.9.1-1.4.1 3 .1 4.7.1 1 .1.4.2.2.1-3.2.1 3.3.1-4.6.1-.3.1-2.6.1 5.7.1 1.5.1 4.1.1-6.3.1-6.1.1-4.3.1-.1.1 10.6.1-13.4.1 2 .1 7.8.1-1.8.1-1.5.1 6.9.1-12.7.1 7.5.1-9.9.1 5.7.1 5.8.1-7 .1-2.3.1 11.7.1-7.2.1-2 .1-2.7.1-3 .1 5.6.1-9.8.1 9.2.1-8.6.1 10.5.1-.7.1-2.7.1-2 .1 1.3.1 7.4.1-1.4.1 5.6.1 2.1.1-9.1.1 6.1.1-12.5.1.2.1-3.2.1 10.6.1-7.8.1.6.1 11.7.1-10.7.1 6.5.1-5.5.1 6.4.1 6.4.1-4.1.1-11 .1-6.5.1 6 .1 1.9.1-3 .1-7.1.1 13.4.1 6.3.1-4 .1-5.2.1 7.8.1-8.6.1 6.2.1-7.8.1 3.3.1-.1.1-1.5.1 1.5.1 1.1.1-5.5.1 2.9.1-5.8.1 9.5.1-11.8.1 7.4.1 2.3.1-5.7.1-4.9.1-1.7.1 13.1.1-7 .1.6.1 7.2.1-12.5.1 5.5.1 6.7.1 4.5.1 4.5.1-12.7.1 5.3.1.3.1-5.2.1 2.6.1-12.8.1 5.4.1-2.3.1 5.2.1-1 .1-2.2.1 4.9.1-2.3.1-2.9.1 2.1.1-1.4.1 1.8.1 3 .1 1.6.1 5.9.1-6.9.1 5.7.1-7.3.1 8.2.1 1 .1-9 .1 3.8.1 1.3.1-3.1.1-2.2.1 5.2.1-.2.1-7.1.1 5.2.1 6.5.1-5.7.1-.7.1 0 .1.6.1 6.3.1-2.2.1-.5.1.6.1-.7.1-2 .1 6.8.1-6.1.1 8 .1-1.4.2-4 .1-2.8.1 2.2.1.8.1-.3.1-4.2.1-6.9.1 5.2.1.2.1-2.6.1 13 .1-3.2.1-3.1.1-3 .1 4.3.1 5.9.1-10.9.1-.3.1 7.1.1 1.5.1-.9.1-1.5.1-4 .1 4.1.1-7.8.1 7.7.1 4.3.1-2.1.1-5.4.1-4.3.1-3.1.1 6.1.1 4 .1.5.1 2.8.1-11.4.1 7.4.1-4 .1 5.6.1-8.9.1 8.9.1-3.2.1 2 .1-9.8.1 3.2.1 5.3.1 2.7.1 1.6.1-9.2.1 2.4.1 6.2.1-1.2.1-7.3.1-2.4.1 4 .1-3.4.1 3.2.1-1.9.1-4.5.1-1.7.1 7.3.1-3.3.1 8.8.1 1.8.1-12.3.1 12.6.1-2 .1-18 .1 21.1.1-2.7.1-6.3.1 6.6.1-6.1.1-1.3.1 3.4.1.1.1 8.2.1-11.2.1 0 .1 6.4.1-.2.1-5.6.1.3.1 10.8.1-9.5.1 2.4.1 3.2.1 2.5.1-9 .1-.3.1 7.2.1-1.1.1 7.7.1-6.4.1-.4.1-.6.1-5.8.1 14.7.1-3.5.1-7.7.1 5.5.1.1.1-6 .1 13.5.1-12.1.1.5.1-2.6.1-9 .1 8.8.1-1.4.1-3.6.1-1.1.1-3.1.1 10.3.1 2.3.1-8.5.1.4.1-3.9.1 3.4.1-.2.1-3.4.1-3.8.1 15.5.1 2.9.1-8.3.1 3.6.1-8.7.1 4.3.1 7.9.1 1.6.1-4.5.1.5.1-.8.1 1.9.1-3.4.1 2.3.1-6.8.1 9.2.1 11.4.1-15.5.1 9.5.1-3.9.1-3 .1 2.2.1.3.1-4.3.1 5.9.2-9.5.1 8 .1-10 .1 10.4.1-7.7.1 2.5.1-9.3.1 13.4.1-8.2.1 8.8.1-.5.1 8.7.1-13.9.1 9.3.1-7.4.1 4.1.1-.5.1-.2.1-8.7.1 13.7.1-9.7.1-.8.1-3.9.1 6.4.1-5.3.1 4.1.1 1.1.1.8.1-4.2.1-3.8.1 5 .1-3.7.1-5.7.1.3.1 9.7.1-2.5.1 10.3.1-13.5.1 4.1.1-1.4.1 7.9.1-10.8.1-1.2.1 10.3.1-11.3.1-2.4.1 6.2.1 3.1.1 4.9.1-5.2.1 5 .1-2.4.1-3.2.1 1.8.1-1 .1.8.1-.7.1-8.7.1 10.8.1 1.6.1-4.7.1 5.9.1-6.2.1-4.3.1 9.9.1 1.4.1.9.1 10.3.1-12.3.1 1.4.1 3.2.1-2.8.1 3.8.1-7.5.1 3.9.1-3.8.1 3.9.1-2.8.1-1.5.1 4.7.1-.7.1 0 .1.1.1-6.4.1-5.2.1 6 .1-4.7.1-10.1.1 8 .1 3.6.1-4.8.1 1.1.1 8.4.1-.9.1 3.1.1-3.1.1 3.5.1 3.3.1 2.1.1-4.2.1 2.1.1-14.5.1 10.5.1-1 .1 1.5.1-6.3.1 3.4.1 4.4.1.4.1 0 .1-7.8.1 2.9.1-1.6.1 1.4.1-2.4.1-8.8.1 1.6.1 2.4.1 2.1.1 5.8.1-7.7.1-5 .1 21.9.1-4.8.1 5.4.1-1.7.1-7.7.1 5.5.1 10 .1-12.4.1-5.1.1 13.8.1 2 .1-2.2.1-4.2.1-.3.1 2.2.1 4.5.1-4.9.1 3.6.1-5.4.1 3.9.1-9.9.1 7.5.1 2.8.1-6.4.1-.6.1-2.5.2.1.1-.2.1.7.1-1.2.1 1.4.1-5.4.1-1.3.1 6.6.1-1.3.1-3.4.1 5.7.1-3.3.1-3.3.1 5.1.1-10 .1 5.7.1 9.4.1 3.8.1-1.1.1-1.7.1-6.3.1-.9.1-4.3.1 9 .1-3.4.1-.7.1 4.2.1-3 .1 4.1.1 3.4.1-2.8.1.1.1 6.5.1.7.1-11 .1-.5.1-1.2.1 3.5.1-6.3.1-.7.1 2.8.1 5.9.1-15.5.1 6.6.1-11.1.1 10.3.1 5.9.1-12.2.1.7.1 3.8.1 2.9.1.2.1 1.3.1-4.5.1-3.1.1 3.9.1-1.8.1.8.1-2.6.1 1.3.1-3.8.1 7.8.1 3.8.1-4.2.1-1.2.1 7.3.1 12.9.1-19.9.1 9.9.1-1.1.1-.9.1 10.8.1-4.1.1.4.1 2.5.1-.9.1-2 .1-2.1.1-3.7.1 8.8.1 2.1.1-5.2.1-6.3.1 12 .1-7.1.1.9.1-.4.1-4.4.1 1.8.1-.2.1-3.1.1 9.3.1-4.5.1-6.9.1 9.2.1-1.4.1-9.5.1 1.7.1 4.2.1-2.7.1-2.3.1 3.8.1-.5.1 4.7.1-6.2.1-.2.1-5.7.1 10.4.1-7.2.1 2.9.1 3.6.1-11 .1 6.9.1-2.9.1 1.8.1-6.5.1 22.2.1-14.3.1 14.1.1-11.5.1-.3.1-5.7.1.6.1-.2.1 1.4.1 5.4.1-3.6.1-5.1.1 6.9.1-8.9.1-3.6.1 8.5.1-.5.1-.6.1 3.8.1-7.8.1-4.4.1 12.9.1-11 .1 4 .1 6.1.1-3.6.1 6.6.1 9.9.1-12.3.1-15.8.1 16.5.2 1.9.1-10 .1 13 .1-4.9.1-4.9.1 10.3.1-1.4.1 5.5.1-15.3.1 3.7.1-4.3.1-4.5.1 4.1.1 6.3.1-.5.1 2.9.1 7.8.1-15.6.1 8.4.1 4.4.1-3.6.1-3.9.1-5.1.1-.3.1 8.4.1-5.9.1-6.6.1 1.4.1-2.2.1 15.5.1-10.9.1-9.3.1 9.4.1.3.1 5.1.1-4.5.1 5.1.1 1.5.1-2.4.1-7 .1 14.1.1-13 .1 1.4.1 6.7.1-1.1.1.9.1-7.9.1 7 .1 3.4.1 7.4.1-3.7.1-3.5.1 4.4.1 3.5.1-9.8.1 8 .1-20.1.1 12.4.1-1.4.1 3.9.1-3.8.1-8.1.1-3.1.1 3.4.1 13.2.1-4.3.1.8.1-.5.1-1.8.1 1.9.1 4.7.1-2.6.1-2 .1 9.1" fill="none" stroke="#00ff00" stroke-width="0.9" stroke-opacity="1" stroke-linejoin="round" clip-path="url(#cC)"/>
<rect x="45.4" y="200.2" width="281.8" height="160.8" fill="none" stroke="#4a4a4a" stroke-width="1"/>
<line x1="40.9" y1="361.0" x2="45.4" y2="361.0" stroke="#4a4a4a" stroke-width="1"/>
<text x="23.4" y="364.0" font-family='"Liberation Serif", serif' font-size="9" font-weight="bold" fill="#000" textLength="14.3" lengthAdjust="spacingAndGlyphs">2.1</text>
<line x1="42.9" y1="347.6" x2="45.4" y2="347.6" stroke="#4a4a4a" stroke-width="1"/>
<line x1="40.9" y1="334.2" x2="45.4" y2="334.2" stroke="#4a4a4a" stroke-width="1"/>
<text x="19.0" y="337.2" font-family='"Liberation Serif", serif' font-size="9" font-weight="bold" fill="#000" textLength="18.7" lengthAdjust="spacingAndGlyphs">2.15</text>
<line x1="42.9" y1="320.8" x2="45.4" y2="320.8" stroke="#4a4a4a" stroke-width="1"/>
<line x1="40.9" y1="307.4" x2="45.4" y2="307.4" stroke="#4a4a4a" stroke-width="1"/>
<text x="23.4" y="310.4" font-family='"Liberation Serif", serif' font-size="9" font-weight="bold" fill="#000" textLength="14.3" lengthAdjust="spacingAndGlyphs">2.2</text>
<line x1="42.9" y1="294.1" x2="45.4" y2="294.1" stroke="#4a4a4a" stroke-width="1"/>
<line x1="40.9" y1="280.7" x2="45.4" y2="280.7" stroke="#4a4a4a" stroke-width="1"/>
<text x="19.0" y="283.7" font-family='"Liberation Serif", serif' font-size="9" font-weight="bold" fill="#000" textLength="18.7" lengthAdjust="spacingAndGlyphs">2.25</text>
<line x1="42.9" y1="267.3" x2="45.4" y2="267.3" stroke="#4a4a4a" stroke-width="1"/>
<line x1="40.9" y1="253.9" x2="45.4" y2="253.9" stroke="#4a4a4a" stroke-width="1"/>
<text x="23.4" y="256.9" font-family='"Liberation Serif", serif' font-size="9" font-weight="bold" fill="#000" textLength="14.3" lengthAdjust="spacingAndGlyphs">2.3</text>
<line x1="42.9" y1="240.5" x2="45.4" y2="240.5" stroke="#4a4a4a" stroke-width="1"/>
<line x1="40.9" y1="227.1" x2="45.4" y2="227.1" stroke="#4a4a4a" stroke-width="1"/>
<text x="19.0" y="230.1" font-family='"Liberation Serif", serif' font-size="9" font-weight="bold" fill="#000" textLength="18.7" lengthAdjust="spacingAndGlyphs">2.35</text>
<line x1="42.9" y1="213.7" x2="45.4" y2="213.7" stroke="#4a4a4a" stroke-width="1"/>
<line x1="45.4" y1="361.0" x2="45.4" y2="364.0" stroke="#4a4a4a" stroke-width="1"/>
<text x="42.8" y="376.0" font-family='"Liberation Serif", serif' font-size="9" font-weight="bold" fill="#000" textLength="5.2" lengthAdjust="spacingAndGlyphs">0</text>
<line x1="73.6" y1="361.0" x2="73.6" y2="363.0" stroke="#4a4a4a" stroke-width="1"/>
<line x1="101.8" y1="361.0" x2="101.8" y2="364.0" stroke="#4a4a4a" stroke-width="1"/>
<text x="96.6" y="376.0" font-family='"Liberation Serif", serif' font-size="9" font-weight="bold" fill="#000" textLength="10.3" lengthAdjust="spacingAndGlyphs">20</text>
<line x1="129.9" y1="361.0" x2="129.9" y2="363.0" stroke="#4a4a4a" stroke-width="1"/>
<line x1="158.1" y1="361.0" x2="158.1" y2="364.0" stroke="#4a4a4a" stroke-width="1"/>
<text x="153.0" y="376.0" font-family='"Liberation Serif", serif' font-size="9" font-weight="bold" fill="#000" textLength="10.3" lengthAdjust="spacingAndGlyphs">40</text>
<line x1="186.3" y1="361.0" x2="186.3" y2="363.0" stroke="#4a4a4a" stroke-width="1"/>
<line x1="214.5" y1="361.0" x2="214.5" y2="364.0" stroke="#4a4a4a" stroke-width="1"/>
<text x="209.3" y="376.0" font-family='"Liberation Serif", serif' font-size="9" font-weight="bold" fill="#000" textLength="10.3" lengthAdjust="spacingAndGlyphs">60</text>
<line x1="242.7" y1="361.0" x2="242.7" y2="363.0" stroke="#4a4a4a" stroke-width="1"/>
<line x1="270.8" y1="361.0" x2="270.8" y2="364.0" stroke="#4a4a4a" stroke-width="1"/>
<text x="265.7" y="376.0" font-family='"Liberation Serif", serif' font-size="9" font-weight="bold" fill="#000" textLength="10.3" lengthAdjust="spacingAndGlyphs">80</text>
<line x1="299.0" y1="361.0" x2="299.0" y2="363.0" stroke="#4a4a4a" stroke-width="1"/>
<line x1="327.2" y1="361.0" x2="327.2" y2="364.0" stroke="#4a4a4a" stroke-width="1"/>
<text x="319.5" y="376.0" font-family='"Liberation Serif", serif' font-size="9" font-weight="bold" fill="#000" textLength="15.4" lengthAdjust="spacingAndGlyphs">100</text>
<text x="166.6" y="386.1" font-family='"Liberation Serif", serif' font-size="10" font-weight="normal" fill="#000" textLength="41.3" lengthAdjust="spacingAndGlyphs">Time (ns)</text>
<text transform="translate(12.2,296.2) rotate(-90)" font-family='"Liberation Serif", serif' font-size="10.5" textLength="31.8" lengthAdjust="spacingAndGlyphs">R<tspan font-size="8.5" dy="1.6">g</tspan><tspan dy="-1.6"> (nm)</tspan></text>
<text x="64.1" y="225.3" font-family='"Liberation Serif", serif' font-size="17" font-weight="bold" fill="#000" textLength="11.0" lengthAdjust="spacingAndGlyphs">C</text>
<rect x="236.6" y="200.2" width="90.6" height="25.100000000000023" fill="#fff" stroke="#000" stroke-width="1.2"/>
<line x1="237.5" y1="204.3" x2="256.0" y2="204.3" stroke="#aaa" stroke-width="0.8"/>
<line x1="237.5" y1="213.4" x2="256.0" y2="213.4" stroke="#ff9999" stroke-width="0.8"/>
<line x1="237.5" y1="222.2" x2="256.0" y2="222.2" stroke="#88ff88" stroke-width="0.8"/>
<text x="258.9" y="206.1" font-family='"Liberation Serif", serif' font-size="6.8" font-weight="bold" fill="#000" textLength="57.8" lengthAdjust="spacingAndGlyphs">Control protein</text>
<text x="258.9" y="215.2" font-family='"Liberation Serif", serif' font-size="6.8" font-weight="bold" fill="#000" textLength="66.7" lengthAdjust="spacingAndGlyphs">phenyl carbamate</text>
<text x="258.9" y="224.1" font-family='"Liberation Serif", serif' font-size="6.8" font-weight="bold" fill="#000" textLength="35.6" lengthAdjust="spacingAndGlyphs">Co-factor</text>
<rect x="45.4" y="200.2" width="281.8" height="160.8" fill="none" stroke="#4a4a4a" stroke-width="1"/>
<g shape-rendering="crispEdges">
<rect x="382.1" y="337.4" width="276.3" height="27.6" fill="#ff0000"/>
<rect x="392.6" y="309.7" width="265.8" height="27.7" fill="#ff0000"/>
<rect x="384.0" y="282.1" width="1.0" height="27.6" fill="#ff0000" fill-opacity="0.6"/>
<rect x="385.0" y="337.4" width="1.0" height="27.6" fill="#ff7777" fill-opacity="0.6"/>
<rect x="385.0" y="309.7" width="1.0" height="27.7" fill="#ff0000" fill-opacity="1"/>
<rect x="386.0" y="309.7" width="1.0" height="27.7" fill="#ff0000" fill-opacity="0.8"/>
<rect x="388.0" y="309.7" width="1.0" height="27.7" fill="#ff0000" fill-opacity="0.5"/>
<rect x="388.0" y="282.1" width="1.0" height="27.6" fill="#ff0000" fill-opacity="1"/>
<rect x="389.0" y="337.4" width="1.0" height="27.6" fill="#800" fill-opacity="1"/>
<rect x="389.0" y="309.7" width="1.0" height="27.7" fill="#ff0000" fill-opacity="0.5"/>
<rect x="390.0" y="309.7" width="1.0" height="27.7" fill="#ff0000" fill-opacity="0.5"/>
<rect x="391.0" y="337.4" width="1.0" height="27.6" fill="#ff7777" fill-opacity="0.6"/>
<rect x="391.0" y="282.1" width="1.0" height="27.6" fill="#ff0000" fill-opacity="0.6"/>
<rect x="392.0" y="309.7" width="1.0" height="27.7" fill="#ff0000" fill-opacity="1"/>
<rect x="392.0" y="282.1" width="1.0" height="27.6" fill="#ff0000" fill-opacity="0.4"/>
<rect x="393.0" y="282.1" width="1.0" height="27.6" fill="#ff0000" fill-opacity="1"/>
<rect x="394.0" y="282.1" width="1.0" height="27.6" fill="#ff0000" fill-opacity="1"/>
<rect x="395.0" y="254.4" width="1.0" height="27.7" fill="#ff0000" fill-opacity="0.7"/>
<rect x="396.0" y="282.1" width="1.0" height="27.6" fill="#ff0000" fill-opacity="0.6"/>
<rect x="397.0" y="337.4" width="1.0" height="27.6" fill="#ff7777" fill-opacity="0.6"/>
<rect x="398.0" y="282.1" width="1.0" height="27.6" fill="#ff0000" fill-opacity="0.4"/>
<rect x="399.0" y="282.1" width="1.0" height="27.6" fill="#ff0000" fill-opacity="1"/>
<rect x="399.0" y="254.4" width="1.0" height="27.7" fill="#ff0000" fill-opacity="0.5"/>
<rect x="400.0" y="282.1" width="1.0" height="27.6" fill="#ff0000" fill-opacity="0.4"/>
<rect x="401.0" y="337.4" width="1.0" height="27.6" fill="#ff7777" fill-opacity="0.6"/>
<rect x="401.0" y="254.4" width="1.0" height="27.7" fill="#ff0000" fill-opacity="0.35"/>
<rect x="402.0" y="282.1" width="1.0" height="27.6" fill="#800" fill-opacity="0.7"/>
<rect x="405.0" y="282.1" width="1.0" height="27.6" fill="#ff0000" fill-opacity="1"/>
<rect x="406.0" y="282.1" width="1.0" height="27.6" fill="#ff0000" fill-opacity="0.25"/>
<rect x="407.0" y="337.4" width="1.0" height="27.6" fill="#a00" fill-opacity="1"/>
<rect x="407.0" y="282.1" width="1.0" height="27.6" fill="#ff0000" fill-opacity="0.25"/>
<rect x="409.0" y="282.1" width="1.0" height="27.6" fill="#ff0000" fill-opacity="1"/>
<rect x="410.0" y="282.1" width="1.0" height="27.6" fill="#ff0000" fill-opacity="0.25"/>
<rect x="412.0" y="282.1" width="1.0" height="27.6" fill="#ff0000" fill-opacity="0.6"/>
<rect x="413.0" y="309.7" width="1.0" height="27.7" fill="#ff7777" fill-opacity="0.6"/>
<rect x="414.0" y="282.1" width="1.0" height="27.6" fill="#ff0000" fill-opacity="1"/>
<rect x="415.0" y="337.4" width="1.0" height="27.6" fill="#ff7777" fill-opacity="0.6"/>
<rect x="415.0" y="282.1" width="1.0" height="27.6" fill="#ff0000" fill-opacity="0.4"/>
<rect x="417.0" y="282.1" width="1.0" height="27.6" fill="#ff0000" fill-opacity="0.8"/>
<rect x="418.0" y="254.4" width="1.0" height="27.7" fill="#ff0000" fill-opacity="1"/>
<rect x="420.0" y="282.1" width="1.0" height="27.6" fill="#ff0000" fill-opacity="1"/>
<rect x="422.0" y="282.1" width="1.0" height="27.6" fill="#ff0000" fill-opacity="0.6"/>
<rect x="423.0" y="282.1" width="1.0" height="27.6" fill="#ff0000" fill-opacity="0.6"/>
<rect x="424.0" y="282.1" width="1.0" height="27.6" fill="#ff0000" fill-opacity="0.6"/>
<rect x="425.0" y="337.4" width="1.0" height="27.6" fill="#ff7777" fill-opacity="0.6"/>
<rect x="425.0" y="282.1" width="1.0" height="27.6" fill="#ff0000" fill-opacity="0.4"/>
<rect x="425.0" y="254.4" width="1.0" height="27.7" fill="#ff0000" fill-opacity="0.7"/>
<rect x="426.0" y="282.1" width="1.0" height="27.6" fill="#ff0000" fill-opacity="1"/>
<rect x="427.0" y="282.1" width="1.0" height="27.6" fill="#a00" fill-opacity="1"/>
<rect x="428.0" y="309.7" width="1.0" height="27.7" fill="#a00" fill-opacity="0.7"/>
<rect x="430.0" y="337.4" width="1.0" height="27.6" fill="#c00" fill-opacity="0.5"/>
<rect x="432.0" y="254.4" width="1.0" height="27.7" fill="#ff0000" fill-opacity="0.7"/>
<rect x="433.0" y="282.1" width="1.0" height="27.6" fill="#ff0000" fill-opacity="1"/>
<rect x="434.0" y="337.4" width="1.0" height="27.6" fill="#800" fill-opacity="0.5"/>
<rect x="434.0" y="254.4" width="1.0" height="27.7" fill="#ff0000" fill-opacity="0.5"/>
<rect x="435.0" y="282.1" width="1.0" height="27.6" fill="#ff0000" fill-opacity="0.4"/>
<rect x="436.0" y="337.4" width="1.0" height="27.6" fill="#500" fill-opacity="1"/>
<rect x="436.0" y="282.1" width="1.0" height="27.6" fill="#ff0000" fill-opacity="0.4"/>
<rect x="436.0" y="254.4" width="1.0" height="27.7" fill="#ff0000" fill-opacity="0.35"/>
<rect x="437.0" y="337.4" width="1.0" height="27.6" fill="#c00" fill-opacity="0.7"/>
<rect x="437.0" y="282.1" width="1.0" height="27.6" fill="#ff0000" fill-opacity="0.25"/>
<rect x="438.0" y="337.4" width="1.0" height="27.6" fill="#c00" fill-opacity="0.7"/>
<rect x="438.0" y="282.1" width="1.0" height="27.6" fill="#ff0000" fill-opacity="0.4"/>
<rect x="439.0" y="337.4" width="1.0" height="27.6" fill="#c00" fill-opacity="0.5"/>
<rect x="440.0" y="282.1" width="1.0" height="27.6" fill="#ff0000" fill-opacity="0.4"/>
<rect x="441.0" y="282.1" width="1.0" height="27.6" fill="#ff0000" fill-opacity="1"/>
<rect x="442.0" y="337.4" width="1.0" height="27.6" fill="#ff7777" fill-opacity="0.6"/>
<rect x="442.0" y="282.1" width="1.0" height="27.6" fill="#ff0000" fill-opacity="0.6"/>
<rect x="444.0" y="282.1" width="1.0" height="27.6" fill="#ff0000" fill-opacity="0.6"/>
<rect x="444.0" y="254.4" width="1.0" height="27.7" fill="#ff0000" fill-opacity="0.5"/>
<rect x="446.0" y="309.7" width="1.0" height="27.7" fill="#ff7777" fill-opacity="0.6"/>
<rect x="446.0" y="254.4" width="1.0" height="27.7" fill="#ff0000" fill-opacity="0.7"/>
<rect x="447.0" y="282.1" width="1.0" height="27.6" fill="#ff0000" fill-opacity="0.8"/>
<rect x="448.0" y="282.1" width="1.0" height="27.6" fill="#800" fill-opacity="0.5"/>
<rect x="448.0" y="254.4" width="1.0" height="27.7" fill="#ff0000" fill-opacity="0.35"/>
<rect x="449.0" y="282.1" width="1.0" height="27.6" fill="#ff0000" fill-opacity="1"/>
<rect x="451.0" y="309.7" width="1.0" height="27.7" fill="#300" fill-opacity="0.7"/>
<rect x="451.0" y="282.1" width="1.0" height="27.6" fill="#ff0000" fill-opacity="1"/>
<rect x="452.0" y="282.1" width="1.0" height="27.6" fill="#ff0000" fill-opacity="0.8"/>
<rect x="453.0" y="282.1" width="1.0" height="27.6" fill="#ff0000" fill-opacity="0.4"/>
<rect x="454.0" y="282.1" width="1.0" height="27.6" fill="#ff0000" fill-opacity="1"/>
<rect x="455.0" y="282.1" width="1.0" height="27.6" fill="#ff0000" fill-opacity="1"/>
<rect x="456.0" y="309.7" width="1.0" height="27.7" fill="#800" fill-opacity="0.5"/>
<rect x="456.0" y="282.1" width="1.0" height="27.6" fill="#ff0000" fill-opacity="0.6"/>
<rect x="457.0" y="282.1" width="1.0" height="27.6" fill="#ff0000" fill-opacity="0.4"/>
<rect x="461.0" y="337.4" width="1.0" height="27.6" fill="#a00" fill-opacity="1"/>
<rect x="462.0" y="309.7" width="1.0" height="27.7" fill="#a00" fill-opacity="0.7"/>
<rect x="466.0" y="309.7" width="1.0" height="27.7" fill="#c00" fill-opacity="0.7"/>
<rect x="467.0" y="309.7" width="1.0" height="27.7" fill="#c00" fill-opacity="1"/>
<rect x="468.0" y="309.7" width="1.0" height="27.7" fill="#a00" fill-opacity="1"/>
<rect x="468.0" y="282.1" width="1.0" height="27.6" fill="#ff0000" fill-opacity="1"/>
<rect x="473.0" y="337.4" width="1.0" height="27.6" fill="#800" fill-opacity="0.5"/>
<rect x="473.0" y="282.1" width="1.0" height="27.6" fill="#ff0000" fill-opacity="0.8"/>
<rect x="475.0" y="337.4" width="1.0" height="27.6" fill="#c00" fill-opacity="1"/>
<rect x="477.0" y="282.1" width="1.0" height="27.6" fill="#ff0000" fill-opacity="0.8"/>
<rect x="478.0" y="337.4" width="1.0" height="27.6" fill="#800" fill-opacity="0.7"/>
<rect x="478.0" y="282.1" width="1.0" height="27.6" fill="#ff0000" fill-opacity="0.4"/>
<rect x="479.0" y="337.4" width="1.0" height="27.6" fill="#ff7777" fill-opacity="0.6"/>
<rect x="479.0" y="282.1" width="1.0" height="27.6" fill="#ff0000" fill-opacity="0.6"/>
<rect x="480.0" y="282.1" width="1.0" height="27.6" fill="#ff0000" fill-opacity="0.4"/>
<rect x="480.0" y="254.4" width="1.0" height="27.7" fill="#ff0000" fill-opacity="0.2"/>
<rect x="481.0" y="309.7" width="1.0" height="27.7" fill="#ff7777" fill-opacity="0.6"/>
<rect x="481.0" y="282.1" width="1.0" height="27.6" fill="#ff0000" fill-opacity="1"/>
<rect x="481.0" y="254.4" width="1.0" height="27.7" fill="#ff0000" fill-opacity="0.2"/>
<rect x="482.0" y="282.1" width="1.0" height="27.6" fill="#ff0000" fill-opacity="1"/>
<rect x="483.0" y="337.4" width="1.0" height="27.6" fill="#c00" fill-opacity="1"/>
<rect x="483.0" y="282.1" width="1.0" height="27.6" fill="#ff0000" fill-opacity="0.8"/>
<rect x="484.0" y="282.1" width="1.0" height="27.6" fill="#ff0000" fill-opacity="0.25"/>
<rect x="485.0" y="309.7" width="1.0" height="27.7" fill="#ff7777" fill-opacity="0.6"/>
<rect x="485.0" y="282.1" width="1.0" height="27.6" fill="#ff0000" fill-opacity="1"/>
<rect x="486.0" y="282.1" width="1.0" height="27.6" fill="#ff0000" fill-opacity="0.25"/>
<rect x="487.0" y="337.4" width="1.0" height="27.6" fill="#a00" fill-opacity="0.7"/>
<rect x="487.0" y="282.1" width="1.0" height="27.6" fill="#ff0000" fill-opacity="1"/>
<rect x="487.0" y="254.4" width="1.0" height="27.7" fill="#ff0000" fill-opacity="0.2"/>
<rect x="488.0" y="282.1" width="1.0" height="27.6" fill="#ff0000" fill-opacity="0.25"/>
<rect x="489.0" y="337.4" width="1.0" height="27.6" fill="#c00" fill-opacity="0.5"/>
<rect x="489.0" y="282.1" width="1.0" height="27.6" fill="#ff0000" fill-opacity="0.6"/>
<rect x="489.0" y="254.4" width="1.0" height="27.7" fill="#ff0000" fill-opacity="0.35"/>
<rect x="490.0" y="337.4" width="1.0" height="27.6" fill="#800" fill-opacity="1"/>
<rect x="490.0" y="282.1" width="1.0" height="27.6" fill="#ff0000" fill-opacity="1"/>
<rect x="491.0" y="337.4" width="1.0" height="27.6" fill="#800" fill-opacity="0.5"/>
<rect x="491.0" y="282.1" width="1.0" height="27.6" fill="#ff0000" fill-opacity="0.8"/>
<rect x="492.0" y="337.4" width="1.0" height="27.6" fill="#300" fill-opacity="0.7"/>
<rect x="492.0" y="282.1" width="1.0" height="27.6" fill="#ff0000" fill-opacity="0.4"/>
<rect x="493.0" y="337.4" width="1.0" height="27.6" fill="#300" fill-opacity="0.5"/>
<rect x="494.0" y="282.1" width="1.0" height="27.6" fill="#ff0000" fill-opacity="1"/>
<rect x="494.0" y="254.4" width="1.0" height="27.7" fill="#ff0000" fill-opacity="0.5"/>
<rect x="495.0" y="254.4" width="1.0" height="27.7" fill="#ff0000" fill-opacity="0.2"/>
<rect x="496.0" y="337.4" width="1.0" height="27.6" fill="#a00" fill-opacity="1"/>
<rect x="496.0" y="282.1" width="1.0" height="27.6" fill="#ff0000" fill-opacity="1"/>
<rect x="496.0" y="226.8" width="1.0" height="27.7" fill="#ff0000" fill-opacity="0.5"/>
<rect x="497.0" y="337.4" width="1.0" height="27.6" fill="#300" fill-opacity="0.7"/>
<rect x="497.0" y="282.1" width="1.0" height="27.6" fill="#500" fill-opacity="0.7"/>
<rect x="497.0" y="254.4" width="1.0" height="27.7" fill="#ff0000" fill-opacity="0.7"/>
<rect x="498.0" y="282.1" width="1.0" height="27.6" fill="#800" fill-opacity="0.7"/>
<rect x="498.0" y="254.4" width="1.0" height="27.7" fill="#ff0000" fill-opacity="0.35"/>
<rect x="499.0" y="337.4" width="1.0" height="27.6" fill="#a00" fill-opacity="0.5"/>
<rect x="499.0" y="254.4" width="1.0" height="27.7" fill="#ff0000" fill-opacity="0.7"/>
<rect x="500.0" y="282.1" width="1.0" height="27.6" fill="#ff0000" fill-opacity="0.6"/>
<rect x="501.0" y="282.1" width="1.0" height="27.6" fill="#ff0000" fill-opacity="0.4"/>
<rect x="501.0" y="254.4" width="1.0" height="27.7" fill="#ff0000" fill-opacity="0.35"/>
<rect x="502.0" y="337.4" width="1.0" height="27.6" fill="#500" fill-opacity="0.7"/>
<rect x="502.0" y="282.1" width="1.0" height="27.6" fill="#ff0000" fill-opacity="0.8"/>
<rect x="503.0" y="337.4" width="1.0" height="27.6" fill="#c00" fill-opacity="1"/>
<rect x="503.0" y="282.1" width="1.0" height="27.6" fill="#ff0000" fill-opacity="0.4"/>
<rect x="504.0" y="282.1" width="1.0" height="27.6" fill="#ff0000" fill-opacity="0.8"/>
<rect x="505.0" y="282.1" width="1.0" height="27.6" fill="#ff0000" fill-opacity="1"/>
<rect x="505.0" y="254.4" width="1.0" height="27.7" fill="#ff0000" fill-opacity="0.35"/>
<rect x="505.0" y="226.8" width="1.0" height="27.7" fill="#ff0000" fill-opacity="0.5"/>
<rect x="506.0" y="337.4" width="1.0" height="27.6" fill="#800" fill-opacity="1"/>
<rect x="506.0" y="282.1" width="1.0" height="27.6" fill="#ff0000" fill-opacity="0.25"/>
<rect x="506.0" y="226.8" width="1.0" height="27.7" fill="#a00" fill-opacity="0.7"/>
<rect x="507.0" y="337.4" width="1.0" height="27.6" fill="#800" fill-opacity="0.7"/>
<rect x="507.0" y="282.1" width="1.0" height="27.6" fill="#ff0000" fill-opacity="1"/>
<rect x="507.0" y="254.4" width="1.0" height="27.7" fill="#ff0000" fill-opacity="0.5"/>
<rect x="508.0" y="337.4" width="1.0" height="27.6" fill="#300" fill-opacity="1"/>
<rect x="509.0" y="337.4" width="1.0" height="27.6" fill="#a00" fill-opacity="0.7"/>
<rect x="509.0" y="282.1" width="1.0" height="27.6" fill="#ff0000" fill-opacity="0.6"/>
<rect x="509.0" y="254.4" width="1.0" height="27.7" fill="#ff0000" fill-opacity="0.5"/>
<rect x="510.0" y="282.1" width="1.0" height="27.6" fill="#ff0000" fill-opacity="0.25"/>
<rect x="511.0" y="282.1" width="1.0" height="27.6" fill="#ff0000" fill-opacity="0.25"/>
<rect x="511.0" y="254.4" width="1.0" height="27.7" fill="#ff0000" fill-opacity="0.35"/>
<rect x="512.0" y="337.4" width="1.0" height="27.6" fill="#500" fill-opacity="1"/>
<rect x="512.0" y="282.1" width="1.0" height="27.6" fill="#ff0000" fill-opacity="1"/>
<rect x="512.0" y="254.4" width="1.0" height="27.7" fill="#ff0000" fill-opacity="0.7"/>
<rect x="513.0" y="337.4" width="1.0" height="27.6" fill="#300" fill-opacity="1"/>
<rect x="513.0" y="254.4" width="1.0" height="27.7" fill="#ff0000" fill-opacity="0.2"/>
<rect x="514.0" y="282.1" width="1.0" height="27.6" fill="#ff0000" fill-opacity="0.25"/>
<rect x="514.0" y="254.4" width="1.0" height="27.7" fill="#a00" fill-opacity="0.5"/>
<rect x="515.0" y="282.1" width="1.0" height="27.6" fill="#ff0000" fill-opacity="1"/>
<rect x="516.0" y="282.1" width="1.0" height="27.6" fill="#ff0000" fill-opacity="1"/>
<rect x="517.0" y="337.4" width="1.0" height="27.6" fill="#800" fill-opacity="0.5"/>
<rect x="517.0" y="309.7" width="1.0" height="27.7" fill="#ff7777" fill-opacity="0.6"/>
<rect x="517.0" y="282.1" width="1.0" height="27.6" fill="#ff0000" fill-opacity="0.8"/>
<rect x="517.0" y="254.4" width="1.0" height="27.7" fill="#444" fill-opacity="0.7"/>
<rect x="518.0" y="282.1" width="1.0" height="27.6" fill="#ff0000" fill-opacity="0.4"/>
<rect x="519.0" y="337.4" width="1.0" height="27.6" fill="#a00" fill-opacity="0.7"/>
<rect x="519.0" y="282.1" width="1.0" height="27.6" fill="#ff0000" fill-opacity="0.8"/>
<rect x="520.0" y="282.1" width="1.0" height="27.6" fill="#ff0000" fill-opacity="0.4"/>
<rect x="520.0" y="226.8" width="1.0" height="27.7" fill="#ff0000" fill-opacity="0.5"/>
<rect x="521.0" y="282.1" width="1.0" height="27.6" fill="#ff0000" fill-opacity="1"/>
<rect x="521.0" y="254.4" width="1.0" height="27.7" fill="#ff0000" fill-opacity="1"/>
<rect x="521.0" y="226.8" width="1.0" height="27.7" fill="#ff0000" fill-opacity="0.2"/>
<rect x="522.0" y="337.4" width="1.0" height="27.6" fill="#c00" fill-opacity="0.5"/>
<rect x="522.0" y="282.1" width="1.0" height="27.6" fill="#888" fill-opacity="1"/>
<rect x="522.0" y="254.4" width="1.0" height="27.7" fill="#ff0000" fill-opacity="0.7"/>
<rect x="523.0" y="337.4" width="1.0" height="27.6" fill="#800" fill-opacity="0.7"/>
<rect x="523.0" y="282.1" width="1.0" height="27.6" fill="#ff0000" fill-opacity="1"/>
<rect x="523.0" y="254.4" width="1.0" height="27.7" fill="#ff0000" fill-opacity="1"/>
<rect x="524.0" y="282.1" width="1.0" height="27.6" fill="#ff0000" fill-opacity="1"/>
<rect x="524.0" y="254.4" width="1.0" height="27.7" fill="#ff0000" fill-opacity="0.7"/>
<rect x="525.0" y="337.4" width="1.0" height="27.6" fill="#300" fill-opacity="1"/>
<rect x="525.0" y="282.1" width="1.0" height="27.6" fill="#ff0000" fill-opacity="0.6"/>
<rect x="525.0" y="254.4" width="1.0" height="27.7" fill="#ff0000" fill-opacity="0.7"/>
<rect x="526.0" y="337.4" width="1.0" height="27.6" fill="#c00" fill-opacity="0.7"/>
<rect x="526.0" y="282.1" width="1.0" height="27.6" fill="#ff0000" fill-opacity="1"/>
<rect x="527.0" y="282.1" width="1.0" height="27.6" fill="#a00" fill-opacity="1"/>
<rect x="528.0" y="337.4" width="1.0" height="27.6" fill="#ff7777" fill-opacity="0.6"/>
<rect x="528.0" y="282.1" width="1.0" height="27.6" fill="#ff0000" fill-opacity="0.8"/>
<rect x="528.0" y="254.4" width="1.0" height="27.7" fill="#ff0000" fill-opacity="1"/>
<rect x="529.0" y="282.1" width="1.0" height="27.6" fill="#ff0000" fill-opacity="0.6"/>
<rect x="529.0" y="254.4" width="1.0" height="27.7" fill="#ff0000" fill-opacity="0.7"/>
<rect x="530.0" y="282.1" width="1.0" height="27.6" fill="#ff0000" fill-opacity="0.4"/>
<rect x="531.0" y="337.4" width="1.0" height="27.6" fill="#a00" fill-opacity="1"/>
<rect x="531.0" y="282.1" width="1.0" height="27.6" fill="#ff0000" fill-opacity="1"/>
<rect x="532.0" y="337.4" width="1.0" height="27.6" fill="#a00" fill-opacity="0.5"/>
<rect x="532.0" y="282.1" width="1.0" height="27.6" fill="#ff0000" fill-opacity="0.25"/>
<rect x="532.0" y="254.4" width="1.0" height="27.7" fill="#ff0000" fill-opacity="0.5"/>
<rect x="533.0" y="282.1" width="1.0" height="27.6" fill="#ff0000" fill-opacity="0.8"/>
<rect x="533.0" y="254.4" width="1.0" height="27.7" fill="#ff0000" fill-opacity="0.7"/>
<rect x="534.0" y="337.4" width="1.0" height="27.6" fill="#c00" fill-opacity="1"/>
<rect x="534.0" y="282.1" width="1.0" height="27.6" fill="#ff0000" fill-opacity="0.6"/>
<rect x="535.0" y="337.4" width="1.0" height="27.6" fill="#300" fill-opacity="0.7"/>
<rect x="535.0" y="309.7" width="1.0" height="27.7" fill="#ff7777" fill-opacity="0.6"/>
<rect x="535.0" y="282.1" width="1.0" height="27.6" fill="#ff0000" fill-opacity="1"/>
<rect x="536.0" y="337.4" width="1.0" height="27.6" fill="#300" fill-opacity="0.7"/>
<rect x="536.0" y="282.1" width="1.0" height="27.6" fill="#a00" fill-opacity="0.7"/>
<rect x="537.0" y="337.4" width="1.0" height="27.6" fill="#800" fill-opacity="0.5"/>
<rect x="537.0" y="254.4" width="1.0" height="27.7" fill="#ff0000" fill-opacity="0.7"/>
<rect x="538.0" y="282.1" width="1.0" height="27.6" fill="#ff0000" fill-opacity="0.6"/>
<rect x="538.0" y="254.4" width="1.0" height="27.7" fill="#ff0000" fill-opacity="1"/>
<rect x="539.0" y="282.1" width="1.0" height="27.6" fill="#ff0000" fill-opacity="0.8"/>
<rect x="539.0" y="254.4" width="1.0" height="27.7" fill="#ff0000" fill-opacity="0.7"/>
<rect x="540.0" y="309.7" width="1.0" height="27.7" fill="#300" fill-opacity="0.7"/>
<rect x="540.0" y="282.1" width="1.0" height="27.6" fill="#ff0000" fill-opacity="1"/>
<rect x="541.0" y="282.1" width="1.0" height="27.6" fill="#ff0000" fill-opacity="0.25"/>
<rect x="541.0" y="254.4" width="1.0" height="27.7" fill="#ff0000" fill-opacity="0.7"/>
<rect x="542.0" y="282.1" width="1.0" height="27.6" fill="#ff0000" fill-opacity="0.8"/>
<rect x="542.0" y="254.4" width="1.0" height="27.7" fill="#ff0000" fill-opacity="0.35"/>
<rect x="543.0" y="337.4" width="1.0" height="27.6" fill="#a00" fill-opacity="0.5"/>
<rect x="543.0" y="282.1" width="1.0" height="27.6" fill="#500" fill-opacity="1"/>
<rect x="544.0" y="309.7" width="1.0" height="27.7" fill="#ff7777" fill-opacity="0.6"/>
<rect x="544.0" y="282.1" width="1.0" height="27.6" fill="#ff0000" fill-opacity="0.6"/>
<rect x="544.0" y="254.4" width="1.0" height="27.7" fill="#ff0000" fill-opacity="0.2"/>
<rect x="545.0" y="282.1" width="1.0" height="27.6" fill="#ff0000" fill-opacity="1"/>
<rect x="546.0" y="282.1" width="1.0" height="27.6" fill="#ff0000" fill-opacity="1"/>
<rect x="546.0" y="254.4" width="1.0" height="27.7" fill="#ff0000" fill-opacity="0.5"/>
<rect x="547.0" y="337.4" width="1.0" height="27.6" fill="#500" fill-opacity="0.7"/>
<rect x="547.0" y="254.4" width="1.0" height="27.7" fill="#ff0000" fill-opacity="0.35"/>
<rect x="548.0" y="282.1" width="1.0" height="27.6" fill="#ff0000" fill-opacity="1"/>
<rect x="548.0" y="254.4" width="1.0" height="27.7" fill="#ff0000" fill-opacity="0.2"/>
<rect x="549.0" y="337.4" width="1.0" height="27.6" fill="#a00" fill-opacity="1"/>
<rect x="549.0" y="282.1" width="1.0" height="27.6" fill="#444" fill-opacity="0.5"/>
<rect x="549.0" y="254.4" width="1.0" height="27.7" fill="#ff0000" fill-opacity="0.2"/>
<rect x="550.0" y="337.4" width="1.0" height="27.6" fill="#300" fill-opacity="0.7"/>
<rect x="550.0" y="282.1" width="1.0" height="27.6" fill="#ff0000" fill-opacity="0.6"/>
<rect x="550.0" y="254.4" width="1.0" height="27.7" fill="#ff0000" fill-opacity="0.5"/>
<rect x="551.0" y="282.1" width="1.0" height="27.6" fill="#ff0000" fill-opacity="0.6"/>
<rect x="551.0" y="254.4" width="1.0" height="27.7" fill="#ff0000" fill-opacity="0.35"/>
<rect x="552.0" y="309.7" width="1.0" height="27.7" fill="#ff7777" fill-opacity="0.6"/>
<rect x="552.0" y="282.1" width="1.0" height="27.6" fill="#ff0000" fill-opacity="1"/>
<rect x="552.0" y="254.4" width="1.0" height="27.7" fill="#ff0000" fill-opacity="0.7"/>
<rect x="553.0" y="337.4" width="1.0" height="27.6" fill="#500" fill-opacity="0.7"/>
<rect x="553.0" y="282.1" width="1.0" height="27.6" fill="#ff0000" fill-opacity="0.4"/>
<rect x="554.0" y="337.4" width="1.0" height="27.6" fill="#a00" fill-opacity="1"/>
<rect x="554.0" y="282.1" width="1.0" height="27.6" fill="#ff0000" fill-opacity="1"/>
<rect x="555.0" y="309.7" width="1.0" height="27.7" fill="#ff7777" fill-opacity="0.6"/>
<rect x="555.0" y="282.1" width="1.0" height="27.6" fill="#444" fill-opacity="1"/>
<rect x="555.0" y="226.8" width="1.0" height="27.7" fill="#ff0000" fill-opacity="0.2"/>
<rect x="556.0" y="337.4" width="1.0" height="27.6" fill="#800" fill-opacity="0.5"/>
<rect x="556.0" y="282.1" width="1.0" height="27.6" fill="#ff0000" fill-opacity="1"/>
<rect x="557.0" y="282.1" width="1.0" height="27.6" fill="#ff0000" fill-opacity="0.8"/>
<rect x="557.0" y="254.4" width="1.0" height="27.7" fill="#ff0000" fill-opacity="0.5"/>
<rect x="558.0" y="337.4" width="1.0" height="27.6" fill="#c00" fill-opacity="0.7"/>
<rect x="558.0" y="282.1" width="1.0" height="27.6" fill="#ff0000" fill-opacity="0.8"/>
<rect x="558.0" y="254.4" width="1.0" height="27.7" fill="#ff0000" fill-opacity="0.7"/>
<rect x="558.0" y="226.8" width="1.0" height="27.7" fill="#ff0000" fill-opacity="0.5"/>
<rect x="559.0" y="282.1" width="1.0" height="27.6" fill="#ff0000" fill-opacity="1"/>
<rect x="559.0" y="254.4" width="1.0" height="27.7" fill="#500" fill-opacity="0.7"/>
<rect x="560.0" y="282.1" width="1.0" height="27.6" fill="#ff0000" fill-opacity="0.4"/>
<rect x="561.0" y="282.1" width="1.0" height="27.6" fill="#ff0000" fill-opacity="0.25"/>
<rect x="561.0" y="254.4" width="1.0" height="27.7" fill="#ff0000" fill-opacity="0.7"/>
<rect x="562.0" y="337.4" width="1.0" height="27.6" fill="#ff7777" fill-opacity="0.6"/>
<rect x="562.0" y="282.1" width="1.0" height="27.6" fill="#888" fill-opacity="0.5"/>
<rect x="562.0" y="254.4" width="1.0" height="27.7" fill="#ff0000" fill-opacity="0.35"/>
<rect x="563.0" y="282.1" width="1.0" height="27.6" fill="#ff0000" fill-opacity="0.6"/>
<rect x="564.0" y="337.4" width="1.0" height="27.6" fill="#300" fill-opacity="0.5"/>
<rect x="564.0" y="282.1" width="1.0" height="27.6" fill="#ff0000" fill-opacity="0.8"/>
<rect x="564.0" y="254.4" width="1.0" height="27.7" fill="#ff0000" fill-opacity="0.5"/>
<rect x="565.0" y="282.1" width="1.0" height="27.6" fill="#ff0000" fill-opacity="0.6"/>
<rect x="565.0" y="254.4" width="1.0" height="27.7" fill="#ff0000" fill-opacity="0.35"/>
<rect x="566.0" y="337.4" width="1.0" height="27.6" fill="#800" fill-opacity="1"/>
<rect x="566.0" y="254.4" width="1.0" height="27.7" fill="#ff0000" fill-opacity="0.5"/>
<rect x="567.0" y="282.1" width="1.0" height="27.6" fill="#ff0000" fill-opacity="0.25"/>
<rect x="567.0" y="254.4" width="1.0" height="27.7" fill="#ff0000" fill-opacity="0.35"/>
<rect x="568.0" y="282.1" width="1.0" height="27.6" fill="#ff0000" fill-opacity="1"/>
<rect x="569.0" y="337.4" width="1.0" height="27.6" fill="#500" fill-opacity="0.7"/>
<rect x="569.0" y="282.1" width="1.0" height="27.6" fill="#ff0000" fill-opacity="1"/>
<rect x="569.0" y="254.4" width="1.0" height="27.7" fill="#ff0000" fill-opacity="1"/>
<rect x="570.0" y="282.1" width="1.0" height="27.6" fill="#ff0000" fill-opacity="0.25"/>
<rect x="571.0" y="282.1" width="1.0" height="27.6" fill="#ff0000" fill-opacity="0.25"/>
<rect x="571.0" y="254.4" width="1.0" height="27.7" fill="#ff0000" fill-opacity="0.7"/>
<rect x="572.0" y="337.4" width="1.0" height="27.6" fill="#300" fill-opacity="0.7"/>
<rect x="572.0" y="282.1" width="1.0" height="27.6" fill="#ff0000" fill-opacity="0.4"/>
<rect x="572.0" y="254.4" width="1.0" height="27.7" fill="#ff0000" fill-opacity="1"/>
<rect x="573.0" y="282.1" width="1.0" height="27.6" fill="#ff0000" fill-opacity="0.6"/>
<rect x="573.0" y="254.4" width="1.0" height="27.7" fill="#ff0000" fill-opacity="0.5"/>
<rect x="574.0" y="282.1" width="1.0" height="27.6" fill="#ff0000" fill-opacity="0.8"/>
<rect x="574.0" y="254.4" width="1.0" height="27.7" fill="#ff0000" fill-opacity="1"/>
<rect x="575.0" y="282.1" width="1.0" height="27.6" fill="#ff0000" fill-opacity="1"/>
<rect x="575.0" y="254.4" width="1.0" height="27.7" fill="#ff0000" fill-opacity="0.2"/>
<rect x="576.0" y="282.1" width="1.0" height="27.6" fill="#ff0000" fill-opacity="1"/>
<rect x="576.0" y="254.4" width="1.0" height="27.7" fill="#ff0000" fill-opacity="0.35"/>
<rect x="577.0" y="337.4" width="1.0" height="27.6" fill="#300" fill-opacity="1"/>
<rect x="577.0" y="282.1" width="1.0" height="27.6" fill="#ff0000" fill-opacity="0.8"/>
<rect x="577.0" y="254.4" width="1.0" height="27.7" fill="#888" fill-opacity="0.5"/>
<rect x="578.0" y="282.1" width="1.0" height="27.6" fill="#800" fill-opacity="0.7"/>
<rect x="578.0" y="254.4" width="1.0" height="27.7" fill="#ff0000" fill-opacity="0.2"/>
<rect x="578.0" y="226.8" width="1.0" height="27.7" fill="#ff0000" fill-opacity="1"/>
<rect x="579.0" y="282.1" width="1.0" height="27.6" fill="#ff0000" fill-opacity="1"/>
<rect x="580.0" y="282.1" width="1.0" height="27.6" fill="#ff0000" fill-opacity="0.4"/>
<rect x="580.0" y="254.4" width="1.0" height="27.7" fill="#ff0000" fill-opacity="1"/>
<rect x="580.0" y="226.8" width="1.0" height="27.7" fill="#ff0000" fill-opacity="0.2"/>
<rect x="581.0" y="282.1" width="1.0" height="27.6" fill="#ff0000" fill-opacity="0.6"/>
<rect x="581.0" y="254.4" width="1.0" height="27.7" fill="#a00" fill-opacity="1"/>
<rect x="582.0" y="337.4" width="1.0" height="27.6" fill="#300" fill-opacity="0.5"/>
<rect x="582.0" y="282.1" width="1.0" height="27.6" fill="#ff0000" fill-opacity="0.4"/>
<rect x="582.0" y="254.4" width="1.0" height="27.7" fill="#ff0000" fill-opacity="0.7"/>
<rect x="583.0" y="282.1" width="1.0" height="27.6" fill="#ff0000" fill-opacity="1"/>
<rect x="583.0" y="254.4" width="1.0" height="27.7" fill="#ff0000" fill-opacity="1"/>
<rect x="584.0" y="254.4" width="1.0" height="27.7" fill="#ff0000" fill-opacity="0.2"/>
<rect x="585.0" y="282.1" width="1.0" height="27.6" fill="#ff0000" fill-opacity="0.25"/>
<rect x="586.0" y="337.4" width="1.0" height="27.6" fill="#ff7777" fill-opacity="0.6"/>
<rect x="586.0" y="254.4" width="1.0" height="27.7" fill="#ff0000" fill-opacity="1"/>
<rect x="587.0" y="337.4" width="1.0" height="27.6" fill="#800" fill-opacity="0.7"/>
<rect x="587.0" y="282.1" width="1.0" height="27.6" fill="#ff0000" fill-opacity="1"/>
<rect x="588.0" y="282.1" width="1.0" height="27.6" fill="#ff0000" fill-opacity="0.25"/>
<rect x="588.0" y="254.4" width="1.0" height="27.7" fill="#ff0000" fill-opacity="1"/>
<rect x="589.0" y="282.1" width="1.0" height="27.6" fill="#ff0000" fill-opacity="1"/>
<rect x="589.0" y="254.4" width="1.0" height="27.7" fill="#ff0000" fill-opacity="0.5"/>
<rect x="590.0" y="337.4" width="1.0" height="27.6" fill="#500" fill-opacity="0.5"/>
<rect x="590.0" y="282.1" width="1.0" height="27.6" fill="#ff0000" fill-opacity="0.25"/>
<rect x="590.0" y="254.4" width="1.0" height="27.7" fill="#ff0000" fill-opacity="0.5"/>
<rect x="591.0" y="337.4" width="1.0" height="27.6" fill="#ff7777" fill-opacity="0.6"/>
<rect x="591.0" y="282.1" width="1.0" height="27.6" fill="#ff0000" fill-opacity="0.8"/>
<rect x="592.0" y="337.4" width="1.0" height="27.6" fill="#ff7777" fill-opacity="0.6"/>
<rect x="592.0" y="282.1" width="1.0" height="27.6" fill="#ff0000" fill-opacity="1"/>
<rect x="592.0" y="254.4" width="1.0" height="27.7" fill="#ff0000" fill-opacity="0.35"/>
<rect x="593.0" y="337.4" width="1.0" height="27.6" fill="#500" fill-opacity="0.7"/>
<rect x="593.0" y="282.1" width="1.0" height="27.6" fill="#ff0000" fill-opacity="0.8"/>
<rect x="593.0" y="254.4" width="1.0" height="27.7" fill="#ff0000" fill-opacity="0.7"/>
<rect x="594.0" y="337.4" width="1.0" height="27.6" fill="#ff7777" fill-opacity="0.6"/>
<rect x="594.0" y="309.7" width="1.0" height="27.7" fill="#ff7777" fill-opacity="0.6"/>
<rect x="594.0" y="282.1" width="1.0" height="27.6" fill="#ff0000" fill-opacity="0.8"/>
<rect x="594.0" y="254.4" width="1.0" height="27.7" fill="#800" fill-opacity="0.5"/>
<rect x="595.0" y="282.1" width="1.0" height="27.6" fill="#ff0000" fill-opacity="1"/>
<rect x="596.0" y="282.1" width="1.0" height="27.6" fill="#ff0000" fill-opacity="0.25"/>
<rect x="597.0" y="282.1" width="1.0" height="27.6" fill="#ff0000" fill-opacity="0.25"/>
<rect x="598.0" y="282.1" width="1.0" height="27.6" fill="#ff0000" fill-opacity="0.8"/>
<rect x="598.0" y="254.4" width="1.0" height="27.7" fill="#444" fill-opacity="0.7"/>
<rect x="599.0" y="282.1" width="1.0" height="27.6" fill="#ff0000" fill-opacity="0.4"/>
<rect x="600.0" y="282.1" width="1.0" height="27.6" fill="#ff0000" fill-opacity="0.4"/>
<rect x="601.0" y="282.1" width="1.0" height="27.6" fill="#ff0000" fill-opacity="1"/>
<rect x="602.0" y="337.4" width="1.0" height="27.6" fill="#c00" fill-opacity="0.5"/>
<rect x="602.0" y="282.1" width="1.0" height="27.6" fill="#ff0000" fill-opacity="1"/>
<rect x="603.0" y="282.1" width="1.0" height="27.6" fill="#ff0000" fill-opacity="1"/>
<rect x="603.0" y="254.4" width="1.0" height="27.7" fill="#ff0000" fill-opacity="0.5"/>
<rect x="604.0" y="337.4" width="1.0" height="27.6" fill="#a00" fill-opacity="0.5"/>
<rect x="604.0" y="282.1" width="1.0" height="27.6" fill="#ff0000" fill-opacity="0.8"/>
<rect x="605.0" y="282.1" width="1.0" height="27.6" fill="#ff0000" fill-opacity="1"/>
<rect x="605.0" y="254.4" width="1.0" height="27.7" fill="#ff0000" fill-opacity="0.5"/>
<rect x="606.0" y="337.4" width="1.0" height="27.6" fill="#a00" fill-opacity="0.5"/>
<rect x="606.0" y="282.1" width="1.0" height="27.6" fill="#ff0000" fill-opacity="1"/>
<rect x="606.0" y="254.4" width="1.0" height="27.7" fill="#ff0000" fill-opacity="0.5"/>
<rect x="607.0" y="309.7" width="1.0" height="27.7" fill="#ff7777" fill-opacity="0.6"/>
<rect x="607.0" y="282.1" width="1.0" height="27.6" fill="#ff0000" fill-opacity="1"/>
<rect x="608.0" y="282.1" width="1.0" height="27.6" fill="#ff0000" fill-opacity="0.25"/>
<rect x="609.0" y="282.1" width="1.0" height="27.6" fill="#ff0000" fill-opacity="0.6"/>
<rect x="609.0" y="254.4" width="1.0" height="27.7" fill="#ff0000" fill-opacity="0.7"/>
<rect x="610.0" y="254.4" width="1.0" height="27.7" fill="#ff0000" fill-opacity="1"/>
<rect x="611.0" y="337.4" width="1.0" height="27.6" fill="#300" fill-opacity="1"/>
<rect x="611.0" y="282.1" width="1.0" height="27.6" fill="#ff0000" fill-opacity="0.25"/>
<rect x="612.0" y="337.4" width="1.0" height="27.6" fill="#800" fill-opacity="0.5"/>
<rect x="612.0" y="282.1" width="1.0" height="27.6" fill="#ff0000" fill-opacity="0.6"/>
<rect x="612.0" y="254.4" width="1.0" height="27.7" fill="#ff0000" fill-opacity="0.2"/>
<rect x="613.0" y="282.1" width="1.0" height="27.6" fill="#ff0000" fill-opacity="0.25"/>
<rect x="613.0" y="254.4" width="1.0" height="27.7" fill="#ff0000" fill-opacity="0.2"/>
<rect x="613.0" y="226.8" width="1.0" height="27.7" fill="#ff0000" fill-opacity="0.5"/>
<rect x="614.0" y="337.4" width="1.0" height="27.6" fill="#a00" fill-opacity="1"/>
<rect x="614.0" y="282.1" width="1.0" height="27.6" fill="#ff0000" fill-opacity="1"/>
<rect x="614.0" y="254.4" width="1.0" height="27.7" fill="#ff0000" fill-opacity="0.2"/>
<rect x="615.0" y="254.4" width="1.0" height="27.7" fill="#ff0000" fill-opacity="0.5"/>
<rect x="616.0" y="337.4" width="1.0" height="27.6" fill="#500" fill-opacity="1"/>
<rect x="616.0" y="282.1" width="1.0" height="27.6" fill="#ff0000" fill-opacity="0.25"/>
<rect x="616.0" y="226.8" width="1.0" height="27.7" fill="#ff0000" fill-opacity="0.7"/>
<rect x="617.0" y="282.1" width="1.0" height="27.6" fill="#800" fill-opacity="0.7"/>
<rect x="617.0" y="254.4" width="1.0" height="27.7" fill="#ff0000" fill-opacity="0.5"/>
<rect x="618.0" y="282.1" width="1.0" height="27.6" fill="#ff0000" fill-opacity="0.6"/>
<rect x="619.0" y="282.1" width="1.0" height="27.6" fill="#ff0000" fill-opacity="1"/>
<rect x="624.0" y="337.4" width="1.0" height="27.6" fill="#c00" fill-opacity="1"/>
<rect x="628.0" y="337.4" width="1.0" height="27.6" fill="#ff7777" fill-opacity="0.6"/>
<rect x="628.0" y="282.1" width="1.0" height="27.6" fill="#ff0000" fill-opacity="0.4"/>
<rect x="629.0" y="309.7" width="1.0" height="27.7" fill="#800" fill-opacity="1"/>
<rect x="629.0" y="282.1" width="1.0" height="27.6" fill="#ff0000" fill-opacity="0.25"/>
<rect x="631.0" y="254.4" width="1.0" height="27.7" fill="#ff0000" fill-opacity="0.35"/>
<rect x="632.0" y="337.4" width="1.0" height="27.6" fill="#ff7777" fill-opacity="0.6"/>
<rect x="632.0" y="254.4" width="1.0" height="27.7" fill="#ff0000" fill-opacity="0.35"/>
<rect x="633.0" y="337.4" width="1.0" height="27.6" fill="#ff7777" fill-opacity="0.6"/>
<rect x="634.0" y="282.1" width="1.0" height="27.6" fill="#ff0000" fill-opacity="0.4"/>
<rect x="635.0" y="282.1" width="1.0" height="27.6" fill="#ff0000" fill-opacity="0.25"/>
<rect x="636.0" y="282.1" width="1.0" height="27.6" fill="#ff0000" fill-opacity="1"/>
<rect x="637.0" y="309.7" width="1.0" height="27.7" fill="#c00" fill-opacity="0.5"/>
<rect x="637.0" y="282.1" width="1.0" height="27.6" fill="#ff0000" fill-opacity="0.4"/>
<rect x="638.0" y="282.1" width="1.0" height="27.6" fill="#a00" fill-opacity="0.7"/>
<rect x="639.0" y="337.4" width="1.0" height="27.6" fill="#ff7777" fill-opacity="0.6"/>
<rect x="639.0" y="309.7" width="1.0" height="27.7" fill="#ff7777" fill-opacity="0.6"/>
<rect x="639.0" y="282.1" width="1.0" height="27.6" fill="#888" fill-opacity="0.7"/>
<rect x="641.0" y="282.1" width="1.0" height="27.6" fill="#ff0000" fill-opacity="0.6"/>
<rect x="643.0" y="282.1" width="1.0" height="27.6" fill="#ff0000" fill-opacity="0.8"/>
<rect x="646.0" y="282.1" width="1.0" height="27.6" fill="#ff0000" fill-opacity="1"/>
<rect x="647.0" y="282.1" width="1.0" height="27.6" fill="#ff0000" fill-opacity="1"/>
<rect x="648.0" y="254.4" width="1.0" height="27.7" fill="#ff0000" fill-opacity="1"/>
<rect x="650.0" y="282.1" width="1.0" height="27.6" fill="#ff0000" fill-opacity="0.4"/>
<rect x="650.0" y="254.4" width="1.0" height="27.7" fill="#ff0000" fill-opacity="0.2"/>
<rect x="651.0" y="282.1" width="1.0" height="27.6" fill="#a00" fill-opacity="0.7"/>
<rect x="652.0" y="282.1" width="1.0" height="27.6" fill="#ff0000" fill-opacity="1"/>
<rect x="653.0" y="282.1" width="1.0" height="27.6" fill="#ff0000" fill-opacity="0.4"/>
<rect x="654.0" y="309.7" width="1.0" height="27.7" fill="#ff7777" fill-opacity="0.6"/>
<rect x="654.0" y="282.1" width="1.0" height="27.6" fill="#ff0000" fill-opacity="0.8"/>
<rect x="655.0" y="309.7" width="1.0" height="27.7" fill="#ff7777" fill-opacity="0.6"/>
<rect x="655.0" y="282.1" width="1.0" height="27.6" fill="#500" fill-opacity="0.7"/>
<rect x="656.0" y="309.7" width="1.0" height="27.7" fill="#c00" fill-opacity="0.5"/>
<rect x="657.0" y="282.1" width="1.0" height="27.6" fill="#ff0000" fill-opacity="0.6"/>
<rect x="657.0" y="254.4" width="1.0" height="27.7" fill="#ff0000" fill-opacity="0.7"/>
<rect x="382.1" y="254.4" width="1.2" height="55.3" fill="#ff0000" fill-opacity="0.85"/>
<rect x="383.3" y="282.1" width="1" height="27.6" fill="#ff0000" fill-opacity="0.7"/>
<rect x="579" y="199.1" width="1" height="55.3" fill="#ff0000" fill-opacity="0.55"/>
<rect x="616" y="199.1" width="1" height="55.3" fill="#ff0000" fill-opacity="0.55"/>
</g>
<rect x="382.1" y="199.1" width="276.29999999999995" height="165.9" fill="none" stroke="#4a4a4a" stroke-width="1"/>
<line x1="378.1" y1="365.0" x2="382.1" y2="365.0" stroke="#4a4a4a" stroke-width="1"/>
<text x="372.4" y="367.2" font-family='"Liberation Serif", serif' font-size="6.7" font-weight="bold" fill="#000" textLength="3.8" lengthAdjust="spacingAndGlyphs">0</text>
<line x1="379.9" y1="351.2" x2="382.1" y2="351.2" stroke="#4a4a4a" stroke-width="1"/>
<line x1="378.1" y1="337.4" x2="382.1" y2="337.4" stroke="#4a4a4a" stroke-width="1"/>
<text x="372.4" y="339.6" font-family='"Liberation Serif", serif' font-size="6.7" font-weight="bold" fill="#000" textLength="3.8" lengthAdjust="spacingAndGlyphs">1</text>
<line x1="379.9" y1="323.5" x2="382.1" y2="323.5" stroke="#4a4a4a" stroke-width="1"/>
<line x1="378.1" y1="309.7" x2="382.1" y2="309.7" stroke="#4a4a4a" stroke-width="1"/>
<text x="372.4" y="311.9" font-family='"Liberation Serif", serif' font-size="6.7" font-weight="bold" fill="#000" textLength="3.8" lengthAdjust="spacingAndGlyphs">2</text>
<line x1="379.9" y1="295.9" x2="382.1" y2="295.9" stroke="#4a4a4a" stroke-width="1"/>
<line x1="378.1" y1="282.1" x2="382.1" y2="282.1" stroke="#4a4a4a" stroke-width="1"/>
<text x="372.4" y="284.2" font-family='"Liberation Serif", serif' font-size="6.7" font-weight="bold" fill="#000" textLength="3.8" lengthAdjust="spacingAndGlyphs">3</text>
<line x1="379.9" y1="268.2" x2="382.1" y2="268.2" stroke="#4a4a4a" stroke-width="1"/>
<line x1="378.1" y1="254.4" x2="382.1" y2="254.4" stroke="#4a4a4a" stroke-width="1"/>
<text x="372.4" y="256.6" font-family='"Liberation Serif", serif' font-size="6.7" font-weight="bold" fill="#000" textLength="3.8" lengthAdjust="spacingAndGlyphs">4</text>
<line x1="379.9" y1="240.6" x2="382.1" y2="240.6" stroke="#4a4a4a" stroke-width="1"/>
<line x1="378.1" y1="226.8" x2="382.1" y2="226.8" stroke="#4a4a4a" stroke-width="1"/>
<text x="372.4" y="228.9" font-family='"Liberation Serif", serif' font-size="6.7" font-weight="bold" fill="#000" textLength="3.8" lengthAdjust="spacingAndGlyphs">5</text>
<line x1="379.9" y1="212.9" x2="382.1" y2="212.9" stroke="#4a4a4a" stroke-width="1"/>
<line x1="378.1" y1="199.1" x2="382.1" y2="199.1" stroke="#4a4a4a" stroke-width="1"/>
<text x="372.4" y="201.3" font-family='"Liberation Serif", serif' font-size="6.7" font-weight="bold" fill="#000" textLength="3.8" lengthAdjust="spacingAndGlyphs">6</text>
<line x1="382.1" y1="365.0" x2="382.1" y2="368.0" stroke="#4a4a4a" stroke-width="1"/>
<text x="380.0" y="375.4" font-family='"Liberation Serif", serif' font-size="6.7" font-weight="bold" fill="#000" textLength="4.2" lengthAdjust="spacingAndGlyphs">0</text>
<line x1="409.7" y1="365.0" x2="409.7" y2="366.8" stroke="#4a4a4a" stroke-width="1"/>
<line x1="437.4" y1="365.0" x2="437.4" y2="368.0" stroke="#4a4a4a" stroke-width="1"/>
<text x="429.6" y="375.4" font-family='"Liberation Serif", serif' font-size="6.7" font-weight="bold" fill="#000" textLength="15.6" lengthAdjust="spacingAndGlyphs">2000</text>
<line x1="465.0" y1="365.0" x2="465.0" y2="366.8" stroke="#4a4a4a" stroke-width="1"/>
<line x1="492.6" y1="365.0" x2="492.6" y2="368.0" stroke="#4a4a4a" stroke-width="1"/>
<text x="484.8" y="375.4" font-family='"Liberation Serif", serif' font-size="6.7" font-weight="bold" fill="#000" textLength="15.6" lengthAdjust="spacingAndGlyphs">4000</text>
<line x1="520.2" y1="365.0" x2="520.2" y2="366.8" stroke="#4a4a4a" stroke-width="1"/>
<line x1="547.9" y1="365.0" x2="547.9" y2="368.0" stroke="#4a4a4a" stroke-width="1"/>
<text x="540.1" y="375.4" font-family='"Liberation Serif", serif' font-size="6.7" font-weight="bold" fill="#000" textLength="15.6" lengthAdjust="spacingAndGlyphs">6000</text>
<line x1="575.5" y1="365.0" x2="575.5" y2="366.8" stroke="#4a4a4a" stroke-width="1"/>
<line x1="603.1" y1="365.0" x2="603.1" y2="368.0" stroke="#4a4a4a" stroke-width="1"/>
<text x="595.3" y="375.4" font-family='"Liberation Serif", serif' font-size="6.7" font-weight="bold" fill="#000" textLength="15.6" lengthAdjust="spacingAndGlyphs">8000</text>
<line x1="630.8" y1="365.0" x2="630.8" y2="366.8" stroke="#4a4a4a" stroke-width="1"/>
<line x1="658.4" y1="365.0" x2="658.4" y2="368.0" stroke="#4a4a4a" stroke-width="1"/>
<text x="648.7" y="375.4" font-family='"Liberation Serif", serif' font-size="6.7" font-weight="bold" fill="#000" textLength="19.4" lengthAdjust="spacingAndGlyphs">10000</text>
<text x="505.0" y="387.7" font-family='"Liberation Serif", serif' font-size="8.8" font-weight="bold" fill="#000" textLength="31.3" lengthAdjust="spacingAndGlyphs">Frames</text>
<text transform="translate(367.4,310.0) rotate(-90)" x="0" y="0" font-family='"Liberation Serif", serif' font-size="9.2" font-weight="bold" textLength="55.7" lengthAdjust="spacingAndGlyphs">Hydrogen bonds</text>
<text x="395.8" y="241.9" font-family='"Liberation Serif", serif' font-size="16.4" font-weight="bold" fill="#000" textLength="11.4" lengthAdjust="spacingAndGlyphs">D</text>
<rect x="382.6" y="201.1" width="106.89999999999998" height="19.30000000000001" fill="#fff" stroke="#bbb" stroke-width="0.8"/>
<line x1="384.4" y1="205.2" x2="405.4" y2="205.2" stroke="#999" stroke-width="0.8"/>
<line x1="384.4" y1="215.1" x2="405.4" y2="215.1" stroke="#ff9999" stroke-width="0.8"/>
<text x="408.9" y="208.3" font-family='"Liberation Sans", sans-serif' font-size="8.5" font-weight="normal" fill="#000" textLength="78.3" lengthAdjust="spacingAndGlyphs">Phenyl carbamate</text>
<text x="408.9" y="218.2" font-family='"Liberation Sans", sans-serif' font-size="8.5" font-weight="normal" fill="#000" textLength="39.4" lengthAdjust="spacingAndGlyphs">Co-factor</text>
<rect x="382.1" y="199.1" width="276.29999999999995" height="165.9" fill="none" stroke="#4a4a4a" stroke-width="1"/>
<clipPath id="cE"><rect x="224.4" y="399.3" width="288.80000000000007" height="179.99999999999994"/></clipPath>
<path d="M224.4 462.1l.1 9.7.1-8.5.1 16.1.1.8.1-8.6.1 25.3.1-24.2.1 3.6.1 11 .1-11.1.1 10.1.1-17.2.1 9.3.1-3.7.1-.9.2-3.3.1 9.9.1-21 .1 1.4.1 26.3.1-10.2.1 1.5.1-3.3.1-2.9.1-8.4.1-9.1.1 13.9.1-7.3.1 16.5.1-11 .1-5.8.1-8.1.1 26.8.1-4.8.1-3.1.1 8.7.1 1 .1-10.7.1 12.5.1-23.8.1 19.6.1.7.1 4.6.1 7.7.1-10.5.1 7.2.1-.1.2 3.2.1-2.5.1-5.7.1-9.3.1 4.1.1 24.2.1-21.4.1-5.7.1-5.4.1-6.2.1 1.3.1 22.5.1-25.4.1 6.1.1 7.2.1-6.2.1-3.6.1.2.1 0 .1 6.2.1 5.2.1 13.9.1-10.1.1 1.1.1 22.8.1-9.6.1-.9.1-17.5.1-1.8.1 9.8.1-8.1.2 5 .1 7 .1-4.2.1-.5.1 16.3.1-6.5.1-4.7.1-2.3.1 8.5.1-9.1.1 1.8.1 2.5.1 15.2.1-23.9.1 16.6.1-10.4.1 7.3.1 7.2.1-27.1.1 10.6.1-10.7.1-15.8.1 35.7.1-31.3.1 16.6.1-4.2.1-13.6.1 22.6.1-13.6.1 16.5.1-1.5.1-21.6.2 10.6.1-11.3.1 3.7.1-8.1.1 7.1.1-9.8.1 28.3.1-17.2.1 18.9.1-8.4.1-4.2.1 8.3.1 14 .1-20.9.1 6.8.1-3.7.1 1.8.1-12.6.1 2.1.1-12.1.1 26.9.1-7.2.1-1.9.1-10.8.1 8.2.1-2.2.1-11.6.1 3.7.1.3.1 2.2.1-6.9.2 2.2.1 10 .1-15.7.1 7.8.1-.1.1 1.6.1-10.1.1 7.3.1-10.1.1 17.4.1-.9.1-2.8.1-2 .1 10.6.1-1.6.1-2.8.1-18 .1 14.2.1 5.2.1 3.2.1 4.3.1-23.3.1.7.1 13.9.1-.2.1 8.3.1-13.8.1 8.7.1-.1.1 7.2.1-14.9.2 4 .1-2.2.1-5.3.1-15.9.1 15.7.1 19.8.1 4.8.1-1.6.1-11.5.1 4.1.1 17.7.1-12.6.1-13.1.1 2.6.1 2.4.1 12.1.1.7.1-.7.1 4.9.1-5.8.1-12.2.1 9.5.1-11.6.1 5.2.1 30.7.1-1.6.1-28.3.1 5.5.1.4.1-18.1.1 1.5.1 8 .2 13.8.1.9.1-3.8.1-11.4.1-1.6.1 5.6.1 1.7.1-13.5.1 4.2.1-6.1.1 12.6.1-8.2.1 1.5.1 14.3.1-13.4.1 5.8.1-27.9.1 33.5.1-12.2.1-6.2.1 9.7.1-11.9.1 12.5.1-3.3.1-9.3.1 12.6.1 2.9.1-18.1.1 6.5.1-10.2.1 10.6.2 10.2.1-17.4.1 12.3.1-16.7.1 3.4.1 23.3.1-21.6.1 26.8.1-13.2.1 7.9.1-7.1.1 13.9.1-19.1.1 9.3.1-10.6.1 3.6.1 12.6.1 3 .1.4.1-1.3.1-14.3.1 12 .1-10.1.1 20 .1-11.7.1 24.7.1-5.5.1-27.1.1 1.3.1 9.1.1 1.2.1 9.3.2-16 .1 2.3.1-11.9.1 6.7.1 1.1.1-1.1.1-2.7.1-3.1.1 10.2.1-11.5.1 30.4.1-19.3.1-2.8.1 1.6.1-2.9.1 13 .1-11 .1-15.3.1 6.6.1 20.8.1-38.2.1 11.8.1-12.3.1 28.6.1-15.3.1 9.6.1-5.6.1 6 .1 7.3.1-10.2.1 8.5.2 23.8.1-31.7.1-3.8.1 22 .1-3.5.1-18.6.1-.5.1 7 .1 3.2.1 7.3.1 4.1.1-22 .1 28.3.1 1.6.1-8.9.1 4 .1-15.6.1 20.6.1-10.1.1 4.7.1 6 .1 4.4.1-15.9.1 19.9.1-19.3.1.7.1 10.8.1 1.1.1-6.6.1-3.8.1.5.1 1.7.2 1.6.1-15.2.1-14.4.1 21.9.1 3.7.1-5.7.1-7.6.1-11.3.1 31 .1-8.2.1-21.3.1 25.1.1-3 .1-12.4.1 12.3.1-2.7.1-15.8.1 20.2.1-13.2.1 4.8.1.8.1-19 .1 17.5.1-8.9.1 9.3.1-4.5.1 1.2.1-7.6.1 28.6.1-7.7.1-17.6.2 5.3.1 4.3.1 6.8.1-10.6.1 7.5.1-19.1.1 24.9.1-16 .1 6.3.1 10.1.1 1 .1-25.3.1 10.9.1 1.1.1 5.7.1-9.5.1-5 .1 8.9.1-10.4.1 11.8.1-13.9.1 7.9.1-11.2.1 10.9.1-21.2.1 20.2.1-11.9.1-.1.1 2.2.1 3 .1 3 .1 13.9.2-3.1.1-18.7.1-10.3.1 15.1.1 18.4.1-14.8.1-14.7.1 2.3.1 4.9.1 11.9.1 8.6.1-7.1.1-14.6.1 6 .1 3.5.1-8.3.1 13.2.1-17.5.1 31.8.1-2.7.1-1.6.1-2.2.1 5.6.1 17.1.1-20.1.1-13.3.1 7.2.1 11.1.1 13.8.1-24.6.1-9.7.2 13.8.1 1.3.1-4.7.1-10.4.1 12.8.1-6.3.1 2.8.1 5.4.1 2.3.1-4.3.1 3.1.1-14.7.1 15.4.1-6 .1 3.7.1 3.3.1 12.7.1-7.3.1-2.2.1-7.7.1-9.5.1 32.9.1-27.3.1-13.4.1 10.8.1-8.3.1 7.5.1 2.8.1-4 .1 29 .1-28.6.1.4.2-1.2.1 12.9.1-1.5.1 4.6.1.3.1-6.2.1 14.2.1-4.2.1 5.9.1-33.7.1 23.2.1.9.1-31.1.1 28.3.1-4.3.1-12.7.1 4 .1.6.1 3.4.1-4.3.1 11.3.1-13 .1 9.2.1-14.6.1 23.7.1-12.6.1-.7.1 8.9.1 4.2.1-1.3.1-7.2.2 14 .1-.2.1-2.2.1 5.7.1-1.6.1-23.2.1 8.8.1 7.2.1-4.3.1-14.3.1-4.3.1 3.8.1 10.9.1-10.1.1.5.1 4.9.1 23.9.1-28.6.1 12.8.1 1.3.1 8.2.1-11.3.1 11.4.1-10 .1 5.6.1 8.1.1 2.5.1-4.2.1-4.9.1 4.2.1.4.2 9 .1-17.2.1 10.6.1-23.6.1 3.3.1-4.5.1 8.5.1-3.6.1-3.1.1 11.9.1-14.5.1 20.6.1-13.8.1 3.5.1-.5.1-16.2.1 7.4.1-13.8.1 20.8.1-6 .1-20.3.1 5 .1 6.9.1-7.1.1 9.5.1-5.2.1-.9.1 7.1.1 4.4.1-.7.1-7.2.1 21.6.2-38.5.1 9.9.1-13.3.1 8.9.1 7.7.1-15.6.1 9.1.1-5.7.1 3.3.1 8.9.1 10.6.1 10 .1-6 .1-3.5.1 7.6.1-15.9.1 3.2.1 11.6.1-2 .1 8.1.1-1.5.1-1.4.1-10 .1 23.8.1-16.9.1-6.5.1 3.7.1-20.2.1 4.1.1 10.6.1-13.7.2 10.5.1-1.8.1 29.5.1-12.4.1-9.5.1-1.4.1 7.5.1-15.9.1 13.3.1-9.8.1 20.7.1-16.8.1-11 .1 17.4.1-14.7.1 13.7.1 6.4.1-3 .1-4.2.1-5.6.1 7.9.1-16.3.1-6.5.1 30.1.1-13.9.1-10.5.1 8.6.1 9.2.1-.9.1-1.3.1.4.1-10.6.2 4.7.1-6.5.1 5.5.1 11.2.1-10.1.1 4 .1 2.9.1 14.2.1-15 .1 2.2.1 11.6.1-12.8.1-3.7.1 4.6.1-3.2.1-2.1.1-7 .1 4.9.1 2.1.1-15.5.1 18.7.1-2.5.1 0 .1-1.7.1-4.4.1 3.4.1 6.3.1 7 .1-5.2.1-14.8.1 12 .2-6.2.1 9.3.1-1.4.1 17.6.1-11.3.1-14.8.1 17.1.1-21.9.1 24.9.1-19.4.1 7.5.1.1.1 14.8.1-7 .1 5.1.1-9.7.1-13 .1 6.6.1-2.3.1-12.4.1 29.7.1-2.5.1 3 .1-5.9.1 3.7.1 5.4.1 4.5.1 1.9.1-8 .1-4 .1 16 .1-12.2.2 5.2.1-12 .1 18.3.1-17.4.1 22 .1-28.1.1 14.7.1-4.1.1-1.1.1-6.3.1-7.7.1.6.1 4.1.1 9.2.1-6.9.1 13.6.1-3 .1-27.1.1 22.1.1-19.9.1 40.2.1-17.5.1.1.1-1.1.1-5.8.1 6.6.1-10 .1 8.4.1 10.9.1-8.8.1-11.9.2 32.2.1-15.4.1-14.6.1 3.6.1-.8.1 7.7.1-4.2.1.4.1 10.1.1-11.6.1 1.6.1 19.9.1.7.1-14.6.1 14.1.1-3.2.1.2.1-3.3.1-4.5.1 14.9.1-6.9.1-11.6.1 17.6.1-4.6.1-20.2.1-4.4.1 12.9.1 4.4.1-5.1.1 17.3.1-7.8.1-1.6.2 2.2.1-7.4.1 14.5.1-8.7.1-6.6.1-3 .1 6.6.1 3.2.1.3.1-6.2.1 3.8.1 14.2.1 4.2.1-17.2.1-1 .1-4.8.1 6 .1-1.2.1 10.3.1-2.3.1 17.7.1-15.6.1 2.3.1 6.8.1-26.1.1.4.1 22.9.1-23.3.1 3.3.1-6.1.1-.3.2 6.8.1.7.1-2 .1 8.9.1-1.5.1-8.6.1-7.7.1 10.5.1-15.7.1 12.5.1-6.8.1-5.3.1 11.8.1 2.6.1 12.5.1-11.7.1 10.7.1-7.9.1 4.7.1-9.1.1 24 .1-15.1.1 1.5.1-5.4.1-2.1.1-8.2.1-7.7.1 42.1.1-49.3.1 30.7.1 3 .2-8.9.1-1.8.1 4.2.1-9 .1 5.7.1-12.3.1-16.5.1 9.6.1 4.9.1 3.3.1-13.6.1 7.7.1 0 .1-3.6.1 9.6.1-10.1.1 7.7.1-25.9.1 11 .1 11.2.1-3.7.1 24.8.1-8.8.1 4.7.1-.1.1-14.1.1 7.6.1 5.2.1-2.5.1-12 .1-12.2.1 6.3.2 6.4.1 5.7.1 6.7.1-12.1.1 4.2.1 4.3.1-10.8.1 6.2.1-2.5.1-3.5.1 23.5.1-20.9.1-3.4.1 4.1.1 33.7.1-4.9.1-12.5.1 2.9.1 3.6.1-7.3.1.8.1 12 .1-29 .1 12.5.1 7.2.1-2.2.1-4.7.1.3.1-4.6.1-4.2.1-2.7.2 22.6.1-13.7.1 3.2.1 1.6.1 4.9.1-10.2.1.3.1 8.1.1-13.3.1 15.7.1-.5.1 3.3.1-10.3.1 21 .1-15.9.1-16 .1 10.9.1-4.8.1-4 .1 4.9.1 3.3.1-12.6.1 6.6.1-2.9.1 3.7.1-15.4.1 34.9.1-15.5.1 23.4.1-13.7.1 8.8.1-4.7.2 9 .1-12.8.1-3.6.1 6.6.1 10.2.1-24.2.1 1.8.1 12.2.1-12.6.1 8.9.1-5.2.1-9.1.1 9.6.1-6.1.1-2.4.1 11 .1 3.9.1 1.4.1-2.5.1-9 .1 11.9.1-7.4.1 8.3.1-6.4.1 9.9.1-18.6.1 9.4.1 5 .1-2.5.1 12.7.1-15.3.2-8.5.1 13.8.1-3.5.1 6.8.1-14.6.1-.1.1-4.4.1-2.4.1-6.6.1 8.3.1-21.6.1 20.7.1 5.4.1-17.2.1 16.8.1-8 .1 16.7.1.2.1-1.8.1.3.1-4.2.1 7.1.1-9.5.1 20.5.1-2.1.1-4.9.1-1.5.1-13.9.1-8.9.1 4.6.1-7.6.1 9.8.2-1.6.1 7.2.1-8.2.1 15 .1 6.2.1-25.7.1 7.6.1 22.1.1-23.8.1-6.6.1.8.1 13.5.1-6 .1-5.2.1-13.5.1-13.7.1 24.6.1 4.3.1-2.4.1 4.8.1 12.8.1-21.5.1 8.3.1 16.8.1-14.4.1 8.1.1 12.8.1-22.3.1 11.2.1-10.4.1-3.3.2 15.2.1 1.3.1-.1.1-17.3.1 8.8.1 9.9.1-5.2.1-9.6.1 8.4.1.8.1 6.3.1-14 .1-11.5.1 15.6.1 4.9.1 5.7.1 4.2.1 5.2.1-23.2.1-4.2.1 2.5.1 2.4.1-3 .1-.2.1 9.3.1-19.7.1.5.1-3 .1 19.3.1 2.5.1 7 .1-4 .2.7.1-14.8.1 13.2.1-4.9.1 0 .1-2.1.1-2.7.1 8.4.1-20.9.1 13.8.1-4.5.1-18.2.1 1 .1 16.2.1 14.2.1-14.8.1-8.4.1 19.3.1 2.8.1-7 .1 6 .1-4.7.1-1.2.1-.5.1-6.2.1 14.3.1-13.1.1 22.7.1-3.3.1-14.1.1-15.7.2 10.4.1-7.4.1-5.2.1 3.2.1 5.4.1 10.3.1-2 .1-6.5.1 8.1.1-5.5.1 0 .1 3.3.1 17.7.1-7.1.1-5.1.1 7 .1-9.7.1 4.6.1-.9.1 10.4.1-21.6.1-7.9.1 7.7.1 8.6.1 6.5.1-.1.1-.4.1 10.4.1-6.1.1-8.2.1 6.1.1-1 .2-7.6.1 1.6.1 12.1.1-16.3.1 3.8.1-10.3.1 11.9.1-7.9.1 6.4.1-3.3.1-7.2.1-6.7.1 6.8.1-3.7.1-8.4.1 34.8.1-19.5.1 19.7.1-15.2.1-2.5.1-7.8.1-10 .1 9.6.1 24.6.1-9.3.1-2.4.1-9.8.1 13.1.1-15 .1 4 .1 6.1.2 5.4.1 5.7.1 7.1.1-15.7.1-3.4.1 10.6.1 3.6.1-1.6.1 12.4.1-25.6.1-4.7.1 12.3.1 7.8.1-11.5.1 8.4.1-9 .1 1.5.1 7.4.1.7.1-13.2.1 21.3.1-6.1.1-6.7.1 9.3.1-11.9.1 15.7.1-19.2.1 7.3.1-17.7.1 19.5.1 3.8.2-23 .1 11.2.1 2.7.1-16.1.1 7.9.1-2.2.1 15.3.1-.1.1 5.3.1-6.1.1-1.5.1-5.4.1 2.5.1 1.6.1 5.9.1-8.9.1-4.5.1.2.1 8.8.1 4.5.1 13.2.1-5.5.1-7.5.1-2.4.1-.1.1 11.1.1-1 .1-16.3.1 14.8.1.4.1-1 .1-6.6.2-1.4.1-5.5.1 4.3.1-.3.1-17.3.1 19.9.1-1 .1-17.3.1-2.6.1 6.1.1 8.3.1-3.9.1-6.9.1 9.7.1-21 .1-11.5.1 34.8.1-17.6.1-9.1.1 27.9.1-4.1.1-3.4.1 18.4.1-11.4.1-8.9.1 12.3.1 3.4.1 10.3.1-16.1.1 30.5.1-8.4.2-12.3.1 5.7.1-2.2.1-.8.1-.5.1-9.4.1 31.7.1-42.8.1 5.9.1 12.5.1 2.5.1-22.9.1 9.2.1 2.7.1-11.8.1-3.4.1 10.5.1 3.2.1-2 .1-11.5.1 3.9.1 2.9.1-9.5.1.6.1 9.1.1-5.4.1 14.9.1-6 .1-1.7.1-9.5.1 20.6.1-22.4.2 24.4.1-8.5.1 2 .1 3.4.1 9.7.1-5.5.1 7.9.1 7 .1-7 .1-25.5.1 1.7.1 15.9.1-10.6.1-2 .1-5.6.1-15.2.1 7.2.1 1.2.1 3.4.1-8.5.1-11.2.1 9 .1 14.5.1-30.1.1 16.3.1 1.1.1 23.6.1-9.7.1-13.5.1.6.1 6.8.2-10.5.1 2.2.1 20 .1-.5.1 7.1.1 2.9.1-6.6.1.7.1 6.7.1-9.2.1 3.7.1-4.2.1 5.7.1-6.9.1 9.9.1-5.6.1-6.2.1 17.6.1-16.9.1 3.6.1 3.7.1 6.6.1-.3.1-18.3.1 5.9.1 2.5.1-9.5.1 14 .1-15.6.1 2.5.1 23.6.1-19.5.2 1.9.1-4.2.1 12.1.1.1.1-20.6.1 21.2.1 6.9.1 1.8.1-18.6.1 11.8.1.1.1-16.6.1 4 .1 11.4.1-8.5.1-1.4.1 9.4.1.1.1-24.6.1 13.2.1.1.1.6.1 12.3.1-6 .1-14.1.1 3.8.1-15.9.1 15.8.1 7.7.1-16.7.1 12.3.2 2.5.1 6.3.1-9.5.1-3.6.1 17.3.1-.2.1-10 .1 6.4.1-3.6.1 13.6.1-.9.1-20.9.1 11.7.1-22.4.1 17.8.1 7.5.1-4 .1-5.5.1 6 .1-6.7.1 17.2.1-14.5.1-11.8.1-2.2.1 2.7.1-6.2.1 17.8.1.4.1-11.7.1-7.6.1 26.8.1-24.5.2 15.9.1 1.3.1-14.1.1 2.1.1-4.9.1 14 .1-23.2.1.8.1 27.8.1-9.9.1 8.2.1 4.9.1-10 .1 22.5.1-14.6.1 7.4.1-.5.1-12.4.1-4.9.1 9.6.1-8.3.1 2.5.1-3 .1-8.6.1 21.4.1 4.6.1-3.9.1-9.1.1 3 .1 6.4.1 1.8.2-6.2.1 14.1.1.1.1-16.3.1 6.2.1 1.1.1-11.8.1 10.1.1-1.7.1 1.2.1-4 .1-.4.1-9 .1 10 .1 4.4.1-18.2.1-12.5.1 26.1.1 9.7.1-19.4.1 22.7.1.2.1-9 .1-6.1.1 12.5.1-8.4.1-10.3.1 2.1.1 21.3.1-27.3.1 14.5.2-15.9.1 16.5.1-14 .1 11.8.1-6.5.1 11.3.1-5.2.1-11.4.1-2.7.1 20.8.1 11.9.1-12 .1-20.5.1.2.1 3.8.1-3.1.1 12.6.1-8.3.1 10.8.1-14 .1 4.4.1 17 .1 8.5.1-1.9.1 4 .1-7.9.1-2.8.1 11.7.1-1.5.1-7.1.1-6.5.1 8.6.2-25.7.1 4.2.1 16.6.1-8 .1-1.6.1 1.8.1-5.8.1 19.3.1-29.2.1 18.4.1-15.6.1-1.3.1 12.4.1-15.6.1 15.7.1-2.5.1 9.8.1-16.3.1 23.7.1-27.9.1 13.1.1-.6.1 12 .1-26.2.1 7 .1.4.1-6.8.1 17.7.1-14 .1 19.4.1-8.3.2-8.1.1-4.1.1.2.1.9.1-1.2.1-13.6.1 4.6.1 13.7.1 8 .1-30.1.1 20.6.1-7.4.1 22.2.1 13.3.1-12.5.1 28.6.1-30 .1 6.9.1 1.6.1 6.1.1-4.5.1-13.7.1 10.6.1 2 .1-4.6.1 5.9.1-.8.1-4.5.1-.2.1-7.4.1 3.3.1 5.8.2-4.4.1 3.4.1-4.1.1 2.8.1-2.7.1 8.7.1-1.5.1-5.4.1-5 .1-16.1.1-1.6.1 7.1.1 6.5.1-2.6.1 3 .1 1.6.1-13.8.1 5.6.1-14.3.1 10.5.1-12.9.1 3.9.1 7.5.1 3.1.1 6.8.1-6 .1 14.4.1-10 .1-6.4.1-7.2.1 10.8.2 7.5.1-1.2.1-13.5.1 7.2.1 3.9.1-1.6.1-25.6.1 16.9.1 5.9.1 8.3.1-14.3.1-3.9.1 1.5.1 28.9.1-15.8.1-.2.1-10 .1 19.6.1-15.6.1 10.8.1-6.8.1-15.7.1 11 .1 7.2.1-5.7.1-2.7.1 4.1.1-27.5.1 24.4.1 4.3.1.6.1-8.1.2 9.8.1 4.1.1-2.7.1-17.6.1 11.5.1 11.9.1-24.1.1 6.4.1 4 .1 5.6.1-3.1.1-27.1.1 30.5.1-4.2.1 19.4.1-18 .1 9.6.1-13.2.1 5.6.1 14.1.1-16.7.1 14.9.1 6.9.1-.2.1-11 .1 17.5.1-18.1.1 13 .1 4.8.1-14.9.1 1.8.2 10.4.1-13.1.1-4 .1-8 .1 3.4.1-7.9.1 1.2.1 15.7.1-15.8.1 18 .1 3.1.1-8.7.1 12.6.1-23.8.1 24.3.1-23.3.1 5.8.1 3.4.1 6.7.1-4.5.1-1.4.1 1.7.1.9.1 16.9.1-17.1.1-6.8.1-10.1.1.9.1 9.3.1 17.4.1-13.4.1 4.6.2-13 .1 24.7.1-23.3.1 17.4.1 3.4.1-7.6.1-13.1.1-6.4.1 1 .1 16.6.1-21.9.1 3.6.1 18.8.1-11.6.1 1.4.1-9.2.1 11.6.1-3.5.1-6.6.1-9.5.1-2.1.1 2.6.1-8.2.1 33.1.1-11.4.1-4.1.1 13.5.1-17.2.1-4 .1 9.3.1-15.6.2 1.2.1-10.9.1 3.4.1 22.4.1-10.5.1 13 .1-16.9.1 13.6.1 10.9.1-16.5.1 3.6.1-1.4.1 13 .1-11.2.1 16.1.1 3.1.1-7.8.1-16 .1 4.2.1 16.3.1 4.2.1-15.6.1 3.7.1-3.1.1 1.6.1 24.7.1 1.3.1-29.4.1 15.5.1-12.2.1 10.7.2-1.5.1 11 .1-9.9.1-8.1.1-11.5.1 16 .1-2.6.1 5.2.1-2.9.1-24.6.1 4.3.1 6.6.1 7.4.1-8.9.1 6 .1-4.9.1-6.8.1 33.3.1-34.9.1-9.3.1 17.8.1-14.7.1 7.5.1 7.5.1-2 .1-8.6.1 29.6.1 2.2.1-5.3.1-10.9.1.2.1 1.2.2 4.2.1-6.5.1-11.3.1 1.9.1 4 .1-11.7.1 18.6.1 14.1.1-16.6.1 3.1.1-9 .1 13.2.1-15.4.1 7.8.1 7.1.1 10.2.1 1.3.1 2.9.1-27.3.1-2.3.1 21.8.1.2.1-13.8.1 1.7.1 23.2.1-27.8.1 11.5.1-8.2.1 17 .1-22.1.1 3.8.2 2.1.1 8.8.1-4.6.1 11.2.1-7.1.1-19.3.1 4.5.1 6.2.1 7 .1 9.4.1-11.8.1-8.8.1-15.1.1 10.9.1 9.8.1-3.9.1 12 .1-15.1.1 11.7.1-1.1.1-9.5.1 12 .1-20 .1 16.6.1-3.2.1 25.9.1-29.2.1 12 .1 10.4.1 5.9.1-14.1.1-2.4.2 2.9.1-14.3.1-.4.1 4.7.1 16.6.1-14.6.1 22 .1-25.5.1 7.6.1-14 .1 18.9.1 10.2.1-23.6.1 7.8.1 11.5.1 7.7.1-7.4.1-18.9.1-19.7.1 13.7.1 38.2.1-35.5.1 7.1.1.6.1-5.8.1 14.1.1 3.6.1-2.9.1-11.3.1 5.5.1 11.4.2-2.3.1-20.7.1 5.9.1-8.2.1 9.6.1-7.3.1-14.9.1-2.5.1 27.9.1-21.9.1 11.5.1 3.3.1-2.2.1-24.4.1 6.2.1-5.4.1 13.1.1 15.6.1-18.9.1 3.4.1 6.1.1 9.2.1-3 .1-.3.1 19.2.1-6.7.1-5.2.1 8.7.1-4.3.1-22.2.1 21.6.1 3.8.2-4.7.1-7.5.1 16 .1-14 .1-6.8.1 4.3.1 14 .1-4.5.1-14.7.1 22.2.1-27.8.1 25 .1-1.3.1-.2.1-9.3.1-5.7.1 22.1.1-8.9.1 6.6.1.9.1-9 .1-8 .1 3.9.1-.1.1-7.4.1-6.4.1 4.6.1 16.2.1-3.2.1 3.6.1-15.4.2 20.4.1 2.5.1-10.3.1-7.5.1 11.3.1 5 .1-5.4.1 2.3.1-24.1.1 27.7.1-2.6.1-17.1.1 1.5.1 16.7.1-25.9.1 1.8.1 9 .1 5.6.1-7.9.1 7.5.1 5 .1-15.4.1 5.8.1 3.6.1 15 .1-19.7.1 6.2.1-7.7.1 9.6.1 4.4.1-29.7.1 12.5.2 12.4.1-7 .1 7.9.1-32.9.1 26.3.1-5.6.1 7 .1 5 .1 16.9.1 9 .1-31.9.1 12 .1-7 .1 3.9.1-11.3.1 9.2.1-12.2.1 10.9.1-.5.1 4.6.1-15.4.1 13.1.1-10.4.1 14.4.1 4.7.1-10 .1-11.4.1 19.1.1-8.6.1-7.7.1 5.3.2-.6.1 8.6.1-37.2.1 33.2.1-8.4.1-2.2.1 7.6.1.4.1 18 .1-6.9.1 3.1.1 1.6.1-3.1.1-27.3.1 27.4.1-10.4.1-6.5.1-3.5.1-15 .1 11.1.1 14.5.1-6.3.1 2.4.1 5.4.1-8.3.1-23.9.1 10.8.1 16.8.1-3.6.1 6.5.1-.5.1-4.3.2 14.8.1-1.4.1-12.9.1 6.7.1-4 .1-3.9.1 5.4.1-9.8.1-9.7.1 18.2.1 1.9.1-8.8.1-6.7.1 13.2.1-.1.1-24.9.1 2.8.1 22 .1-5.3.1-13.4.1 18.9.1-.8.1 1.1.1 12.4.1-14 .1-11.1.1 18.5.1-28.8.1 4.7.1 16.7.1-11.1.2 7 .1-3.3.1 8.8.1-27.5.1 5 .1 4 .1 2.3.1-15.9.1 15.4.1 5.9.1 7 .1-10.9.1 9.9.1-7.3.1-8.6.1-2.5.1 7.8.1-.4.1-8.8.1 7.4.1.5.1-6.8.1 1.4.1.7.1-.9.1 6.3.1-29.1.1 23.6.1-12.1.1 26 .1-23.3.2 10.6.1 13.6.1-16 .1-2.4.1-12.3.1 18.9.1-3.5.1-1.1.1-6.4.1 9.8.1-16.2.1 9.6.1 7.7.1 8.3.1-8.5.1 9.1.1-5.5.1-2.6.1 3.3.1.3.1 8.5.1-13.9.1 3.7.1 1.6.1-11.7.1 2.9.1 11.1.1-3.8.1-4.2.1-9.9.1 1 .1 22.2.2-17.4.1-3.4.1-1.3.1 8.4.1 6.7.1 22.1.1-27.5.1 16 .1-8.3.1-2.3.1 15.8.1 0 .1 2.8.1-.9.1-12.3.1-4.8.1 7.3.1 3.2.1-9.2.1 10.3.1-17 .1 19.5.1-14.1.1-6.8.1 6.8.1 6.9.1-3.7.1-5.7.1 10 .1-.1.1-11.1.2 3.8.1 15.3.1-.5.1 5.8.1-19.8.1 12.9.1-23.2.1 11.3.1 2.2.1 13.6.1 2.6.1-31.7.1 16.3.1 19.4.1-21 .1-.6.1-2.5.1 24.2.1-13.3.1-1.7.1-2.2.1 4 .1-1.3.1 13.7.1-14.9.1 28.7.1-19 .1 8.3.1-10.9.1 4.7.1-11.7.1 4 .2 2.8.1-.3.1 13 .1-6.9.1-9 .1 1 .1-5.9.1 8.7.1-13.5.1.6.1-22.7.1 8.5.1 4.2.1 6.5.1-.6.1-12.7.1 28.3.1-2.4.1 9.4.1 5.9.1-12 .1-4.8.1 1.8.1 3 .1 11.9.1-10 .1 6.7.1-12.2.1 6.2.1 15.7.1-8.5.2-9.9.1 3.3.1-13 .1-16.6.1-1.8.1 13.7.1.9.1 1.7.1 10.4.1-23.9.1-1.3.1 10 .1-5.9.1 25.3.1-12.5.1 10.9.1-19.1.1 6.8.1 22.7.1-10 .1 19.5.1-7.5.1 4.6.1 10.6.1-12.5.1-5.1.1 6.3.1-14.5.1 7.1.1-1.4.1-1.1.1 4.8.2-22 .1 17 .1-18.2.1 2.6.1 16.8.1-16.4.1 1.9.1-8.1.1 4.7.1 11.2.1-4.8.1-11.3.1.8.1-11.8.1 13.9.1-14.2.1 23.2.1.2.1-10.5.1-14.1.1 24.7.1-25.4.1 20.1.1-6.8.1 14 .1-17.2.1 9.5.1 3.2.1-3.9.1 7.9.1-1.8.2-13.3.1 27.8.1-28.8.1-7.2.1 42.7.1-4.2.1-23 .1-1.7.1-.1.1 14.1.1-35.1.1 35.1.1-9.7.1-14 .1 7.8.1-5.1.1-12.9.1 8.6.1-3.4.1 4.9.1 6.5.1-18.6.1 18.3.1-4.9.1 10 .1-3.8.1 10.7.1-4.9.1 1.1.1-19.5.1 22.4.1.7.2-1.2.1 12.1.1-6.9.1-7.6.1-1 .1-14.2.1 5.5.1 14.1.1-14.3.1 6.9.1 11 .1-8.3.1-2.8.1-2.8.1 13.4.1 4.1.1-17.1.1 15.9.1-16.2.1 6.1.1 17.3.1-10.7.1 3.1.1-5.5.1 8.6.1-12.3.1-2.6.1 13 .1-6.6.1-5.5.1-2.6.2 6.2.1-.8.1-16.2.1 22.9.1-18.3.1 6.4.1 4.4.1-3.3.1 27.1.1-34.3.1-.2.1 21.8.1-5.8.1-12.2.1 12.1.1-11.6.1 3 .1 18.4.1-2.9.1-6 .1-6.2.1 1.1.1-3.6.1 2 .1 13.7.1-12.6.1 2.2.1-11 .1 1.9.1-.7.1 12 .2-35 .1 26.8.1 3.9.1-9.3.1-6.6.1 14.2.1 10.9.1-15.4.1 5.4.1 19 .1-8.9.1 1.4.1-2.8.1 9.9.1 4.1.1-24.7.1 13.8.1-10.3.1.5.1.2.1 15 .1-1.7.1-4.7.1-16.3.1 22.6.1-19.3.1 3.8.1 2.9.1 3.2.1-18.7.1 18.2.1-13.6.2 7.8.1-26.1.1 12 .1-2 .1-19.6.1 22.2.1 16.5.1-2.7.1-18.6.1 11.8.1.9.1-7.7.1 1.5.1 4 .1-12 .1-3.2.1 3.2.1 3 .1 5 .1-4.1.1 17.6.1-15.9.1 18.9.1-10.4.1-14.7.1 10.7.1-13.5.1 24.9.1-15.1.1 12.2.1 11 .2 8.8.1-1.2.1-18.5.1 21.3.1-.9.1-12.7.1 12.7.1 1 .1-4.5.1-6.8.1 18.3.1-16.1.1.5.1-8.7.1 29.1.1-9.5.1.5.1-24.5.1 12.4.1 13.1.1-8 .1-17.9.1-5.9.1 3 .1 11.7.1 4.1.1-11.3.1-16.1.1 2.6.1.5.1 9.1.1 16.4.2-6.1.1-5.7.1-9.3.1 6.3.1-19.2.1 10.4.1 16.7.1-11.8.1 4.2.1-8.7.1 21.1.1-21.7.1 10.3.1-9.3.1 8.4.1 6 .1 15.7.1-4.6.1-6.8.1 14.1.1-10.2.1-6.4.1-1.6.1-20.7.1 27.4.1-9 .1-9.7.1 18.7.1-4.9.1-.5.1-17.6.2 15.9.1-17 .1 1.7.1 7.6.1-2.7.1 7.7.1-10.8.1-2 .1 5.8.1 21.1.1 6.5.1-19.1.1-2.1.1-8.6.1 8.5.1 2.1.1 8.7.1 2.8.1 8 .1-7.3.1 2.7.1-13.1.1 26.9.1-21 .1-14.5.1 32.7.1-2.3.1-21.7.1-1.3.1-6.7.1 13.7.1 4.6.2 12.2.1-19 .1 16.3.1-6.8.1-6.1.1-16 .1-2 .1-2.2.1-.5.1-2.6.1-17.3.1 17.9.1-1.9.1-10.2.1 25.6.1-19.8.1 3.2.1 7.5.1.7.1-10.8.1 8 .1-2.3.1 9.4.1 17.7.1-5.9.1-3.2.1-8.5.1 3.9.1-1.2.1-5.4.1 37.2.2-15 .1 1.9.1-9.1.1-2 .1 10.3.1-.4.1 6.7.1-23.1.1 11.6.1-29.1.1 13.3.1 12.9.1-2.7.1-3.1.1 19.4.1-12.4.1 13.3.1-.5.1-3.3.1 7.8.1-1.3.1-11.5.1-1.2.1-18.4.1 1.7.1-.5.1 13.2.1 4.6.1-12.5.1 10.2.1-9.1.1 5.6.2-2.1.1 1.1.1 4.8.1-4.4.1 6.7.1-13.6.1-12.2.1 10.6.1-2.2.1 8.9.1-1.1.1 13.1.1-25.1.1-12.4.1 11.9.1-10.7.1 21.2.1-17.5.1 17.2.1-4.3.1-9.3.1 12.7.1 10.6.1 1.9.1-4.8.1-3.6.1 2.7.1 21 .1-4.8.1-20.7.1 13.2.2-13.9.1-2.1.1 16.3.1-7.8.1 2.8.1-22.4.1 8 .1 14.6.1-11 .1-.4.1 3.7.1.5.1 2.3.1-17.4.1 16.8.1-18.7.1 3.8.1-2.2.1 4.8.1 1.8.1-2.6.1 8.2.1 5 .1-15.2.1 16.8.1-6.1.1-8.9.1-1.6.1 19.6.1-20.6.1.1.1 14.5.2 4.9.1-7.5.1-14.6.1-7.2.1 25 .1 2.4.1-7.2.1 7.8.1-3.7.1-11.5.1 18.5.1-8.4.1 4.2.1 7.5.1 10.5.1-19.1.1 14.9.1-18.2.1 3.5.1 10 .1-8.1.1-10.4.1 12.5.1-10.7.1 4.5.1-3.9.1 4.8.1.8.1 10 .1-13.7.1-11.7.2 16.7.1-10.3.1 1.6.1-13.7.1 18.2.1-23.2.1 2.6.1 6 .1 7.1.1 13.6.1-9.5.1-2.5.1 6.4.1-.9.1 14.7.1-11 .1-1.1.1 4.4.1-6.9.1-.5.1 23.5.1-15.8.1 12.2.1-6.6.1 2.3.1-8.9.1 6.2.1-8.1.1 5.2.1-7.5.1 25 .2-9.5.1-23.6.1-.7.1-6.4.1 14.8.1-2.1.1.4.1-2.7.1-1.3.1-.5.1 13.6.1-16.3.1-2.5.1 14.4.1.5.1-12.9.1-17.7.1 26.6.1 7.3.1-9.3.1-5 .1-21.5.1 33.7.1-2.4.1 8.8.1.6.1-5.1.1-10.3.1 21.8.1-15.4.1 2.1.1-13.7.2 16 .1 1.7.1 6.7.1-12.5.1-.2.1-3.3.1-11.8.1-11 .1 31.7.1-9.8.1 7 .1 2 .1-14.5.1 9.8.1 3.5.1-10.9.1-2.5.1 12.7.1 3.4.1-10.9.1 8.8.1-5.6.1 4.4.1 18.3.1-8.5.1-16.3.1 4.9.1 13.1.1-7.3.1-8.1.1 16.1.2 4.4.1-8.9.1 16.6.1 11.5.1-15.5.1-2.6.1-8.9.1-4.8.1 15.9.1-12.3.1-2.4.1 10.1.1 7.4.1-20.6.1 2.9.1-.2.1 11.2.1 12.1.1-7.9.1 9.2.1-9.2.1-10 .1-10.1.1-6.9.1-1.8.1 17.8.1 4.6.1-27.8.1 8.8.1-4.5.1 3.2.1-6.6.2 8.2.1-3.7.1-4.7.1-7 .1 3.3.1 4 .1 1.7.1-1.3.1-12.6.1-11.3.1 29 .1-7.4.1-11.9.1 36.8.1-35.5.1 11.9" fill="none" stroke="#000000" stroke-width="0.5" stroke-opacity="1" stroke-linejoin="round" clip-path="url(#cE)"/>
<path d="M224.4 470.5l.1-8.9.1 25.2.1-5.4.1-22.3.1 10.4.1 12.5.1-5.2.1 7.1.1 2.6.1-7.3.1 1.4.1 3.1.1-10.7.1 21.8.1-11.7.2 17.4.1-32.3.1 25.1.1-7 .1 6 .1-13.7.1 5.7.1-19.7.1 20.2.1-11.7.1 10.8.1-5.5.1 13.6.1-6.7.1-17.7.1 26.2.1-14.7.1-7 .1-1.1.1-7.2.1 11.8.1 9.5.1 1.6.1-7.1.1-7.8.1 17.3.1 2.5.1 14 .1-8.1.1 21.4.1-33.3.1 12.7.2 4.4.1-4 .1 0 .1-3.3.1 23.1.1-5 .1-18.6.1 13.3.1-5.7.1-6.6.1 8 .1-1.5.1 2.6.1-.3.1-15.4.1 18.4.1-6.6.1 9.8.1 5 .1-8 .1-6.5.1 8.1.1-11 .1 8 .1-4 .1 6.4.1-10.7.1-4.7.1-3.7.1 11.5.1-2.3.2 4.2.1-7.8.1 5 .1-15.5.1 14.8.1.5.1-.4.1-18.1.1 11.3.1-8.5.1 9.7.1 3.4.1-11.5.1 12 .1-1.6.1 7.2.1-1.3.1-18.4.1 14.2.1 9.9.1-27.5.1 14.7.1 2.5.1 6.4.1-4.9.1 2.2.1 1.4.1-9 .1 7.5.1-3.3.1 18.1.1-13.4.2 8.8.1-3 .1-8.1.1 14 .1-10.5.1-6 .1 17.2.1-8.1.1-15.1.1 14.7.1-5.7.1-18.3.1-1.1.1 13.7.1-11.4.1 14.3.1-16.3.1 27.6.1-26.4.1 4.1.1 2.3.1-1.3.1 5.9.1-1.7.1.6.1-6.4.1-8 .1 16.1.1-12.6.1-1.2.1 12.8.2-6.2.1 7.1.1-11 .1 15.2.1 10.6.1-16.4.1-2.8.1 7 .1 19.6.1-10.8.1-4.9.1-2.7.1-.6.1 8.5.1-11.5.1 20.4.1 4.3.1-22.1.1 9.7.1-20.6.1 30 .1-4.2.1 8.7.1-23.6.1 19.8.1-9.2.1-13.1.1 22.8.1-1.6.1-4.5.1-15.7.2-4.7.1-1.5.1 13 .1 3.1.1-15 .1 10.7.1-9.8.1-12.2.1 16.2.1-6 .1-9.5.1-3 .1 27.7.1-12.3.1 2.8.1-2.7.1 3.4.1-16.9.1 13.1.1-14.3.1 20.4.1-15.7.1 5.3.1 12.7.1-14.7.1 9.9.1-3.5.1 16.5.1-24.6.1-1.5.1 12.4.1-5.2.2-.6.1-9.7.1 12.4.1 4.8.1-19.8.1 15.9.1 2.9.1 8.2.1 4.4.1-25.3.1 10.8.1 7.3.1-10.1.1-2.2.1 7 .1-18.1.1 14.7.1-20.8.1 11.7.1-4.9.1-18.7.1 14.6.1-7.3.1 3.5.1-.6.1-20.7.1.3.1 7.7.1-4.8.1 14.1.1 4.7.2-4 .1 16.2.1-25.6.1 16.8.1 5.9.1 4.6.1-6.3.1 5.6.1-12 .1 7.5.1 1.4.1 5.7.1-5.6.1-9.4.1 6.3.1 4.9.1-20.7.1 28.9.1 1.5.1 12.3.1-6.4.1-8.7.1 10.6.1-11.4.1 2.8.1 2.3.1 12.7.1-11.8.1 6.9.1-23.2.1 19 .1-2.1.2 2.1.1 10.7.1-29.9.1 7.1.1 11.9.1-29.3.1 9.3.1 16.6.1-10.4.1-6.7.1 1.2.1 2.9.1-15.7.1 15.3.1-5 .1 23 .1-20.6.1 6.1.1 0 .1-9.2.1 2.7.1 15.2.1-11.6.1 0 .1-14.7.1 17 .1 1.5.1-5.4.1 2.8.1 7.4.1-16.2.2 28.8.1-7.8.1-13.4.1 5.4.1 1.4.1-8.6.1.6.1-15.5.1 6.3.1.2.1 2.1.1-.7.1 21.6.1-8.1.1-1 .1-7.4.1-15.1.1 39.1.1-17.1.1-.9.1 7.1.1-24.3.1 24.5.1-14.5.1-2.4.1 12.6.1-1.5.1-16.7.1-2.2.1 7.7.1 10.5.1-31.2.2 23.4.1.6.1-2.7.1-7.5.1 7.3.1 12.5.1 11.9.1-4.7.1 10.6.1-16.7.1 2.1.1 6.8.1-6.4.1-5.7.1 6.2.1 7.1.1-3.5.1-7.6.1-1 .1-6.8.1 6.8.1-6.7.1-4.7.1.2.1 11.7.1-19.6.1 19.6.1-3 .1-2.7.1.2.1 12.4.2-23.9.1 16.2.1-6 .1 14.4.1-7.3.1 8.1.1-4.7.1-18.9.1 13 .1-10.6.1 25.4.1 4.4.1-16.5.1 9.7.1 5.2.1-14.7.1 17.8.1-13.5.1 24.2.1-30.7.1 13.3.1-8.8.1 10.6.1-7.8.1 3 .1-3.7.1 2.2.1 14.8.1 6.7.1.3.1 9.6.1-2 .2-8.5.1-13.4.1-16.2.1 13.8.1-20.3.1 16.6.1-.3.1 13.5.1-8.3.1-6.3.1 13.7.1 3.3.1 12.6.1-10.4.1-4.8.1 14.6.1-12.8.1-.4.1-2.1.1-11 .1 5.2.1 1.6.1-17.6.1 17.2.1-3.3.1.5.1-4.6.1 6.7.1-7.6.1 3.4.1-15.6.2 5.4.1 22.1.1-10.5.1 3.2.1 11.1.1-11.9.1-11.3.1-13.8.1 2.2.1 3.7.1 10.8.1-10.2.1-2.3.1 10.8.1-.6.1-4.9.1 18.2.1-3.7.1 9.8.1-10.1.1 5.9.1 10.3.1-20.6.1 16.1.1-8.8.1-15.5.1 4.1.1-5.6.1 13 .1 1.5.1 4.6.1.2.2-1.5.1 12.1.1-10.8.1-4.5.1 1 .1-2.8.1-.6.1 4.5.1 1.9.1-2.5.1-2.8.1 17 .1-13.8.1 6.6.1-11.1.1 2.5.1 1.6.1-2.8.1-13.5.1 3.5.1 13.1.1.9.1-6.3.1-7.2.1 7.6.1-7.2.1 14.1.1-8.2.1 2 .1-1.3.1-.5.2-.6.1-8.1.1 7.5.1 3 .1-7.5.1.8.1 9.1.1-8.1.1 10.9.1-21.9.1-6.3.1 36.8.1-3.7.1-6.9.1 12.2.1-5.1.1-11.8.1-1.1.1 6.9.1 6.1.1-5.5.1 13.5.1 14.6.1-17.1.1-4.9.1 2 .1 10.1.1-11.4.1-12.5.1 21.4.1-17 .2 2.1.1 14.4.1-18.1.1 22.5.1-13.9.1-3.6.1 6.1.1-15.4.1-2.7.1 3.9.1 18.3.1-9.7.1 11.4.1-19.3.1.5.1-7.4.1 15.1.1-12.3.1 11.5.1 16.9.1-28.3.1 9.2.1-8 .1 9.5.1-11.3.1 10 .1 21 .1-21 .1 2.1.1-14.3.1 10 .1 2 .2-6.1.1-.1.1-4.7.1-2.8.1 14.4.1-1.3.1-2.8.1 5.8.1-12.4.1-10.2.1 6.7.1 12.1.1-13.2.1 2.1.1 4.1.1.9.1-2.2.1 3.7.1-5.5.1 10.6.1.4.1-10.3.1-5.6.1.7.1.6.1-.6.1-6.5.1 5.3.1-5.7.1 18 .1 11.4.2-18.6.1 3 .1-6.6.1 28.4.1-15.5.1-1.1.1 8.6.1-16.9.1 5.1.1 10.4.1-23.7.1-4 .1 3.6.1 7.5.1 16 .1-11.4.1-6.6.1-12.7.1 19.1.1 5.2.1-6 .1 3.4.1-18.6.1 1.2.1 13.1.1-14.8.1 13.4.1-6.3.1 9.8.1-13.1.1 9.4.1-4.1.2-14.9.1 18.3.1-.1.1-15.4.1 11.5.1-6.8.1 5.9.1-1.5.1 15.6.1 6.3.1-37.4.1 34.9.1-20.6.1-4 .1 16.5.1 10.6.1-20.1.1 19.7.1-2.8.1 17.3.1-.6.1-2.8.1-11.6.1-5.7.1 10.3.1 4.1.1-11.8.1-3.7.1 9 .1 13.4.1-2.1.2-29 .1 5.5.1-.9.1-4.6.1 3 .1 4.7.1 11.3.1 5.7.1-18.5.1 6.7.1-6 .1-6.8.1 7.8.1-17.5.1 4.5.1 16.3.1 5.7.1-15 .1 5.2.1-10 .1-2.7.1 1.1.1-7.5.1 15.8.1 1.9.1-5.6.1 8.7.1-7.6.1-16.7.1 28.6.1-9.9.1-16.8.2 6 .1.9.1-.1.1 7.5.1 22.1.1-15 .1-22.9.1 8.2.1 2.3.1-12.6.1 6.6.1 19.9.1-13.3.1 9.4.1 10.1.1-17.4.1 11.2.1-12.8.1 1.4.1 6.3.1 10.1.1 1.2.1 3.5.1-16.1.1 13.4.1-18.1.1 18.6.1-13.5.1 11.9.1-14.8.1 14.3.2-15 .1.9.1 2.8.1 9 .1 7.8.1-29.3.1 27.3.1-14.3.1-8.8.1 10.5.1-2.5.1 1.8.1 1.7.1-5.1.1 1.6.1 10.7.1-14.4.1 6.6.1-12.1.1 1.6.1-2.8.1 6.9.1-7.9.1 15.8.1-6.9.1 2.9.1-2.4.1-1.3.1 6.4.1 6 .1 3.7.1-2.9.2-4.6.1-2.5.1-9.6.1 16.2.1-10.1.1 2.1.1 1.7.1-9.8.1-.4.1 17 .1-3.4.1-4 .1-6.9.1 3.5.1 25.1.1-22.8.1-19.6.1 14.3.1 8.2.1-4.4.1 5.2.1-13.3.1 35 .1-3.1.1-.4.1-2.3.1-2.1.1-7 .1-10.9.1 12 .1-14.1.2 13.7.1-7.1.1 5.7.1 10.9.1-6.8.1-6.1.1-23.5.1 23.4.1-2.6.1-8.5.1 2.5.1-4.5.1 19.1.1-1.3.1-15.6.1-15.8.1-6.4.1 18.4.1 7.1.1-10.4.1 14.1.1-10.1.1-1.3.1-9.1.1 14 .1-6.5.1-3.8.1-2.6.1 4.1.1 6.3.1-6.7.2-1.5.1-7.2.1 13.9.1 3.4.1-23.7.1 11 .1 17.2.1-7 .1-4.3.1-19.8.1 12.2.1-16.5.1 20.6.1 9.2.1-14 .1 2.1.1-17.4.1 13.5.1-13.7.1 17.4.1 17.4.1-22.1.1 4.8.1-2.5.1-1.4.1.4.1-7 .1-2.8.1 13.3.1-8.1.1 16.9.1-25.6.2 26.4.1-9.1.1 9.4.1-11.7.1 15.9.1-8.5.1-19.9.1 16.5.1-1.4.1 14.6.1-16.8.1 6 .1 3.8.1-7.5.1-15.5.1 27.4.1-11.6.1 22.7.1-2.9.1-18.7.1 13.8.1-6.2.1 1.3.1 1.8.1-9.3.1 19 .1-17.8.1.1.1-2.5.1 21.3.1-8.3.2 1.1.1.5.1-17.9.1 11.1.1 9.2.1-13.5.1.5.1 3.4.1 7 .1-13.7.1 6.3.1 3 .1-15.1.1 4.5.1 4.5.1-1.5.1 8.3.1-1.4.1-6.3.1 2.1.1-19.5.1 20.9.1-6.6.1-7.4.1 18.8.1-2.7.1 2.9.1-28.6.1 24.5.1-2.9.1-8.6.1 11.4.2-13.6.1-4.3.1 23.4.1-8.8.1.3.1-8.1.1 3.1.1 5.4.1 0 .1 1 .1 14.7.1-6.4.1-7.8.1-10.9.1 6.7.1-4.8.1 2.3.1 8.9.1 10.5.1-11.5.1-2.4.1 1.8.1-10.9.1 18.1.1-12.8.1-5 .1 30 .1-21.1.1 18.2.1 5.1.1-17.4.2 14 .1-16.8.1-1.1.1-1.7.1 9.3.1 17.4.1-15.9.1-1.6.1 11.4.1-5.3.1-11.5.1-3.2.1-6 .1 16.6.1-9.7.1 3.8.1 2.2.1-8.4.1 13.5.1-7.9.1-7.5.1 7.8.1-10.3.1-.3.1-2.8.1-1.6.1 1.4.1-1.3.1 30 .1-24.3.1.8.1 9 .2-1.3.1-17.7.1 14.3.1 5.8.1-7.7.1 9.5.1 2.2.1-10.2.1-5.8.1 3.3.1 5.8.1-5.2.1 9.6.1-15.3.1-8.1.1 27.5.1-8 .1-12.6.1 13.1.1 21.1.1-17.8.1 11.4.1-24.9.1-2.8.1 5.6.1 53.2.1-33 .1-3.2.1-8.8.1 6.9.1 0 .2-3.6.1 8.2.1-6 .1-6.1.1 7.8.1-3.5.1.5.1-4.8.1-11.1.1 21.4.1-5 .1-3.5.1-5.3.1 6.6.1.7.1 4.5.1-3.3.1.1.1-3.3.1 5.3.1-7.8.1 5 .1 3.8.1-1.3.1 2.9.1-3.6.1 5.5.1 5 .1-4.8.1-1.4.1-.4.1 7.8.2-7.9.1-9.9.1 17.6.1-13.6.1 15.1.1-11.5.1 4.8.1-8.2.1-3.9.1 15.4.1-11.1.1 5.9.1 13.8.1-6.7.1.9.1-7.2.1 14.9.1-17.7.1 23.3.1-2 .1.2.1-12 .1-9.5.1 7.4.1.7.1-2.3.1 10.1.1-17.8.1 28.5.1-3.5.1-16.4.2 13.2.1-4.6.1-22.4.1 4.4.1 24.9.1-22.3.1 6.3.1 5 .1-3.1.1 5.9.1-7.9.1 21.6.1-17.7.1-.4.1 12.2.1-5.9.1-3.1.1-6.1.1-4.8.1 3.4.1 14.2.1-22 .1 9.4.1-7.8.1 4 .1-9.2.1 11.9.1 6.4.1-2.6.1 4 .1-4.9.1-.9.2-7.3.1-.4.1 3.9.1 1.3.1 13.8.1-12 .1-7.7.1 23 .1 3.5.1-27.5.1 16.4.1-2 .1 7.6.1 1.5.1-7 .1 4.3.1-3.1.1-27.8.1 20.2.1 4.6.1-24.2.1 10.3.1-14.2.1 1.4.1 11.4.1 3.7.1-1.1.1-7.3.1 15.2.1-12.5.1 3 .2 10.8.1-12.6.1-2.5.1-1.4.1-8.4.1 22.7.1-2.1.1 9.6.1 11.4.1-13.8.1 8.4.1-5.1.1-1.1.1-14.3.1 18.9.1 1.5.1-12.9.1-15.7.1 8.7.1-.6.1 15 .1-4.7.1-10.9.1 10.4.1-31.1.1 12.6.1-5.9.1 21.4.1-.7.1-9.9.1-13.5.2 15.5.1-4.6.1-1.9.1 12.8.1-10.5.1 11.1.1-17.2.1 9.9.1-11.7.1 20.2.1-26.2.1 4.1.1-2 .1 16.1.1 6.8.1-5.6.1-2.9.1-16.7.1 9.9.1 18.8.1-7.4.1-2.7.1-6.6.1-1.6.1 4.3.1 15.9.1-11.4.1-9.1.1 13.4.1-14.4.1 7.6.1 1.8.2 8.7.1 1.1.1-9.5.1 4.4.1-5.9.1 19.1.1-5.3.1-17.3.1 18 .1-5.1.1-12.2.1 5.4.1 9 .1-30.7.1 16.6.1 6.6.1-14.3.1-3.6.1-2.1.1 11.4.1 9.3.1-21.9.1.5.1 23.4.1-9.2.1.2.1 9.3.1-15.6.1-8 .1 14.3.1-5 .2-9.9.1 17.6.1-9 .1 9.2.1 6.2.1-9.1.1 19.5.1-17.7.1 24.5.1-3.3.1-28.3.1 10.1.1 14.4.1 2.4.1-2.3.1-16.5.1 23 .1-11 .1.7.1 8.5.1-16.1.1 7.5.1-3.3.1 4.3.1-5.2.1 20.6.1-25.5.1 18 .1-30.3.1 15.5.1-2.7.1-3 .2 9 .1.9.1-8.5.1 3.3.1 18 .1-11.8.1 16.4.1-1.9.1-13.5.1-9.2.1 9.9.1-5.8.1-3.8.1 15.6.1-4.4.1-14.1.1-8.8.1 23.9.1-5 .1-7.8.1-21.9.1 21.5.1 13.3.1 1.3.1-6.1.1-20.7.1 11 .1 5.1.1 3.1.1-2.3.1-5.5.2 13.9.1-17.5.1-5 .1 5.3.1-.3.1 4.2.1-.3.1-6.3.1 22 .1-3.1.1 2.7.1-6.5.1-15.1.1 17.8.1-31.3.1 4.1.1 20.4.1-4.8.1-8.4.1 17.7.1-19.3.1 38.8.1-17.9.1 1.9.1 4.1.1-16.8.1 3.8.1-5.6.1-1.2.1-2.8.1 13.8.1-7.4.2-13.5.1 17.6.1 16.1.1 4.9.1-6.6.1-32.2.1 7.4.1-.9.1 24.5.1 6.1.1-1.2.1-4.1.1-7.5.1 29.7.1-23.7.1-1.3.1 4.3.1 0 .1-10.9.1 8.5.1 10.3.1-8.9.1-8.2.1-8.7.1 4.8.1-24.3.1 21 .1 1.1.1 5.6.1-12.1.1 4.8.2-7.5.1 21.8.1-10.2.1-5.8.1.9.1 0 .1 6.5.1-16.4.1 23.6.1-8.8.1 1.6.1 23.5.1-18.4.1-7 .1 5.4.1-3.5.1 12.4.1-16.5.1 8.8.1-3.9.1-6 .1-5.7.1 1.3.1 8.9.1 6.2.1-10.5.1 9.7.1-13.3.1 12.2.1-13.7.1 27.4.1-16.7.2-13.4.1 6.5.1-.6.1-8.7.1 2 .1-7.3.1-1.5.1 26 .1-12.3.1-9.1.1-7.2.1 17.7.1-12.8.1-9 .1 9.2.1-6.1.1-11.3.1 29.7.1-7.6.1-3.2.1-2.9.1 14.1.1-1.3.1 5.7.1-9.9.1 1.6.1-.6.1-14.1.1 25 .1-31.5.1 22 .2 8.2.1 3.7.1-8.5.1-6.4.1-5.7.1 6.2.1 10 .1 5.6.1-3.7.1-3.2.1.8.1-6.1.1-17.1.1-7.9.1 29.5.1-9.4.1-5.5.1 15.3.1-6.7.1 13.1.1 1.4.1 4.2.1-17.4.1 15.7.1-6.7.1-8.6.1-6.1.1 15.7.1 1.3.1-10.2.1 14.7.2-18.2.1 1.9.1 6.3.1 5.9.1-18.3.1 11.4.1-13.4.1 6 .1 3 .1 16.8.1-16.4.1 1.7.1 1.1.1-9.7.1 10.6.1 11.1.1-13 .1-8.5.1-12.4.1 8.4.1 19.5.1-12.2.1 4.1.1 4.5.1-12.9.1 16 .1-20.1.1 24.3.1-26.4.1 7.8.1 19.1.1 7.3.2-20.1.1-.2.1-5.5.1-2.4.1-17 .1 18.5.1-12.2.1 3 .1 5.8.1-5 .1 23 .1-21.9.1 1 .1-.5.1 17.5.1-7.9.1-4.8.1-2.5.1 25.1.1-23.3.1-7.6.1 14.9.1-10.6.1 16 .1-7.2.1-3.5.1 9 .1-4.4.1 15.7.1-21.4.1 13.5.2 20 .1-24.6.1-14.8.1 18.3.1-8.6.1 16.9.1-14.1.1 9.3.1-4.1.1-.6.1-13.6.1 17.9.1 11.8.1-9.1.1-.4.1-4.5.1-15.6.1 7.8.1 11.6.1-11.8.1 12.6.1-21 .1 10.4.1 1.7.1.5.1 8.1.1-10.8.1 2 .1 3.5.1-6.7.1 9.1.1 1.7.2 6.4.1-14.1.1 15.9.1-3.5.1-2.9.1-24.7.1 3.8.1-8.1.1 2.7.1 14.7.1 15.8.1-9.8.1-12.2.1 8.9.1 2.7.1-26.8.1 20.3.1-.7.1-9.6.1-11.3.1 29.9.1-30 .1 26.8.1-12.1.1-6.6.1-5.6.1-3.7.1 9.6.1 3.5.1.2.1-1.2.2-12.5.1 39.5.1-22.4.1-12.8.1 2.5.1-6.4.1 22.3.1-6.1.1-11.6.1 10.2.1 3.9.1-16.5.1 11.5.1-3.8.1-4.1.1-4.6.1 17.1.1 1.8.1 5.6.1-17.7.1 9.3.1-9.7.1-14 .1 13.7.1 4.1.1-6.3.1-9.3.1-2.8.1 15.9.1 8.2.1-21.6.1 7.3.2 7.2.1 8.7.1-1.5.1-2.7.1-10.3.1-11.4.1 9.1.1 9.4.1-3.4.1 10.4.1-9.2.1-.6.1 2.4.1-12.2.1 26.4.1-26.5.1 3.6.1-8.5.1 19.4.1-3.2.1-2.8.1 5.3.1-7.7.1-3.9.1 2.5.1 12.4.1-7.1.1 12.8.1 11.5.1-11.1.1-.5.2-7.4.1 11.1.1 15 .1-26.9.1 1.2.1 5 .1 7.3.1-13.5.1-6.4.1 8.1.1-11.9.1 3.3.1-15.9.1 6.9.1-1.1.1 11.8.1-4.4.1 23.5.1-16.3.1-2 .1-2.8.1-3.4.1 31.6.1-29.1.1-3.6.1-6.6.1-9 .1 28.1.1-13.6.1 4.9.1-14 .1 5.1.2 9.6.1 11.9.1-7.7.1-2.2.1 6.8.1 8.4.1-5.9.1-2.5.1-7.7.1 9.2.1-16.3.1 14 .1-15.3.1 4.4.1 24.5.1-12.7.1-5.4.1-6.7.1-.2.1 14.2.1-16 .1 3.7.1 11.7.1-16.3.1 6 .1-4 .1 8.3.1-8.9.1 8.6.1 1.1.1-12.1.2 7.7.1 4.9.1-8.1.1 27 .1-22.1.1 10.7.1-2 .1 10.1.1-10.6.1-2.7.1-4.5.1-11.5.1 16.9.1-9.1.1 4.8.1 1.3.1-4.5.1-15.8.1 28.1.1-3.1.1-10.9.1-10 .1-7.8.1 27.7.1-20.7.1-18 .1 33.3.1-7.4.1 1.9.1.3.1-1.6.2 7.3.1 7.1.1-3.7.1-.2.1 27.6.1-19.1.1 4 .1.9.1-9 .1-3.2.1-.1.1-2.5.1 19.8.1-9.9.1-3.5.1-5.7.1-3.7.1 1.3.1.3.1-11.4.1 11.5.1 13.5.1-14.9.1.5.1-7.5.1 15 .1-6.1.1-35.8.1 7.6.1 14.1.1 19 .1-26.4.2 18.9.1 12.3.1-25.9.1 3.3.1-19.4.1 20.1.1-5.3.1 15.1.1-2.1.1-16 .1 10.2.1 3.3.1 13.2.1-25.2.1-.8.1-2.1.1 16.1.1-20.4.1 9.6.1 13.7.1 7.7.1-10.8.1-.2.1-6.3.1 22 .1-13.7.1-11 .1 25.1.1-14 .1.5.1-10.2.2 2.1.1 11.6.1-.4.1-6.4.1 3.9.1 3.1.1 13.1.1-3.2.1-4.2.1 2.7.1 12.8.1-9.3.1-12.1.1-5.4.1 10.7.1 11.3.1-12.9.1 1.7.1 3.1.1-6.6.1 4.6.1-7.3.1 10.7.1-10 .1.9.1 6.1.1-4 .1 6.5.1 2 .1 13.3.1-11 .1 1.2.2 9.8.1-22.3.1 17.9.1-15 .1 9.8.1-20.8.1 16.6.1-26.3.1 15.2.1 8.4.1 11 .1-15.7.1-.1.1 5.4.1-5 .1-4.3.1-10.5.1 22 .1-16.9.1 1.8.1 12.1.1-13.9.1 7.8.1-10 .1 17.3.1 2.9.1-10.2.1.9.1-19.2.1 17.8.1-11.2.2-.1.1 1.3.1-6.7.1 25.3.1.1.1-11.6.1 11.5.1-22.1.1 4.9.1 27.9.1-11.3.1-2.7.1-7.1.1-5.1.1-9.8.1 21.7.1-5 .1-3.4.1-6.6.1 13.5.1-10.9.1 10.1.1-9.5.1 1 .1 9.9.1-3.1.1-3.1.1-8 .1-12.9.1 12.3.1-21.3.1 21.5.2-9.3.1 5.7.1-16 .1 7.6.1 6.8.1-4 .1-4.2.1 7.5.1-6.7.1.5.1 4.8.1-7.9.1-2.2.1-1.7.1 15.7.1-17.3.1 5.3.1 2.5.1 8.7.1 4.8.1-26.7.1-2 .1 15.8.1 2.2.1-4.7.1 4.1.1 9.2.1-2.1.1-16 .1-6.2.1 2 .2 7.4.1 5.2.1.8.1-14.9.1 21.7.1-19.9.1 13.2.1 3.9.1-3.7.1-1.8.1-2.5.1 12 .1-5 .1-4.4.1 7 .1 7.7.1-20.8.1-5.6.1 20.5.1-21.3.1 3 .1-4.2.1-1.6.1 3.5.1 1.3.1 3 .1 1.8.1-2.5.1 15.5.1-19.2.1 3.9.1-10.4.2 7 .1 20.9.1-13.2.1 8.3.1-14.1.1 6.4.1 6.5.1-15.9.1-1.7.1 25.9.1-8.7.1-5.8.1.8.1 10.2.1-3.6.1 8.2.1-7.5.1 3 .1 4.3.1-9.5.1 2.6.1-3.6.1 1.1.1-4.8.1-3.5.1-13 .1 7.2.1 3.8.1-.4.1-5.8.1 4.3.2-16.9.1 9.3.1 2.1.1 14 .1 0 .1-8.8.1 5.2.1-23.3.1 13.4.1-6.6.1 15.6.1-7.8.1-.8.1 4.3.1-9.8.1 1.8.1-3.4.1 21.3.1-9 .1-5.1.1 5.7.1-2.7.1-9.2.1 8.2.1-11.3.1 4.4.1-2.3.1 4.2.1-1.9.1 5.9.1-3.1.1 27.3.2-35.3.1 13.3.1 4 .1-10.5.1 8.6.1-16.4.1 22.6.1-23.3.1 22.1.1 2.5.1-20 .1-12.3.1-.5.1 7.7.1 4.5.1 8.4.1-18.5.1 28 .1 1.8.1 3.4.1 12.6.1-30.2.1 7.8.1 8.2.1-3.4.1-15.5.1 21.1.1 9.2.1-7.4.1-.6.1-9.7.2-3.2.1 3.7.1 10.2.1-5.4.1 12.7.1-22.3.1 17.5.1-12.2.1 26 .1-18.6.1 4.2.1-6.2.1 19.8.1 5.1.1-8.7.1 4.5.1 4.4.1-9.8.1-4.4.1 12.5.1 1.1.1 7.5.1.7.1-24.3.1 0 .1-6.9.1 6.6.1 8.6.1-10.6.1 16 .1.6.2-8.1.1 2 .1.4.1 1.5.1-2.9.1 4.4.1-9.2.1-14.1.1 25.9.1-8.6.1-14.4.1 3.7.1 29.6.1-22.6.1-5.8.1-7.6.1 11.2.1 4.9.1-.8.1-1.8.1 1.1.1 8.4.1-3.5.1 10.6.1 6.3.1-13.6.1 12.7.1-4.1.1-5.7.1 7.4.1-24.8.1 15.9.2.6.1 6.4.1-2.5.1-15.1.1 9.8.1 1.9.1 4.2.1-11.3.1 9.4.1-4.6.1-1.6.1-9.4.1 19.5.1-10.6.1 3.1.1 6.3.1-10.5.1 4.9.1-4.4.1-21 .1 17.2.1 2.6.1 3.5.1-20.1.1 8.8.1-.4.1 2.4.1-4.5.1-4.2.1 7.4.1 12.9.2-14.9.1-7.1.1 11.8.1 8 .1-11.4.1-13.3.1 23 .1 1.7.1-17.6.1-5.8.1 1.3.1 1.2.1 24.1.1-6 .1-2 .1-15.6.1 13 .1 20.8.1-16.2.1-5 .1 13.6.1 9.6.1-16.1.1 12.6.1-8.9.1-9.1.1-4.4.1 8 .1-13.7.1 13.3.1 2.1.1-3.8.2-2 .1 14.7.1-10.5.1 7.2.1-8 .1 6.2.1.6.1-12.3.1 20.3.1-14.1.1 13.5.1 8 .1-14.6.1-9.3.1 9.5.1 17.6.1-19.9.1 14.7.1-9.8.1-10.3.1 12.7.1-11.6.1 20.2.1-14.8.1 4.1.1 4.1.1 3 .1-13.9.1 3.9.1 5.6.1 5.1.2-.2.1-22.6.1 4 .1 1.6.1 6.3.1-18.5.1 10.7.1.9.1-3.1.1 19 .1-20.5.1-3.7.1 25 .1-21.1.1 2.9.1 4.1.1 17.1.1 2.2.1-11.8.1-6.9.1 4.6.1 3.9.1-11.3.1 23.6.1-13.3.1.9.1 10.4.1 9 .1-22.2.1.9.1-1.5.1 13.8.2.1.1-6.2.1-9.4.1-.2.1-3.7.1 19.9.1-26.3.1 20.6.1-6.6.1-14.5.1 8.5.1-2.1.1 8 .1-15.8.1 9.5.1 1.5.1-4.6.1 4.4.1-1.9.1 1 .1 2.8.1.2.1 11.2.1-9.3.1-5.3.1 7.7.1-7 .1 3.2.1-8.6.1 14.6.1-7.2.2-9.6.1 16.7.1-13.6.1 2.8.1 11.5.1 9.5.1 1 .1-6 .1 10.6.1-16.2.1-1.8.1 8.2.1 6 .1 4.1.1-28.1.1 28.9.1-22.6.1 7.6.1-4.6.1-9 .1 4.6.1 12.6.1-2.8.1-20.2.1 15.8.1-10 .1 10.7.1-15.9.1 21.8.1-25.6.1 19.7.1-18.8.2.1.1-9.8.1 26.4.1 4.3.1-20.3.1 7.6.1-5.5.1 18.6.1-20.1.1 11 .1 8.6.1-27.9.1 10 .1-1.5.1 4 .1 10.2.1-12.5.1 12.9.1-12.4.1 26.8.1-5.1.1-11.3.1 22.4.1-28.2.1-6.6.1-7.8.1 13.5.1-8.2.1 24.3.1-9.3.1 2.7.2-7.6.1-3.3.1 21.2.1-15 .1 10 .1-1.3.1 14.3.1-5.5.1-.5.1 2.5.1 1 .1-10.3.1-7.7.1-.5.1 22.3.1-10 .1-12.7.1-4 .1 7.4.1 19.6.1-15.7.1-6.8.1 15.2.1-17.5.1 13.7.1-14.5.1-11.8.1-16.7.1 25.2.1 1.5.1 4.1.2.8.1-17.8.1 10.7.1-14 .1 16.9.1 8 .1-10.1.1 17 .1-11 .1-12.6.1 11.2.1 4 .1 5.3.1-5.8.1.8.1 3 .1-7.5.1 17.4.1 15.6.1-30 .1-16.9.1 17.7.1-6.5.1 15.3.1-1.9.1-18 .1 21.5.1 4 .1-11.7.1-2.1.1 10.2.1 3 .2 11.4.1-17.9.1 6 .1 2.7.1-.7.1-2.6.1-17.1.1 6.5.1 3.2.1-5.4.1 10.3.1-15.3.1 5 .1 3.3.1-4.1.1 2.2.1 25.4.1-13.4.1-2 .1 9.6.1-18.2.1.4.1 3.6.1 17.1.1-21.2.1 7.6.1-10.5.1-1.5.1 7.9.1-3.3.1.4.2-3.9.1 8.8.1 1.6.1-3.6.1 2.4.1-7.8.1-12.2.1 19 .1-2.8.1-.5.1-9.2.1 14.6.1-1.5.1 5.6.1-13.5.1-9.7.1 19.8.1 11.7.1-32.6.1 13 .1-9.3.1-8 .1 5.6.1-6.5.1 11.3.1-7.8.1-4.5.1 4.7.1 1.7.1-11.5.1 24.6.1-8.4.2 24.8.1-15.6.1-6.9.1 12.3.1-.7.1-17.6.1 25 .1-5.7.1-7.6.1-17.8.1 1.4.1 19.9.1 3.6.1-5.8.1 4.3.1-9.9.1 9 .1 3.8.1-8.5.1 27.8.1-4.7.1-11.2.1-3.5.1 18.5.1-18.5.1-14.3.1 7.2.1-4.6.1 14.2.1-10.4.1.8.2-9 .1.2.1 4.6.1-8.7.1 31.6.1-11.5.1 10.4.1-3.7.1-8.6.1 7.2.1-1.2.1-.5.1-18.3.1 5.3.1 5.9.1 14 .1-19.3.1-6.2.1 7.1.1 16.8.1 6.9.1-6.2.1 9.4.1-6.1.1 7.5.1-24.4.1 28.9.1-.1.1 6.8.1-23.8.1 11.1.1-25.3.2 8.7.1.8.1 4.2.1-17.4.1-2.7.1 7 .1 7.5.1-4.7.1-18.1.1 1.8.1 6.2.1 3.3.1-3 .1.8.1 11 .1-10.9.1-1 .1 9.1.1 8.1.1 1.6.1-19 .1 33.3.1-27.4.1 18.1.1-.6.1-13.2.1 18.2.1-24.3.1-3.2.1-6.7.1 17.3.2-6.3.1.4.1-18.9.1 20.6.1 8 .1-6.7.1 9.3.1-1 .1 2.8.1 2 .1 3.8.1-10 .1 10.3.1-13.6.1 15.1.1-1.3.1 10 .1-.2.1-4.4.1-9 .1 1.2.1-3.7.1 8.7.1 3.6.1-14.5.1 20.2.1.5.1-6.9.1 4.1.1-25.1.1 16.5.1 10.9.2-23.3.1-4.4.1 14.2.1-8.2.1 6.6.1-5.8.1-.9.1-6 .1-6.6.1-2.5.1 6.9.1 18.1.1-15.7.1 4 .1-13.6.1 5 .1-8 .1 19.5.1-11.4.1-7.2.1 22.6.1-19.9.1 6.7.1-14.6.1.7.1 4.5.1-4.2.1 1.6.1 13.9.1-10.5.1 14.1.2-7.2.1-1.8.1-.6.1 4.2.1-3.1.1 5 .1-3.1.1 9.2.1-4.4.1 2.7.1 13 .1-19.8.1-20.5.1 4.3.1 9.9.1-4.9.1 24.9.1-20.2.1-3.4.1 15.4.1-16.7.1-8.5.1 14.5.1-29.4.1 21.2.1 8.2.1-1.6.1-21.8.1 17.1.1-4.9.1-5.6.1 3.8.2 3.5.1-3.7.1 7 .1.4.1-23.4.1 9.7.1-4.4.1 5.5.1 3 .1-13.3.1 1.9.1-5.6.1 31 .1-33.3.1 21.9.1-16.2.1 16.3.1-6.5.1-3 .1 24.9.1-2.8.1-22.6.1 10 .1 7.3.1-4.9.1 2.4.1-6.1.1 10.5.1-13.3.1 2.3.1-14.3.2 10.6.1 1.3.1 12.6.1-9.9.1 5.1.1-1.6.1 2.2.1-8.2.1 6.4.1 19.7.1 7.8.1-16.7.1-2.6.1-2.6.1 1.1.1 18.4.1-3.8.1-15.6.1-10.5.1 3.7.1 17.2.1-11.1.1-8.4.1 22.1.1-5.7.1-1.1.1-1.2.1-6.6.1-12.9.1 5.6.1 5.9.2-7.5.1-2.6.1 14.5.1-1.6.1 8.5.1-19.7.1-5.2.1 8.2.1-6.2.1 13.3.1-1.5.1 7.7.1 10.7.1-9.7.1-1.8.1-5 .1-1.7.1.9.1-5 .1.4.1-8.6.1 17.9.1 6.5.1-8.9.1-13.1.1 8.9.1 5.1.1-4.4.1 7.2.1-4.8.1-26.4.1 15.8.2 12.7.1 3.6.1 5.3.1 5.4.1-12 .1 5.1.1 18.9.1-24.4.1 20.4.1-16.3.1-13 .1 13.6.1-3.6.1 11.7.1-7.8.1-2.1.1.8.1 13.3.1-12.6.1-15.5.1 8.2.1-9.4.1-3 .1 12.9.1-8.5.1 1.1.1 4.3.1-3.2.1 3.3.1 18.3.1-16.2.2-2 .1-12.7.1 1.2.1 11.9.1-.2.1-10.6.1 2.4.1 10.1.1 12.7.1-16.3.1-2.8.1 14.9.1-16.1.1 2.2.1 7.7.1-10.2.1.7.1-2.7.1 18.7.1-9.6.1 8.1.1 5 .1-22 .1 16.7.1 1.4.1-18.2.1 22.8.1-31.2.1 35.3.1-7.5.1-13.9.1 23 .2-15.1.1-11.1.1-5.3.1 8.9.1-.4.1 16.3.1-26.3.1 18.1.1-.2.1-6.1.1 7.1.1 11.7.1-17.8.1 9.9.1 2.4.1-21.9" fill="none" stroke="#ff0000" stroke-width="0.5" stroke-opacity="1" stroke-linejoin="round" clip-path="url(#cE)"/>
<path d="M224.4 434.4l.1 11.7.1-7 .1 11.6.1-1.2.1 2.1.1-2.1.1-2 .1-9.4.1 12.5.1 4.1.1-6.7.1-4.5.1 21.9.1-17.5.1 13.6.2-8.9.1 15.1.1-11.5.1-9.4.1 7.5.1.4.1 1.2.1-6.3.1 7.5.1-22.1.1 17.7.1.3.1 20.7.1-23.7.1 14.3.1.1.1 4.1.1-8.4.1-5.9.1 8.5.1-7.1.1 11.3.1-5 .1-7.1.1 4.9.1-8.4.1-3 .1 27.9.1-50.8.1 36.1.1 10.5.1-17.3.2-2.8.1 5.6.1 28 .1-22.1.1-.3.1 8.9.1 3.4.1-10.3.1-1 .1-1.9.1.2.1 24.1.1 3.5.1-9.6.1 9 .1-7.4.1 15.5.1-10.4.1-2.1.1 1.9.1 7.6.1 8.5.1-6.2.1 0 .1 2 .1-3.9.1 8.1.1-4.1.1-27.7.1 17.3.1-2.6.2 8.1.1-18.7.1-1 .1 16.3.1-19.6.1 9.4.1-3.8.1-2.9.1-3.8.1 8.7.1-5 .1 5.1.1 11.2.1-20.6.1 8.5.1 1.6.1-1.4.1 12.9.1-5.7.1 11.9.1-32.5.1 17.9.1-6.3.1 13.3.1 18.5.1-.3.1-20.6.1-22.4.1 11.3.1-4 .1 3.4.1 1.5.2 5.6.1-3.2.1 1.2.1.4.1 9.7.1 2.1.1 12.6.1-29.8.1 13.8.1 4.8.1-5.7.1-12.2.1.2.1.5.1 11.4.1-2.8.1-.6.1-14.6.1 11.5.1 4.8.1 4.3.1-1.5.1-10.9.1 21.1.1-9.7.1-8.2.1 3.9.1-4.9.1 5.7.1-7.7.1 20 .2-22.5.1 17.6.1-6.6.1-9.7.1 1 .1 14.2.1 3 .1-16.5.1-7.5.1 5.2.1 2.9.1-11.5.1 23.9.1-7.5.1-21.4.1.7.1 1 .1 2.3.1 8.8.1 15.2.1-36 .1 23.3.1-26.9.1 12.5.1 7.7.1 10.7.1-7.7.1 3.3.1.7.1-.6.1 12.8.2.4.1 9.2.1 8.2.1-26.4.1-8.6.1-.7.1 21.5.1-8.5.1-11.2.1 10.5.1-6.6.1-11.5.1 15 .1-4.8.1 1.1.1 10.7.1 4.7.1-32.6.1 2 .1-6.6.1 15.9.1-12.3.1 10.3.1-27.4.1 14 .1 10.8.1-2.9.1-10.1.1 30.2.1-3.4.1-8.6.1-6.1.2-4.6.1 14.5.1-.5.1 5.4.1.4.1-8.6.1-13.8.1 9.1.1 8.5.1 4.4.1-10.1.1 2.6.1-3.4.1-3.7.1 23.6.1-39.3.1 12 .1.4.1-14.6.1 5.5.1 20.6.1 1.4.1.1.1-4.3.1-5.2.1-1.3.1 5.6.1 9.2.1-4.6.1 2.4.1-12.6.2 3.8.1 6 .1 13.1.1-35 .1-4.7.1 18.1.1 8.3.1 4.5.1-8.8.1-6.6.1-4.9.1 17.8.1-34.3.1 22.5.1-13.8.1 9.3.1 10.4.1-20.1.1 25.7.1 9.3.1-8.4.1-4.1.1 9.1.1-10.2.1 4.1.1 3.6.1 4.7.1 1 .1-7.1.1-24.3.1 14.1.1-7.4.2-3.3.1-1.9.1 12.5.1.7.1 1.9.1 5.3.1-13.9.1-1.6.1-2.2.1 2 .1 24.9.1-35 .1 29.9.1.1.1-27.6.1 4.7.1 2.8.1 15.2.1 3.4.1-6.5.1-2.8.1-10.7.1 15.1.1-14.6.1 8.6.1-7.4.1 2.7.1-10.5.1-3.7.1-3.3.1 16.5.2-7.1.1-11.9.1 17.1.1-17.8.1 30.7.1-5.9.1-12.2.1 1.5.1 18.7.1-9.9.1-14.1.1 15.7.1 4.1.1-12.6.1 8.6.1-6.5.1-7.9.1 11.2.1-.2.1 1.8.1 12.5.1-21.1.1 28.5.1-12.9.1-5.5.1 5.8.1 16 .1-17.6.1 2.4.1-10.4.1-2.4.1 9.2.2-17.1.1 20 .1-10.5.1 24.5.1-17.9.1-.1.1 7.8.1-9.2.1 9.4.1 14.6.1-5.8.1-26 .1 6 .1 10.7.1 11.5.1-9.8.1 9.6.1-12.6.1-12.8.1 10.6.1-4.4.1 28.6.1.3.1-24.1.1 18.5.1-8.7.1 3.2.1-.5.1-9.1.1-7.7.1 17.2.2-7.7.1-6 .1 6.3.1 1 .1 3.1.1-5.4.1-1.5.1-24.7.1 12 .1 18 .1-11.9.1 2.6.1 3.9.1 10.3.1-9.5.1 13.4.1-15.3.1 6.3.1-18.2.1 3.1.1 6.1.1 1.7.1-8.3.1 11 .1-4.6.1-1.3.1-17.9.1 4.2.1-.1.1 17.9.1-2.6.1-15.7.2 13.9.1-7.9.1 10.4.1-12.3.1 5.2.1-7.5.1 10.7.1-.4.1-8.2.1 12.5.1-13.6.1 14.5.1-.3.1 7.9.1-16.1.1-19.9.1 32.1.1-13 .1 23.8.1-4.4.1 7.6.1-10.5.1-4.7.1 2 .1-2.4.1 13.4.1.6.1-15.2.1 22.9.1-7 .1-4 .2.4.1-5.5.1 8.1.1-13.3.1 19.7.1 5.3.1-25.2.1-10.1.1 4.7.1-8.3.1 1.4.1 1.3.1-6.1.1 2.8.1.1.1-7.7.1 15.9.1-2 .1-5.8.1 35.1.1-24 .1-9.7.1 4.5.1 6.2.1 17.1.1-24.6.1 28.3.1-9.1.1-8.8.1 14.5.1-2.8.1-22.2.2 24.1.1-18.1.1 6.7.1-2.3.1-22.1.1 7.6.1 6.8.1 8.7.1-.2.1-3.3.1-18.6.1-2.7.1 15.3.1-6.8.1-3.9.1 6.5.1 1.1.1-.9.1 9.2.1-7.6.1 12.4.1-1 .1-6.5.1-4.1.1 2.7.1-10.5.1 20.7.1-5.8.1-24 .1 5.9.1 16.7.2 10.6.1-24.6.1 1.6.1 19.6.1 2.7.1-8.3.1-5.3.1-8.7.1 7.1.1-6.9.1 7.6.1-23.2.1 21.5.1 10.6.1-1.3.1-12 .1 7.5.1 5.6.1 9.3.1-8.9.1 18.9.1-34 .1 10.5.1-7.6.1 6.4.1-7 .1 14.1.1 22.8.1-12.1.1.3.1-4.1.2-15.5.1-.2.1 7.1.1-.2.1 20.1.1.6.1-11.3.1-3.4.1-9.1.1-12.6.1 14.8.1 12.4.1-13.7.1-2.3.1 9.3.1-7.3.1-13.3.1 14.5.1 10.5.1-2.5.1 3 .1 9.2.1-23.4.1 8 .1.5.1-9.4.1 9.2.1-6.8.1-4.1.1 5.2.1 20.9.1-3.2.2-3.3.1 4.7.1-4.4.1-3.1.1 3.6.1 7.2.1-3.3.1-13 .1 10.1.1-3.5.1-4.4.1-9.5.1 9.9.1-16.7.1 1.9.1 19.6.1 5.7.1-14.3.1 5.2.1-12.5.1 9.6.1 4.5.1-29.4.1 13.5.1-1.9.1 2.8.1.5.1 8 .1-4.7.1-.9.1 4.2.2 12.6.1-16.9.1 5 .1 1.7.1-13.4.1-4.2.1 31 .1-24.6.1 11.3.1-5.7.1 14.5.1-13.3.1 5 .1 19.6.1-22.1.1 13 .1 11.8.1-16.3.1-10.3.1-6.2.1 5.1.1 21.7.1-3.5.1-16.3.1-3.8.1 13.2.1-8.7.1-13.6.1 16.2.1 14.3.1-17.6.1 8.6.2-3.9.1 13.4.1-10.4.1 3.8.1 12 .1-10.2.1 2.1.1-2.4.1 4.2.1-13.7.1-6.3.1 20.6.1-21.1.1 5.9.1 4.7.1 2.4.1-10.4.1 5.2.1 4.5.1 14.2.1-18.4.1 11 .1-6.3.1-14.1.1 5.9.1 19.8.1-1.5.1 1.6.1.5.1-19.9.1 2.5.2 32 .1-14.1.1-26.4.1 11.5.1-1.7.1 16.7.1.5.1.3.1-5.1.1-.2.1-12.9.1-6.4.1.8.1 10.3.1 5.9.1.3.1-32 .1 8 .1 4.8.1 2.4.1-1.3.1 7.1.1 7.1.1 21.3.1-15.6.1 17.4.1-18 .1 6.1.1-17.6.1 12.7.1-10.3.1-.9.2 16 .1 4 .1 3.9.1-4.1.1-16.3.1-6.7.1 30.6.1-9.6.1-1.4.1-20.5.1 12.2.1-6.4.1 5.7.1-8.5.1 4.5.1-8.9.1 14.6.1-17.4.1 7.6.1 5.6.1-10.8.1 1.4.1 11.1.1-15.4.1 16.6.1 6.3.1-16 .1 4.2.1-16.3.1 14.4.1 2.8.2 8.6.1-12.8.1 2.6.1 4.4.1-17.5.1 8.4.1 13.7.1-8.5.1-4.9.1-12.5.1 3.4.1 9.4.1-5.7.1-4.3.1 6.3.1 8.6.1-17 .1 19.8.1-24.3.1-10.5.1 11 .1 11.7.1-18 .1 5.8.1 13.9.1-13.4.1 24 .1-3.5.1-12.6.1 12.3.1 1.1.1-17.5.2 4 .1 3.3.1-11.8.1 14.2.1 1.4.1-2.3.1-14.5.1 25.7.1-17.5.1 7.1.1-4.2.1.8.1 14.4.1 6.1.1-11.3.1 0 .1-2.5.1 9 .1 16.8.1-14.1.1-2.5.1 3.1.1-12.3.1 17 .1-4.1.1-1.2.1 19.3.1-4.5.1 1.8.1-18.6.1 2.4.2 4.9.1-6.7.1 14.5.1-14.5.1 8.2.1-5.9.1-20.4.1 12.9.1-1.3.1-12.5.1.9.1 14.9.1-17.4.1 12.1.1 3.3.1-15 .1 17.3.1-2.7.1 4.9.1-18.1.1 3.4.1 0 .1 17.7.1-8.3.1-8.2.1 22.6.1-2.6.1-2.8.1 4 .1-22.2.1 2.1.2-17 .1 11.8.1 10.2.1 8.8.1-7.1.1 8.2.1-16.7.1-5.8.1 18.8.1-3.2.1 2.8.1-7 .1 7.6.1-15.9.1.6.1 15.2.1 3.3.1-4.9.1 8.8.1 4.9.1 5.7.1-11.9.1-2.1.1 9.1.1-12.1.1 1.8.1-3.3.1-24 .1 18.3.1-.4.1 14.9.1-4.9.2-12.9.1 12.9.1-12.1.1-20.4.1 19.3.1 4.4.1 1.8.1-30.1.1 16.5.1 11.8.1-1.6.1-5.3.1-3.4.1 15.3.1-8.3.1-3.2.1-9.4.1 30 .1 3.2.1 5.9.1-6.9.1-.7.1 1.3.1 5.5.1-40.1.1 25 .1 4.6.1-7.5.1-.6.1 20.7.1-26.4.2 18 .1-4.4.1-14.8.1 13.1.1 14.8.1-8.4.1-11.8.1 3.5.1 2.8.1 6.7.1 13.4.1-21.8.1 1.7.1 11 .1 2.4.1-4.4.1-6.8.1-22.1.1 4.9.1-10.7.1 4 .1 7.6.1-9.5.1 43 .1-19.7.1-6.2.1 19 .1-9.5.1-3.8.1 4.8.1-.3.1 4.4.2-8.9.1-7.2.1 5 .1 8.6.1-3.2.1-5.9.1 3.2.1 3.5.1-11.2.1-5.1.1 9.3.1-14.2.1 13.5.1-2.7.1-10 .1 7.6.1 16.9.1-20.4.1 11.9.1 2.6.1-6.2.1-3.1.1-1.8.1-7.3.1-2.6.1 18.3.1-31.8.1 7.6.1-8.2.1 13.6.1 11.8.2.4.1-18.1.1 4.3.1-13.9.1 1 .1-3.2.1 3.4.1 10.3.1 8.6.1 7.5.1-29.7.1-12.8.1 33.5.1-10.1.1 8.7.1-13.1.1 13.5.1 1.4.1 8 .1-13.8.1-.6.1-8.6.1 26.8.1 7.2.1-17.8.1-1.1.1-6.4.1-4.1.1 7.5.1-17.9.1 20.1.1-4 .2-12.8.1-1 .1 18.7.1-4.1.1-4.9.1 6.3.1 10.7.1-5.5.1-21.3.1 27.1.1 2.4.1-27.9.1 17.4.1-4.9.1-2.2.1 1.8.1 5.6.1 3.1.1 4.5.1 10.9.1-26.1.1 1.4.1 22.3.1-12.4.1 1.7.1-7.5.1 10.3.1-.3.1-11.9.1 15.8.1-7.3.2 2.5.1-11.7.1-3.9.1 6.6.1 12.1.1-8 .1-17.6.1 10.4.1-16.2.1 1.5.1 10.9.1-6.8.1-2.4.1 3.3.1 14.8.1-10 .1 0 .1-12.1.1-.3.1 32.6.1-32.9.1 24.1.1-7.7.1-9.8.1 21.2.1-21.7.1 2.5.1 6.1.1-17.4.1 22.3.1 3.4.1 2.1.2 4.8.1-31 .1 22.2.1 1.1.1-2.7.1 9.3.1 5.4.1 3 .1-12.8.1 15.6.1-17.4.1 9.7.1 6 .1-6.8.1-1.6.1-3.8.1 12.8.1-1.7.1 4.8.1-24.4.1 4.3.1-2.5.1 3.1.1-5.5.1 28.1.1-9.5.1-10.7.1 5.9.1-16.2.1 25.5.1 8 .2-15.3.1-5 .1-1.6.1 10.2.1-6.9.1-11.1.1 32.8.1-13.7.1-15.8.1-2.3.1 1.6.1 6.8.1 10.8.1-9.6.1 21.5.1-27.9.1 1.8.1 8.2.1-16.6.1 23.6.1-2.3.1-.8.1 3.5.1-19.5.1 2.4.1-6.6.1 13.1.1 1.2.1-2.2.1-23.5.1 36.4.1-1.5.2-14 .1 4.9.1 10.7.1-7.5.1 17.1.1-6.8.1-9.3.1-1.3.1 12.2.1 8.9.1-25.6.1-4.4.1 24.6.1-15 .1-.6.1-5.9.1-1.8.1 10.2.1-20.9.1 5.3.1 10 .1.1.1-8.3.1 18.6.1-7.2.1 1.6.1 5.8.1-9.4.1.1.1.6.1-10 .2 8 .1-.3.1 20.6.1-34.1.1 8.7.1-3.2.1-6.6.1-1.6.1 22.9.1-26.3.1 2.8.1 4.5.1-8.9.1 8 .1-1.3.1 6.1.1 2.6.1-10.2.1 15.9.1-26.1.1 13.9.1 10 .1-2.9.1 22.4.1-9.8.1-15.2.1-7.8.1 14.2.1-10 .1 13.2.1-12.2.2-2.4.1-12.9.1 13.2.1 10.1.1-21.9.1 9.5.1 6 .1.8.1-27.7.1 15.7.1 2.9.1 6.9.1-9.7.1 26.7.1-4.2.1-14.3.1 3.2.1 9.6.1-2.8.1 20.5.1 5.8.1-9.9.1 7.9.1-1.8.1-19 .1 2.1.1 14.2.1 6.2.1-12.1.1 4.4.1-5.3.1-4.4.2-15.6.1 7.4.1.5.1-.7.1-1.5.1 6.3.1-9.8.1-4.7.1 9.7.1-3.9.1 12.4.1 9.7.1-15.9.1-10.9.1 19 .1 1.3.1-6.2.1-2.8.1 1.7.1-6.3.1 16.9.1-16.2.1 11.3.1 3.5.1-7.5.1 15.2.1-23.1.1-6.9.1 6.6.1 7.2.1 12.3.2-8.7.1 4 .1-6.7.1-2.3.1 2.8.1-11.2.1-3.2.1 13.9.1-7.7.1-8.5.1-4.3.1 1.7.1 17.9.1 4.1.1-9.5.1 22.8.1-3.6.1-8.1.1-18.5.1-4.2.1 20.9.1-10.5.1-5.6.1 13.7.1 10 .1-5.2.1 4 .1-17.5.1 5.3.1 4.5.1 6.7.1-12.7.2 19.2.1 4.7.1-10 .1 24.9.1-20.2.1-17.8.1 4.5.1 23.6.1.5.1-3.5.1-19.4.1-12.2.1 15.4.1-.7.1-1.4.1-5.7.1 10.8.1-16.8.1 5.5.1 17.2.1-12.2.1-9 .1 5.1.1 12 .1-9.6.1-14.5.1 30.7.1-21.6.1 10.3.1-10.4.1-4.4.2 5.7.1-10 .1 7.3.1-10.7.1 15.7.1-2 .1-9.5.1-7.4.1 3.2.1 19.6.1-12.6.1 4.8.1 2.7.1 3.9.1-14.2.1 2.3.1-1.3.1 16.7.1 7 .1-19.5.1 1.3.1-4.5.1-4.1.1-15.4.1 15.8.1 8.8.1-8.3.1-13 .1 13.3.1 8.4.1-9.9.1-3.8.2 10.3.1-6.8.1 3.4.1-2.8.1-4.5.1-3.3.1-8.7.1-6.3.1 12.2.1-.5.1 3.6.1-2.8.1 7.1.1-5.4.1 20.5.1 6.9.1-8.1.1-3.9.1 19.4.1-20.9.1 21.5.1-27.7.1 1.1.1 13.1.1-4.3.1-4.2.1 1.5.1 6.3.1 3.2.1.1.1-19.7.2 19.1.1-11.4.1 4.1.1 4.1.1 15 .1 7.3.1-26.7.1 17.2.1 17.6.1-20.3.1 1 .1-6.3.1-6.5.1 9 .1-7 .1-15 .1-.6.1 7.1.1-2 .1 5.5.1-8.1.1 6.4.1 25 .1-20.9.1 8.5.1-20 .1 11.7.1-6.3.1 2.7.1 23.2.1-.9.1-16.6.2.3.1-14.5.1 17.5.1-16.9.1 9.1.1-2.7.1 17 .1-19.5.1 6.6.1 6.7.1-10.9.1-1 .1 8.1.1 25.2.1-8 .1-7.7.1 6.8.1-11.9.1 2.8.1 12.3.1-14 .1-4.8.1 8.4.1-9 .1-18.8.1 4 .1 6 .1 1.1.1-15.3.1 8 .1 6.4.2 10.5.1-33.7.1 17.5.1 6.4.1 13.6.1.6.1-21.1.1.1.1 3.8.1 8.1.1-2.9.1 3.8.1-9.7.1 1.3.1 7.7.1 19.9.1-21.6.1-2.4.1-19.6.1 28.9.1 4.4.1-2.7.1-7.8.1 0 .1-25.4.1 37.4.1-25.6.1 30.1.1-32.2.1 11.3.1 19.8.2-22 .1-7.9.1 8.3.1 5.8.1-9.5.1 6.1.1-22.8.1-.8.1 10 .1-.8.1 5.8.1-13.4.1 17.9.1-8.4.1-.2.1 15.3.1-12.7.1 5.7.1-10.6.1 2.5.1-1.7.1 20.1.1-.2.1-14.6.1-1.2.1-1.6.1 13.2.1 17.4.1-11.3.1 5.8.1-11.1.1 17.3.2-14.7.1 4 .1-4.7.1 1 .1-2.8.1 3.7.1 2 .1 3.7.1-.2.1-12.8.1-8.5.1 19.3.1-4.2.1-12.9.1-.4.1 27.2.1-15.1.1 17.1.1-27 .1 16.2.1 8 .1-17.1.1-10.6.1 7.7.1 2.8.1 3.7.1-25.6.1.9.1-3.3.1 22.2.1-15.1.2-5.5.1-11.9.1 2.6.1 6.5.1 5.1.1-8.7.1-4.9.1 3.7.1-4.7.1 0 .1 8.1.1 1 .1 18.4.1-12.7.1 3.9.1 2.7.1 6.6.1-9.6.1 13.3.1-5.3.1 17.3.1-32.5.1 15.4.1.5.1 7 .1-14.2.1-2.9.1 6.7.1 13.4.1-13.3.1 1.9.1-2.1.2-11.9.1 18.2.1-5 .1 7.3.1-12 .1 27.7.1.7.1-2.6.1.5.1-7.7.1-6.4.1 16.4.1-6.9.1-1 .1-17 .1 24.6.1 8.8.1-7.1.1-2.4.1-4.4.1-10.6.1 8.2.1-9.9.1 17.2.1 9.3.1-19.5.1 3.8.1-19.4.1 14.3.1-9 .1 12 .2-.6.1 8.3.1-5.2.1 6.7.1-14.3.1 3.4.1 15 .1-16.4.1 2.9.1 1.5.1-6.2.1-1.7.1 12.1.1 2.2.1-11.2.1 10.3.1-19.7.1 2.8.1-9.1.1 11 .1-1.4.1-3.6.1 11.4.1-12.4.1 3.8.1 11.7.1-.8.1-1.5.1-5.8.1 17.5.1 11.9.1-12.6.2-22.9.1 1.8.1 27.6.1-19.1.1.5.1 14.1.1-19.5.1 20.1.1-.4.1-18.7.1-15 .1 17.8.1 17.6.1-18.6.1 8.9.1-11.6.1-1 .1-7.7.1 3.7.1-7.7.1 7 .1-8 .1-.3.1 31.4.1-5.7.1-8.5.1-4.9.1-9 .1 33.3.1-7.8.1-14.6.2 4.3.1.7.1 21.3.1-2.3.1 12 .1-20.2.1-4 .1-14.8.1 6.5.1 14.1.1-10.6.1 8.6.1 10.3.1-13.9.1 2.8.1 2.5.1-7.8.1 3 .1 7.4.1 7.5.1-5.7.1-5.1.1 9.4.1-7.9.1 11.3.1-3.2.1 15.2.1-16.9.1-25.3.1 20.9.1-1.8.1 2.9.2-14.3.1-1.6.1.9.1 1.5.1-14.7.1 13.6.1-9.1.1-25.8.1 10.8.1 1.9.1 11.4.1 3 .1-21.2.1 10.4.1 10.2.1-1.7.1 7.5.1-.7.1 5.8.1-2 .1-13 .1 23.9.1-18 .1 4.9.1 6 .1-14.3.1 30.5.1 4.6.1-3.1.1-15.4.1 37.8.2-34.6.1 6.4.1 20.9.1-18.9.1 7.1.1 5.2.1-8.4.1 2.4.1 19.4.1-4 .1-7.2.1-7.8.1-2 .1-14.7.1 1.6.1-.1.1 14.3.1-11.2.1 16.6.1 13.7.1-15.7.1 16.7.1-14.7.1-5 .1 1 .1 8.1.1-17.9.1-10.1.1-1.7.1-2.8.1 9.1.2-5.1.1 3.5.1-15.3.1-.5.1 18.8.1-13.3.1 5.2.1 5.3.1-14.7.1 5.2.1-22.6.1 19.4.1 4.3.1-3.9.1 4.8.1-11.5.1 16.6.1-10.4.1 3.9.1 2 .1 11.6.1 13.8.1-14.5.1-10.4.1 19.1.1.7.1-4.1.1-11.7.1 2.9.1 1.8.1 22.4.1-33.9.2 26.6.1-6 .1-1.9.1-12.9.1 3 .1 14 .1-5.8.1 13.6.1 1.6.1-3.4.1-23.2.1 8 .1 13.1.1-.6.1 8.3.1-29.7.1 13.7.1-20.4.1 22.1.1 6.8.1-8.2.1-2.2.1-3.9.1 18.1.1-40.8.1-3.7.1 16.3.1-1.6.1 21.5.1-19.4.1-3.2.2-1.7.1-16 .1 14.2.1 7.2.1-8.1.1-7.1.1-1.4.1 12.7.1-5.6.1-6.8.1 7 .1-2 .1 6.9.1-17.4.1 7.3.1-5.2.1 1.1.1 1.5.1 3.2.1-20.7.1 13.7.1-4.7.1 2.1.1-13.8.1 23.3.1 5.4.1-6.7.1-13.7.1 12.9.1 1.5.1 4.7.1-7.9.2-.6.1 26.2.1-18.8.1 8.7.1-21.5.1 8.3.1-1.9.1 8.7.1-18.3.1 14.5.1 6.8.1-1.7.1-5.1.1-3.5.1 3.4.1-2.5.1-5.4.1 15.4.1 19.4.1-17.4.1 4.1.1 14.8.1-10.1.1-7.3.1-4.4.1-6.8.1.6.1 20.2.1 10.2.1-33.3.1 15.7.2 8.9.1-3.9.1 10.6.1 8.4.1-25.9.1 13.6.1-3.9.1-8.8.1-.4.1-4.7.1-6.1.1-6 .1-8.1.1 28.7.1-17.2.1 11.7.1 11.6.1-20.6.1 1.3.1-7.7.1 4.1.1 11.8.1-19.7.1 1.8.1 7 .1 12.9.1-6.7.1.7.1 14.4.1 12.3.1-31.8.1 17.5.2-1.9.1-1.7.1-7.6.1-17.9.1 25.2.1-1.3.1-13.4.1 2.6.1-19.9.1-.6.1 4.7.1 12 .1 16.2.1-18.6.1-4.1.1-7.3.1 14 .1 5.2.1.3.1 16 .1-17 .1 5.2.1-10.5.1 4.9.1 8.2.1 5.2.1-1.2.1-2.2.1 9 .1 4.7.1-32 .2 16.3.1-11.3.1-3.1.1-1.9.1 10.3.1 22.2.1-17.7.1 7.6.1 1.1.1-4.3.1-17.3.1 19.4.1-26.3.1 5.5.1-10.4.1 18.2.1-3.6.1-3.1.1 4.8.1-24.5.1 35.3.1-14.2.1-2.6.1 1 .1-6 .1 12.1.1.3.1-1.4.1-36.6.1 25.2.1 1.1.1 6.3.2 8.8.1-9.8.1-26 .1 12.8.1-1.8.1 12.8.1.4.1 10.8.1-8.9.1 22.1.1-18.8.1 22.3.1.8.1-2.1.1-6.7.1-1.4.1 18.7.1 3.8.1-30.2.1 2.7.1 6 .1-3.1.1-5.8.1 7.1.1-8.2.1 3.5.1-7.1.1-1.5.1 12.4.1 6.2.1-1.7.2 6.3.1-10 .1 6.1.1-16.4.1 17 .1-23.2.1.3.1 6.8.1 12.9.1-14.7.1 12.8.1 9.6.1-11.4.1 1.7.1 8.3.1-14.4.1 7.6.1-4.6.1-17.7.1-2.4.1 3.5.1 2.1.1 4.1.1 22.7.1-5.3.1 1.6.1 7 .1-6.5.1-2 .1-7.5.1 5.6.1-11.4.2 18.8.1-1.2.1 4.8.1-6.1.1-19.6.1 22.2.1-10 .1 0 .1-2.5.1-7.5.1 10.8.1-3 .1.7.1 18.5.1-3.3.1-14.5.1 8 .1-20.3.1-4.3.1 8.1.1-8.2.1 7.4.1-7.1.1-24.6.1 18.6.1 10.6.1 4.3.1-36.9.1 26.2.1 6 .1-7.7.2-9.6.1 9.7.1 19.3.1-2 .1 1.3.1-4.9.1-12.3.1 16.5.1-14.7.1-9.8.1-5.2.1-3.2.1 17.7.1 4.3.1-1.4.1-7.1.1 3.7.1 13.9.1-16 .1-9.7.1 1.1.1 21.7.1-17.6.1 20 .1-9.6.1 4.9.1-6.2.1-5.5.1 3.6.1-7.8.1 15.2.2-10 .1 4.2.1-16.2.1 19.6.1-11.7.1 8.5.1-7.5.1 6.5.1 4 .1 13.4.1-10.3.1-9.7.1 12.7.1-9.6.1-8.8.1 13.4.1-15.7.1-1 .1 6.7.1 6.2.1-5.9.1 11.7.1-29.7.1 14.6.1-4.6.1-4.2.1 16.5.1-13.7.1-9.7.1-4.6.1 20.4.1-10.6.2.1.1 20.2.1-12.3.1 9 .1-6.9.1 3.2.1-12.3.1 17.6.1 0 .1 13.6.1-19.3.1 8.2.1 5.9.1-17.4.1 2.5.1 7.5.1-3 .1 13.2.1-10.1.1-5.4.1 11.8.1-20.8.1 14 .1 4 .1 5.1.1 19.2.1-9.2.1-21.6.1 11.6.1 1.3.1 2.1.2-6.5.1-.6.1-2.3.1 2.1.1-3.6.1-5.3.1 6.1.1-2.9.1 6.4.1 10.4.1-24.9.1 11.9.1-27.4.1 20.1.1 14.7.1-14.7.1-7.5.1 31.9.1-13.9.1.8.1-18.8.1 12.8.1 27.1.1-17.2.1-5.7.1-.6.1 2.9.1 5 .1 2.7.1 6.5.1-2.6.1-19.9.2 14.7.1 10.3.1-9.3.1-8.5.1 7.6.1-6 .1-17.1.1 18 .1-1.2.1 4.2.1 8.4.1-25.2.1 8 .1-.6.1 16.8.1 5.3.1-28.3.1-9.7.1 8.9.1 22 .1-19.4.1 13.7.1 14.8.1 0 .1-11.9.1-2.9.1.1.1 14.7.1-10.9.1-9.6.1-10.4.2 7 .1 11.8.1-10.1.1 3.8.1-26.5.1 29.6.1-10.6.1 21.8.1-16.5.1 1.6.1-5.4.1-18.2.1 4.3.1 2.2.1.7.1-.4.1 2.1.1 17.5.1-7.4.1.4.1 29.7.1-20.4.1-4.9.1-10.1.1 6.6.1-12.3.1 5.4.1 7.8.1 7.2.1-9.6.1-1.2.1-.5.2-23.2.1 13.5.1.2.1 3.7.1 5 .1-.3.1-18.5.1 11.1.1-4 .1 8.3.1-7 .1-1.4.1 4.5.1 12.2.1-5.4.1-5.3.1-8.3.1 6.5.1-8.4.1 8.4.1 1.7.1-5.2.1 3.4.1-9.5.1-7 .1 29.3.1-5 .1 14 .1-.6.1 7.3.1-1.5.2-20.7.1.6.1 5.3.1-.7.1-13.5.1 25.3.1-10.5.1 20.1.1.3.1-12.7.1-3.4.1 14 .1-11.6.1-7.5.1-9.1.1 17.5.1 6.2.1-.2.1 11.5.1-26.9.1 6.6.1-2.5.1-13.3.1 29.4.1 2.5.1-2.2.1-14 .1-9.5.1 12.3.1-5.9.1-16.2.1 10 .2-5.5.1 21.6.1-26.5.1 1.6.1 8.3.1-3.2.1 3.2.1-6.7.1 18.1.1-18.6.1-.2.1 9.6.1 13 .1-17.6.1.3.1-.9.1-12.4.1 10.7.1 10.3.1-11.8.1-5.8.1 17.1.1 18.8.1-6.8.1-6.8.1 13.6.1-4 .1 7.3.1 7.3.1-28.5.1 9.3.2-3.8.1 9.2.1-5.2.1-9.8.1 16.3.1 10.7.1-16.7.1-14.9.1-.6.1-5.2.1 11.2.1-9.7.1 13.6.1 6.2.1.8.1 7.3.1-11.2.1-10.1.1 8.9.1-5.7.1 11.8.1-11.4.1 13.6.1-22.7.1 14.1.1 6.4.1-18.1.1 18.3.1-4.1.1-1 .1-7.8.2 17.6.1.5.1-24.5.1 14.9.1.1.1 16.1.1-20.5.1-4.3.1 17.1.1-2.4.1-14 .1-11.6.1 22.5.1-10.4.1-12.6.1-1.4.1-16.6.1 16.3.1 9.3.1-6.2.1 11 .1-3.1.1-6.6.1 5.1.1-8 .1-9.6.1-1.2.1.9.1 13.4.1-16.9.1 4.1.1 2.6.2-.7.1 14.6.1-5.9.1-21.4.1 9.2.1-3.7.1 14 .1-16.8.1 31.8.1-9.1.1 11.1.1-17.6.1-15 .1 9.1.1-.1.1-4.9.1-9.1.1 25.6.1 3.9.1-26.9.1 3.8.1-2.8.1 13.4.1-6.2.1 7.9.1-17.5.1 15 .1-4.2.1 17.3.1-2.4.1 7.6.2-14.6.1-3.2.1 6.7.1 9.4.1-20.9.1 28.6.1-12.9.1-4.2.1 4 .1-7.7.1 23.3.1-26.8.1 3.4.1 9.8.1-5.8.1 3.5.1 12.7.1-4.8.1-20.9.1 4.1.1 29.8.1-9.9.1.3.1.1.1-3.8.1-11.3.1 2.9.1 4 .1-7.7.1 5.2.1-2.1.1 9.7.2.4.1 3.8.1 5.2.1-19.2.1-5.5.1 3.4.1 5.4.1 16.2.1-20.1.1 8.2.1 6 .1 10.2.1-15 .1 7.4.1 2.7.1-20.9.1 4.8.1-1.7.1 8.4.1 6.5.1 1.4.1-22.7.1-18.6.1 35.9.1-3.2.1-1.7.1 5.1.1-7.7.1 1.7.1-6.7.1 2.5.2.1.1-4.6.1-8.8.1 9.7.1 20.9.1-39.1.1 27.9.1-1.1.1-8.6.1 14.3.1-21.4.1-3.3.1 3.9.1 14.5.1-16.7.1 8.6.1 6.7.1-7.7.1 10.1.1 7.3.1 2.9.1-6.7.1 13.8.1-.4.1 1.2.1-8.7.1 4.1.1-9 .1 1.4.1 19.2.1-20.5.1 4.1.2 2.6.1 7.1.1-.1.1 4 .1-23.8.1 1.5.1 14.9.1-17.7.1-12 .1-3.5.1 7.5.1 1.5.1 7.9.1 1.6.1 21.4.1-16 .1-14.6.1 10.8.1.5.1 3.7.1.2.1-6.9.1 6.7.1-18 .1.5.1-.9.1 2 .1 2.1.1 2 .1-.5.1 6.1.2-19.5.1 5.9.1 19.7.1-.1.1 9.7.1-22.9.1 7 .1-3.8.1 2.1.1-12.6.1 2.9.1-8.5.1 7.5.1-7.9.1-2.2.1 12.1.1-4.5.1 8.8.1 4.8.1-12.7.1 9.7.1 8.8.1-5.3.1 11.1.1-4.3.1-6.1.1-13.1.1 17.7.1 7.3.1-11.9.1-1.4.1 1.9.2-3.6.1-.6.1 11.4.1 5.7.1-3.6.1.7.1-18.3.1 20.2.1-11.6.1 4 .1.5.1 1.3.1 8.2.1-3.1.1 3.6.1-23.2.1-1.4.1 9.6.1-1.5.1 9.7.1 4.4.1 8.4.1-13.5.1-8.2.1-8.7.1 7.8.1 12.2.1-5.3.1-1.4.1-7.9.1-4.7.2-4.9.1 2 .1 12.1.1-9.6.1 12.4.1-12.4.1-8.8.1 3.7.1 25.6.1-17.2.1 3.2.1 13.4.1-2 .1-4 .1-15.2.1 22.1.1-16.2.1 17.7.1-24.4.1 18.3.1.4.1 21.7.1-22.4.1-6.6.1 15.5.1-20 .1 5.7.1-4.2.1 4.7.1-5.1.1 3.7.1-5.7.2 7.7.1-6.5.1-6.2.1 18.3.1.8.1.1.1-7 .1 8 .1 10.1.1-6.1.1-14.1.1-9.7.1 10.5.1-.6.1-24 .1 29.2.1.4.1-.5.1-5.9.1 1.4.1 4.8.1 9.2.1-11.1.1-5.5.1-12.5.1 14.9.1-25.6.1 10.4.1-.1.1 11.2.1 6.5.2-12.5.1 2.6.1-12 .1 8.2.1-2.6.1 9.4.1-20.8.1 4.5.1-.3.1 8.2.1-4 .1-1.4.1 19.2.1-6.7.1-16.2.1 10.6.1 6.6.1 1.7.1 5.9.1.7.1-13.4.1 13.2.1 21.8.1-28.8.1 14.3.1 10.1.1-22.5.1 9 .1-23.9.1 27.5.1-11.1.2-10 .1 12.6.1 10.4.1.1.1-3.4.1-2 .1-1.6.1 6.4.1 5.8.1-15.8.1 13.6.1-19.2.1 9.9.1 2.5.1-1.2.1 2 .1.4.1 9.1.1-12.7.1-.6.1-10.2.1 2 .1 2.4.1 2.2.1-9.2.1 20.4.1-14.7.1 14.8.1-2.1.1 6.5.1 2.9.1-13.9.2-5.9.1-7.2.1 12.7.1-10 .1 9.8.1-11.5.1 4.3.1-16.9.1 22 .1-18.6.1-8.8.1.9.1-2.4.1 21.9.1-4.4.1-10.7.1-10.1.1 26.3.1 9.1.1-6.1.1-.1.1-4.9.1 27.4.1-26.3.1-1.5.1 7.2.1 8.5.1-3.7.1 4.1.1-32.6.1 7.3.2 9 .1 1.9.1 21 .1-27.9.1 18.9.1-9.4.1 16.6.1-.8.1-12.6.1-20.3.1 15.7.1 9 .1 7.4.1-14.4.1 2.8.1-4.5.1-2.4.1 3.4.1 18.1.1-21.7.1-10.1.1 22.8.1-5.3.1-8.3.1 10.1.1-6.2.1 7.4.1-2.3.1.1.1-21.3.1 36.2.1-28.5.2 5.9.1-.6.1 6.4.1 8.3.1-4.4.1 3.5.1.6.1-8.1.1 1.9.1-6.8.1 12.2.1 8.8.1-22.3.1 6.2.1-17.1.1 16.9" fill="none" stroke="#00ff00" stroke-width="0.5" stroke-opacity="0.85" stroke-linejoin="round" clip-path="url(#cE)"/>
<rect x="224.4" y="399.3" width="288.80000000000007" height="179.99999999999994" fill="none" stroke="#4a4a4a" stroke-width="1"/>
<line x1="219.9" y1="579.3" x2="224.4" y2="579.3" stroke="#4a4a4a" stroke-width="1"/>
<text x="205.3" y="581.5" font-family='"Liberation Serif", serif' font-size="6.7" font-weight="bold" fill="#000" textLength="12.0" lengthAdjust="spacingAndGlyphs">130</text>
<line x1="221.9" y1="568.0" x2="224.4" y2="568.0" stroke="#4a4a4a" stroke-width="1"/>
<line x1="219.9" y1="556.8" x2="224.4" y2="556.8" stroke="#4a4a4a" stroke-width="1"/>
<text x="205.3" y="559.0" font-family='"Liberation Serif", serif' font-size="6.7" font-weight="bold" fill="#000" textLength="12.0" lengthAdjust="spacingAndGlyphs">135</text>
<line x1="221.9" y1="545.5" x2="224.4" y2="545.5" stroke="#4a4a4a" stroke-width="1"/>
<line x1="219.9" y1="534.3" x2="224.4" y2="534.3" stroke="#4a4a4a" stroke-width="1"/>
<text x="205.3" y="536.5" font-family='"Liberation Serif", serif' font-size="6.7" font-weight="bold" fill="#000" textLength="12.0" lengthAdjust="spacingAndGlyphs">140</text>
<line x1="221.9" y1="523.0" x2="224.4" y2="523.0" stroke="#4a4a4a" stroke-width="1"/>
<line x1="219.9" y1="511.8" x2="224.4" y2="511.8" stroke="#4a4a4a" stroke-width="1"/>
<text x="205.3" y="514.0" font-family='"Liberation Serif", serif' font-size="6.7" font-weight="bold" fill="#000" textLength="12.0" lengthAdjust="spacingAndGlyphs">145</text>
<line x1="221.9" y1="500.5" x2="224.4" y2="500.5" stroke="#4a4a4a" stroke-width="1"/>
<line x1="219.9" y1="489.3" x2="224.4" y2="489.3" stroke="#4a4a4a" stroke-width="1"/>
<text x="205.3" y="491.5" font-family='"Liberation Serif", serif' font-size="6.7" font-weight="bold" fill="#000" textLength="12.0" lengthAdjust="spacingAndGlyphs">150</text>
<line x1="221.9" y1="478.0" x2="224.4" y2="478.0" stroke="#4a4a4a" stroke-width="1"/>
<line x1="219.9" y1="466.8" x2="224.4" y2="466.8" stroke="#4a4a4a" stroke-width="1"/>
<text x="205.3" y="469.0" font-family='"Liberation Serif", serif' font-size="6.7" font-weight="bold" fill="#000" textLength="12.0" lengthAdjust="spacingAndGlyphs">155</text>
<line x1="221.9" y1="455.5" x2="224.4" y2="455.5" stroke="#4a4a4a" stroke-width="1"/>
<line x1="219.9" y1="444.3" x2="224.4" y2="444.3" stroke="#4a4a4a" stroke-width="1"/>
<text x="205.3" y="446.5" font-family='"Liberation Serif", serif' font-size="6.7" font-weight="bold" fill="#000" textLength="12.0" lengthAdjust="spacingAndGlyphs">160</text>
<line x1="221.9" y1="433.0" x2="224.4" y2="433.0" stroke="#4a4a4a" stroke-width="1"/>
<line x1="219.9" y1="421.8" x2="224.4" y2="421.8" stroke="#4a4a4a" stroke-width="1"/>
<text x="205.3" y="424.0" font-family='"Liberation Serif", serif' font-size="6.7" font-weight="bold" fill="#000" textLength="12.0" lengthAdjust="spacingAndGlyphs">165</text>
<line x1="221.9" y1="410.5" x2="224.4" y2="410.5" stroke="#4a4a4a" stroke-width="1"/>
<line x1="219.9" y1="399.3" x2="224.4" y2="399.3" stroke="#4a4a4a" stroke-width="1"/>
<text x="205.3" y="401.5" font-family='"Liberation Serif", serif' font-size="6.7" font-weight="bold" fill="#000" textLength="12.0" lengthAdjust="spacingAndGlyphs">170</text>
<line x1="224.4" y1="579.3" x2="224.4" y2="582.3" stroke="#4a4a4a" stroke-width="1"/>
<text x="222.3" y="590.9" font-family='"Liberation Serif", serif' font-size="6.7" font-weight="bold" fill="#000" textLength="4.2" lengthAdjust="spacingAndGlyphs">0</text>
<line x1="253.3" y1="579.3" x2="253.3" y2="581.1" stroke="#4a4a4a" stroke-width="1"/>
<line x1="282.2" y1="579.3" x2="282.2" y2="582.3" stroke="#4a4a4a" stroke-width="1"/>
<text x="278.1" y="590.9" font-family='"Liberation Serif", serif' font-size="6.7" font-weight="bold" fill="#000" textLength="8.2" lengthAdjust="spacingAndGlyphs">20</text>
<line x1="311.0" y1="579.3" x2="311.0" y2="581.1" stroke="#4a4a4a" stroke-width="1"/>
<line x1="339.9" y1="579.3" x2="339.9" y2="582.3" stroke="#4a4a4a" stroke-width="1"/>
<text x="335.8" y="590.9" font-family='"Liberation Serif", serif' font-size="6.7" font-weight="bold" fill="#000" textLength="8.2" lengthAdjust="spacingAndGlyphs">40</text>
<line x1="368.8" y1="579.3" x2="368.8" y2="581.1" stroke="#4a4a4a" stroke-width="1"/>
<line x1="397.7" y1="579.3" x2="397.7" y2="582.3" stroke="#4a4a4a" stroke-width="1"/>
<text x="393.6" y="590.9" font-family='"Liberation Serif", serif' font-size="6.7" font-weight="bold" fill="#000" textLength="8.2" lengthAdjust="spacingAndGlyphs">60</text>
<line x1="426.6" y1="579.3" x2="426.6" y2="581.1" stroke="#4a4a4a" stroke-width="1"/>
<line x1="455.4" y1="579.3" x2="455.4" y2="582.3" stroke="#4a4a4a" stroke-width="1"/>
<text x="451.3" y="590.9" font-family='"Liberation Serif", serif' font-size="6.7" font-weight="bold" fill="#000" textLength="8.2" lengthAdjust="spacingAndGlyphs">80</text>
<line x1="484.3" y1="579.3" x2="484.3" y2="581.1" stroke="#4a4a4a" stroke-width="1"/>
<line x1="513.2" y1="579.3" x2="513.2" y2="582.3" stroke="#4a4a4a" stroke-width="1"/>
<text x="507.1" y="590.9" font-family='"Liberation Serif", serif' font-size="6.7" font-weight="bold" fill="#000" textLength="12.2" lengthAdjust="spacingAndGlyphs">100</text>
<text x="348.0" y="603.8" font-family='"Liberation Serif", serif' font-size="8.8" font-weight="bold" fill="#000" textLength="41.2" lengthAdjust="spacingAndGlyphs">Time (ns)</text>
<text transform="translate(201.2,510.5) rotate(-90)" font-family='"Liberation Serif", serif' font-size="10" font-weight="bold" textLength="41.8" lengthAdjust="spacingAndGlyphs">Area (nm<tspan font-size="6.5" dy="-4">2</tspan><tspan dy="4">)</tspan></text>
<text x="237.0" y="422.7" font-family='"Liberation Serif", serif' font-size="16.4" font-weight="bold" fill="#000" textLength="10.8" lengthAdjust="spacingAndGlyphs">E</text>
<rect x="424.5" y="399.3" width="88.70000000000005" height="27.899999999999977" fill="#fff" stroke="#aaa" stroke-width="0.8"/>
<line x1="425.8" y1="404.5" x2="444.0" y2="404.5" stroke="#aaa" stroke-width="0.8"/>
<line x1="425.8" y1="413.6" x2="444.0" y2="413.6" stroke="#ff9999" stroke-width="0.8"/>
<line x1="425.8" y1="422.7" x2="444.0" y2="422.7" stroke="#88ff88" stroke-width="0.8"/>
<text x="446.8" y="406.8" font-family='"Liberation Serif", serif' font-size="6.8" font-weight="bold" fill="#000" textLength="56.3" lengthAdjust="spacingAndGlyphs">Control protein</text>
<text x="446.8" y="415.9" font-family='"Liberation Serif", serif' font-size="6.8" font-weight="bold" fill="#000" textLength="64.3" lengthAdjust="spacingAndGlyphs">phenyl carbamate</text>
<text x="446.8" y="425.0" font-family='"Liberation Serif", serif' font-size="6.8" font-weight="bold" fill="#000" textLength="34.0" lengthAdjust="spacingAndGlyphs">Co-factor</text>
<rect x="224.4" y="399.3" width="288.80000000000007" height="179.99999999999994" fill="none" stroke="#4a4a4a" stroke-width="1"/>
</svg>
</body></html>
